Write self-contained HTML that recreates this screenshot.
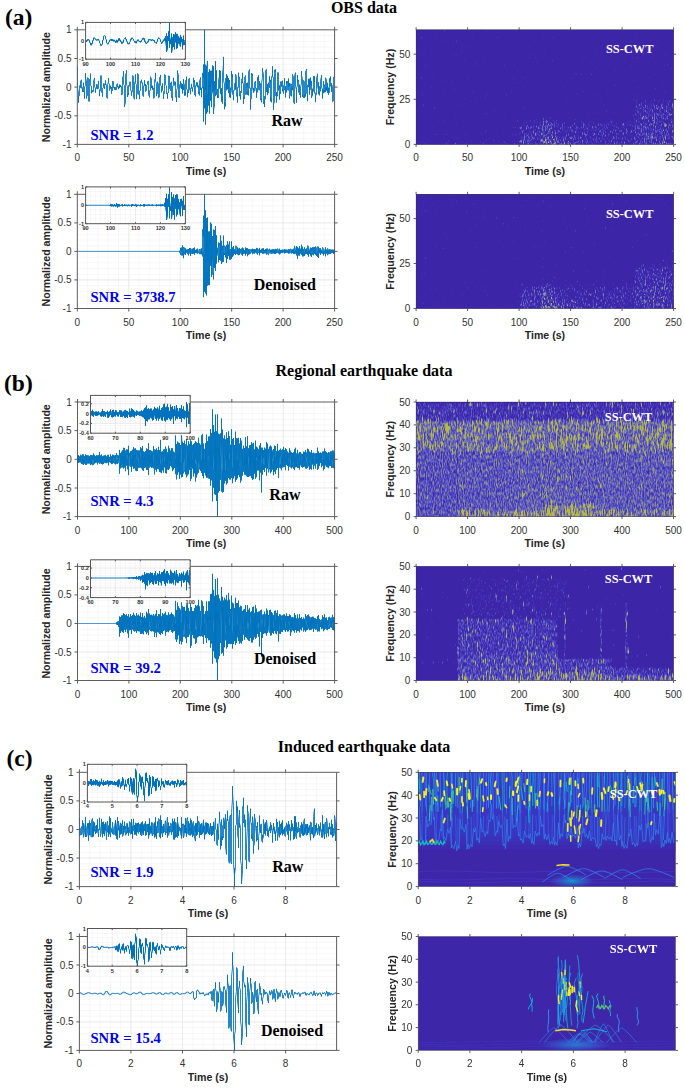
<!DOCTYPE html>
<html><head><meta charset="utf-8"><style>
html,body{margin:0;padding:0;background:#fff;width:685px;height:1088px;overflow:hidden}
svg{display:block}

</style></head><body><svg width="685" height="1088" viewBox="0 0 685 1088" font-family="Liberation Sans, sans-serif"><text x="5" y="25" font-family="Liberation Serif, serif" font-weight="bold" font-size="23.5">(a)</text><text x="364" y="12.5" font-family="Liberation Serif, serif" font-weight="bold" font-size="16" text-anchor="middle">OBS data</text><text x="4" y="391.3" font-family="Liberation Serif, serif" font-weight="bold" font-size="23.5">(b)</text><text x="364" y="376.3" font-family="Liberation Serif, serif" font-weight="bold" font-size="16" text-anchor="middle">Regional earthquake data</text><text x="6.5" y="766" font-family="Liberation Serif, serif" font-weight="bold" font-size="23.5">(c)</text><text x="364" y="752.4" font-family="Liberation Serif, serif" font-weight="bold" font-size="16" text-anchor="middle">Induced earthquake data</text><path d="M87.6 29.8V144.4M97.9 29.8V144.4M108.2 29.8V144.4M118.5 29.8V144.4M128.8 29.8V144.4M139.1 29.8V144.4M149.3 29.8V144.4M159.6 29.8V144.4M169.9 29.8V144.4M180.2 29.8V144.4M190.5 29.8V144.4M200.8 29.8V144.4M211.1 29.8V144.4M221.4 29.8V144.4M231.7 29.8V144.4M242 29.8V144.4M252.3 29.8V144.4M262.6 29.8V144.4M272.8 29.8V144.4M283.1 29.8V144.4M293.4 29.8V144.4M303.7 29.8V144.4M314 29.8V144.4M324.3 29.8V144.4M77.3 138.7H334.6M77.3 132.9H334.6M77.3 127.2H334.6M77.3 121.5H334.6M77.3 115.8H334.6M77.3 110H334.6M77.3 104.3H334.6M77.3 98.6H334.6M77.3 92.8H334.6M77.3 87.1H334.6M77.3 81.4H334.6M77.3 75.6H334.6M77.3 69.9H334.6M77.3 64.2H334.6M77.3 58.5H334.6M77.3 52.7H334.6M77.3 47H334.6M77.3 41.3H334.6M77.3 35.5H334.6" stroke="#f1f1f1" stroke-width="0.6" fill="none"/><path d="M128.8 29.8V144.4M180.2 29.8V144.4M231.7 29.8V144.4M283.1 29.8V144.4M77.3 115.8H334.6M77.3 87.1H334.6M77.3 58.5H334.6" stroke="#e6e6e6" stroke-width="0.7" fill="none"/><clipPath id="c8"><rect x="77.3" y="28.8" width="257.3" height="116.6"/></clipPath><g clip-path="url(#c8)"><path d="M77.5 66.3V89.1L78.5 91.3V102.6V95.9L79.5 95.8V85.6L80.5 85.4V87.7V80.8L81.5 80.2V79.8V88.3L82.5 89V91.9V87.5L83.5 86.3V82.7V91.9V91.1L84.5 92.7V98.7V86.9L85.5 85.5V73.2V78.4L86.5 80.4V98.3V96L87.5 95.7V77.6V78.3L88.5 78.2V101.2V101.2L89.5 101.1V101.3V79.2L90.5 78.4V73.6V85.6L91.5 86.1V86V93.3V90.9L92.5 90.6V92.2V90.3L93.5 91V91.4V80.6L94.5 78.8V77.9V86.9L95.5 88.1V92.7V88.9L96.5 87.3V84.3V88.4V88.1L97.5 87.8V89.1V84.8L98.5 83.7V80.9V88.5L99.5 89.6V96.1V90.8L100.5 90.8V75.6L101.5 75.8V92.4L102.5 93.5V96.7V88.1L103.5 87.6V83.5V85.6L104.5 86.4V88.9V83.8L105.5 84.6V85V80.3V83.5L106.5 84.8V97.2V97.1L107.5 98.4V84.3L108.5 82V78V83L109.5 84.1V90.5V89.2L110.5 88.9V85.7V87.8L111.5 88.4V87.1V93.6V91.6L112.5 89.9V90.4V81.3V82L113.5 81.6V81.5V87.9V87.8L114.5 87.9V89.7V87V88.7L115.5 88.7V87.3V90L116.5 89.7V84.6L117.5 84V83.6V87.2V86.4L118.5 87.7V89.1V86.6V87.8L119.5 87.5V84.6V88.1V85.3L120.5 85.8V86.9V84.9V86.5L121.5 86.4V95.1V94.5L122.5 94.3V77.2V77.5L123.5 75.8V71.3V84.4L124.5 85.6V106.7V105L125.5 103.6V74.2L126.5 72.7V70.1V85.1L127.5 86.1V96.9V94.7L128.5 93.1V95.1V85.4V85.5L129.5 86.3V86.3V82.1L130.5 82.4V81.8V90.4L131.5 90.8V95.7V92.4L132.5 91.9V75.4L133.5 76.1V97.9L134.5 98.9V99.3V82.5L135.5 80.8V74.4V83.4L136.5 84.5V99.1V94.5L137.5 93.9V73.5V73.9L138.5 74.3V94.5V94.1L139.5 95V99.1V90.8L140.5 90.6V81.2V81.4L141.5 81.8V79.7V83L142.5 82.6V82.5V95.4L143.5 96.1V96.5V85.8L144.5 85.8V80.3V84.6L145.5 85.4V84V91.8V91.6L146.5 90.7V85.4V85.7L147.5 84.6V81.6L148.5 81V95.1L149.5 96.6V97.4V90.6L150.5 90.4V76.7V77.6L151.5 78.3V78.3V88V86.5L152.5 88V89.7V85.7V88.6L153.5 88V98.3V98.2L154.5 97.6V79.5L155.5 78.6V72.9V81.7V81.6L156.5 83.5V96.1V93.3L157.5 93.7V81.7V83.1L158.5 83.6V97.9V97.9L159.5 97V77.5L160.5 77.1V74.9V85.4L161.5 86V92.3V89.5L162.5 88.3V83.4V90.5L163.5 91.4V98.8V93.9L164.5 93.7V74.5V75.5L165.5 75.4V75.2V84.9L166.5 85.8V93.7V93.2L167.5 93V98.6V93.3L168.5 92.6V92.9V75.8V76.4L169.5 76.5V76.1V88.8L170.5 89.7V90.9V82.8V84L171.5 83.1V81.8V97.6V97.3L172.5 96.6V100.5V86.1L173.5 85.8V77.8V81.1L174.5 81.6V85.4V83.6L175.5 83.9V81.8V97.2L176.5 96.7V102V90.3L177.5 87.8V70.6V72.7L178.5 74.5V97.2V96.9L179.5 97.4V97.7V85.1L180.5 83.7V81.2V87.4L181.5 87.8V83.4V88.9V87.4L182.5 87.3V93.4V84.1V88.4L183.5 86.4V90.1V79.2V82.7L184.5 84.8V84.7V95.7V92L185.5 92.7V95.4V80.6V80.9L186.5 80.8V76.7V89L187.5 90.2V89.8V97.2V92L188.5 92.3V93V79.2V79.5L189.5 78.2V89.9L190.5 91.1V94.2V88.1L191.5 88.4V83.9V87.9L192.5 88.8V91.5V87.3L193.5 86.8V77.8V81.3L194.5 82.5V80.1V94.7V93.9L195.5 95.4V96.4V85.9V86.9L196.5 83.8V82.4V85.5L197.5 86.3V87.1V82.5V86.8L198.5 87.4V85.6V94.1V92.8L199.5 91.8V95.4V80.3L200.5 79V77.5V90V87.6L201.5 88.9V97.1V87.8V88.7L202.5 88.1V72.9L203.5 77.7V64.5V121.5V87L204.5 85.1V29.8V108.4V87.3L205.5 89.7V64.7V124.6V95.8L206.5 93.2V65.9V113.8V70.3L207.5 61V112.2V93.8L208.5 95.6V72.2V105.6V92.6L209.5 78.2V69.2V113.5V82.2L210.5 87.4V100.7V70.8V87.4L211.5 81.4V70.7V107.1V95.6L212.5 91.6V65.5V91.9L213.5 91.4V66.2V114V110.9L214.5 105.2V106V81.3V90.5L215.5 94.9V96.2V61.2V90L216.5 81.6V70.4V94.8V93.6L217.5 89.8V89V98V95.5L218.5 98V79.9L219.5 76.3V70V88.5V87.5L220.5 78.7V70.8V93.7V88.9L221.5 96V88.2V101.6V95.9L222.5 97V103.6V73.6V74L223.5 64.2V56.9V80.9L224.5 84V109.2V102L225.5 104V106.3V78.4V78.4L226.5 80.7V90.3V74.1V85.5L227.5 82.3V75.8V89.3V86.1L228.5 81.7V78.1V93V86.1L229.5 81.1V80V97.2V91.5L230.5 90V87.6V97.9V93.6L231.5 90.5V71.1V74.6L232.5 77.4V74.4V94.6L233.5 95.1V100.2V90.3V91.3L234.5 90.2V83.5L235.5 82.6V89.6V74.1L236.5 76.4V96.3L237.5 94.4V102.6V87.3L238.5 87.4V72.7V77.1L239.5 76.9V96.1V94.9L240.5 94.8V99.5V91.2V91.9L241.5 92.5V92.7V79.3V79.9L242.5 77.9V72.8V82.8V81.8L243.5 84.1V103.8V96.8L244.5 98.9V77.1L245.5 76.5V75.6V94.6V94.3L246.5 93.6V94.4V83.3V83.3L247.5 87V82.7V94.8V92.4L248.5 90.4V95.4V71.5L249.5 70V69.5V88.2L250.5 88V109.5V99.4L251.5 98.8V73.1V74.4L252.5 75.6V73.8V88.7L253.5 91.2V87.9V92.7V91.8L254.5 91.3V82.4L255.5 82.5V81.1V88.6L256.5 91.5V97.8V88.3L257.5 90V92.3V77.3V80.6L258.5 80V75.2V89.8L259.5 90V90V81.1V85.8L260.5 83.7V83.5V100.2V98.3L261.5 100.1V102.3V82.9L262.5 77.7V68.2V71.1L263.5 73.4V103.8L264.5 100.5V107V96.2V98.2L265.5 99.1V70.5L266.5 69.3V92V89.6L267.5 87.5V95.1V84.2V92.3L268.5 93.1V82.6V84.7L269.5 86.3V87.7V76.4V79L270.5 82V79.9V101.3V97.5L271.5 100.2V102.3V76.5L272.5 75.5V66.2V77.2V76.7L273.5 77.2V109.7V104.1L274.5 102.4V69.8V70.6L275.5 71.8V69.5V95.9L276.5 94.7V92.2V102.7V95.9L277.5 95.1V96.2V72.6L278.5 72.6V90.5V90.4L279.5 87.3V85.4V99.5V91.9L280.5 92.9V93.8V81.7L281.5 82.5V81.5V86.6V84.6L282.5 81.7V80.7V91.1V89.3L283.5 92.9V93.6V85.3L284.5 84.2V78.2V90L285.5 89.1V86.2V97.4V89.3L286.5 91.8V92.4V81V83.6L287.5 81.8V81.2V90.1L288.5 90.4V78.5V86.5L289.5 85.7V83V98.3V96.6L290.5 95.3V83.8L291.5 84.4V83.9V96.3V87.9L292.5 87.3V90.2V74.1V75.2L293.5 76.6V102.6L294.5 103.5V104V75.8L295.5 73.1V72.7V86L296.5 90.2V102.7V87.7L297.5 86.1V75.1V81.5L298.5 80.6V79.9V92.3L299.5 92.2V84.6V94.9V94L300.5 93.1V97.5V86.7L301.5 84.1V71.1V75.4L302.5 78.4V96.8V95.2L303.5 97.4V97.9V80.3L304.5 81.7V97.8V94.6L305.5 94V96.5V71.1L306.5 70.2V69.1V93.3L307.5 94.7V101.2V84.9L308.5 86V87.1V78.8V83.7L309.5 87.8V78.8V94.5V88.2L310.5 89.7V77.6V83.4L311.5 85.9V80.9V97.9V97.4L312.5 94.8V88.7V95.3V90.1L313.5 91.4V76.1V78.2L314.5 81.6V76.5V93.2L315.5 92.8V102.1V95.1L316.5 94.8V77.7L317.5 75.3V73.8V86L318.5 89.6V82.3V94.2V91.3L319.5 91.9V95.4V86.4L320.5 88.7V91.3V80.1L321.5 76.7V75.2V87.8L322.5 89.3V88.8V98.5V90.2L323.5 90.2V93.2V81.3V85.3L324.5 85.8V84.7V92.4V89.9L325.5 88.3V92.1V77.7L326.5 79.9V90.6V87.4L327.5 86.5V92.8V82.8V88L328.5 88.4V94.8V87.7V92.8L329.5 92.3V92.6V78.3V81.4L330.5 79.3V76.5V86.3V84.9L331.5 85.1V91.8V83.1V84.2L332.5 86.5V101.8L333.5 100.9V77L334.5 77.1V64.3V64.6" stroke="#0072bd" stroke-width="0.85" fill="none" stroke-linejoin="round"/></g><path d="M77.3 29.8H334.6V144.4H77.3Z" stroke="#4d4d4d" stroke-width="0.9" fill="none"/><path d="M77.3 144.4v3M77.3 29.8v-3M128.8 144.4v3M128.8 29.8v-3M180.2 144.4v3M180.2 29.8v-3M231.7 144.4v3M231.7 29.8v-3M283.1 144.4v3M283.1 29.8v-3M334.6 144.4v3M334.6 29.8v-3M77.3 144.4h-3M334.6 144.4h3M77.3 115.8h-3M334.6 115.8h3M77.3 87.1h-3M334.6 87.1h3M77.3 58.5h-3M334.6 58.5h3M77.3 29.8h-3M334.6 29.8h3" stroke="#4d4d4d" stroke-width="0.9" fill="none"/><g font-size="10" fill="#333333"><text x="77.3" y="161.4" text-anchor="middle">0</text><text x="128.8" y="161.4" text-anchor="middle">50</text><text x="180.2" y="161.4" text-anchor="middle">100</text><text x="231.7" y="161.4" text-anchor="middle">150</text><text x="283.1" y="161.4" text-anchor="middle">200</text><text x="334.6" y="161.4" text-anchor="middle">250</text><text x="71.5" y="147.9" text-anchor="end">-1</text><text x="71.5" y="119.2" text-anchor="end">-0.5</text><text x="71.5" y="90.6" text-anchor="end">0</text><text x="71.5" y="62" text-anchor="end">0.5</text><text x="71.5" y="33.3" text-anchor="end">1</text></g><text x="206" y="174.6" text-anchor="middle" font-weight="bold" font-size="10.6" fill="#262626">Time (s)</text><text transform="translate(49.8 87.1) rotate(-90)" text-anchor="middle" font-weight="bold" font-size="10.6" fill="#262626">Normalized amplitude</text><rect x="85.6" y="22.4" width="99.8" height="36.8" fill="#fff"/><path d="M90.6 22.4V59.2M95.6 22.4V59.2M100.6 22.4V59.2M105.6 22.4V59.2M110.5 22.4V59.2M115.5 22.4V59.2M120.5 22.4V59.2M125.5 22.4V59.2M130.5 22.4V59.2M135.5 22.4V59.2M140.5 22.4V59.2M145.5 22.4V59.2M150.5 22.4V59.2M155.5 22.4V59.2M160.4 22.4V59.2M165.4 22.4V59.2M170.4 22.4V59.2M175.4 22.4V59.2M180.4 22.4V59.2M85.6 54.6H185.4M85.6 50H185.4M85.6 45.4H185.4M85.6 40.8H185.4M85.6 36.2H185.4M85.6 31.6H185.4M85.6 27H185.4" stroke="#f1f1f1" stroke-width="0.6" fill="none"/><path d="M110.5 22.4V59.2M135.5 22.4V59.2M160.4 22.4V59.2M85.6 40.8H185.4" stroke="#e6e6e6" stroke-width="0.7" fill="none"/><clipPath id="c20"><rect x="85.6" y="22.4" width="99.8" height="36.8"/></clipPath><g clip-path="url(#c20)"><path d="M85.5 41.1V41.6V41.5L86.5 41.4V42V40.7V41.1L87.5 40.8V39.4V39.8L88.5 39.8V39.1V40.1L89.5 40.2V42.7L90.5 42.9V45L91.5 45.1V43.3V43.6L92.5 43.9V40.5L93.5 40.4V37.8L94.5 37.9V37.8V38.5L95.5 38.7V39.6L96.5 39.8V39.6V40.3V40.2L97.5 40.1V39.3V39.8L98.5 39.4V39.1V40.4L99.5 40.9V42.9L100.5 43.7V45.4V45.3L101.5 45.4V45.6V44.6L102.5 44.2V40.3L103.5 39.9V36.2L104.5 35.5V35.5V35.9L105.5 36.2V39L106.5 39.6V42.9L107.5 43.4V44.2V44.1L108.5 43.9V42.3L109.5 41.9V40.2L110.5 39.7V39.3V40.3V40L111.5 40.3V40.6V38.9V40.3L112.5 39.8V41V39.6L113.5 39.8V41.4V41.3L114.5 40.6V39.9V41.2V40.9L115.5 41.2V41.1V42.8V41.9L116.5 40.4V39.8V42.3L117.5 42.5V40.5V41.8L118.5 41.1V38.5V39.7L119.5 40.3V38.3V40.2L120.5 40V41.8L121.5 42.3V41.6V43.6V42.9L122.5 42.4V43.5V42L123.5 42.3V42.4V39.8L124.5 39V38.4L125.5 38.1V37.5V39.2L126.5 39.3V39.2V41.4L127.5 41.8V41.7V43.8V43.8L128.5 43.7V43.1V44L129.5 43.9V42.1L130.5 41.5V39.1L131.5 38.5V39.5V37.9L132.5 38V38.8V38V38.4L133.5 39.1V40.6L134.5 41.2V42.4V42.2L135.5 42.6V42.7V41.3V42.3L136.5 43.1V41.1L137.5 41V39.8L138.5 39.8V41.1L139.5 41.3V41.2V41.9V41.8L140.5 41.8V42.2V41.3V42L141.5 41.6V40L142.5 39.7V39.8V38.3V38.6L143.5 38.8V37.8V39.3L144.5 39.2V38.5V41.5V41.2L145.5 41.1V43.2L146.5 43.2V42.9V43.8V43.1L147.5 42.8V41.6V42L148.5 41.9V39.3L149.5 39.8V40.1V39.3V39.6L150.5 39.8V40.2V39.7L151.5 39.9V40.8V39.9L152.5 39.5V39.3V40.3V40.1L153.5 40V40.9V40.6L154.5 40.3V42.3L155.5 42.8V43V42.6L156.5 42.3V43.5V42L157.5 41.8V39L158.5 38.7V38.7V37.7V38L159.5 38.3V38.3V39L160.5 39.5V41.7V41.4L161.5 42.2V44V43.2L162.5 42.8V43V41.1L163.5 41V41.3V39.7V39.7L164.5 40.2V40.6V38.2L165.5 38.7V36.2V42.4L166.5 46.2V33.5V51.9L167.5 48.9V36.3V38L168.5 40V40.8V31.4L169.5 33.4V22.4V47.7V36.3L170.5 39.9V44L171.5 43.1V33.6V52.9L172.5 48.4V37.4V43.6L173.5 42.8V34V46.9L174.5 42.4V49.4V34.7L175.5 35.3V32.4V42.4L176.5 41V48.8V34L177.5 34.1V48.1V43.5L178.5 43.6V36V38L179.5 37.8V44.5L180.5 46.7V35.1V38.2L181.5 38.7V41.5V36.9V39.9L182.5 45.2V49.3V39.2V43.9L183.5 45.2V35.6V43.8L184.5 43.5V41.7V44.9V43L185.5 42V36.6" stroke="#0072bd" stroke-width="1.0" fill="none" stroke-linejoin="round"/></g><path d="M85.6 22.4H185.4V59.2H85.6Z" stroke="#555555" stroke-width="1.0" fill="none"/><path d="M85.6 59.2v-1.5M85.6 22.4v1.5M110.5 59.2v-1.5M110.5 22.4v1.5M135.5 59.2v-1.5M135.5 22.4v1.5M160.4 59.2v-1.5M160.4 22.4v1.5M185.4 59.2v-1.5M185.4 22.4v1.5M85.6 59.2h1.5M185.4 59.2h-1.5M85.6 40.8h1.5M185.4 40.8h-1.5M85.6 22.4h1.5M185.4 22.4h-1.5" stroke="#555555" stroke-width="1.0" fill="none"/><g font-size="5.6" fill="#333333" font-weight="bold"><text x="85.6" y="65.5" text-anchor="middle">90</text><text x="110.5" y="65.5" text-anchor="middle">100</text><text x="135.5" y="65.5" text-anchor="middle">110</text><text x="160.4" y="65.5" text-anchor="middle">120</text><text x="185.4" y="65.5" text-anchor="middle">130</text><text x="84" y="61.2" text-anchor="end">-1</text><text x="84" y="42.8" text-anchor="end">0</text><text x="84" y="24.4" text-anchor="end">1</text></g><text x="90.5" y="140" font-family="Liberation Serif, serif" font-weight="bold" font-size="14.6" fill="#0000f0">SNR = 1.2</text><text x="287" y="125.5" font-family="Liberation Serif, serif" font-weight="bold" font-size="16" fill="#000" text-anchor="middle">Raw</text><rect x="416.1" y="29.8" width="257.5" height="114.6" fill="#3e26a8"/><clipPath id="sc30"><rect x="416.1" y="29.8" width="257.5" height="114.6"/></clipPath><g clip-path="url(#sc30)"><defs><filter id="sf32" filterUnits="userSpaceOnUse" x="416.1" y="29.8" width="257.5" height="114.6" color-interpolation-filters="sRGB"><feGaussianBlur in="SourceGraphic" stdDeviation="1.5 3" result="I"/><feColorMatrix in="I" type="matrix" values="1 0 0 0 0 1 0 0 0 0 1 0 0 0 0 0 0 0 0 1" result="IM"/><feColorMatrix in="I" type="matrix" values="0 1 0 0 0 0 1 0 0 0 0 1 0 0 0 0 0 0 0 1" result="IS"/><feTurbulence type="fractalNoise" baseFrequency="0.9 0.3" numOctaves="2" seed="3" result="n1"/><feColorMatrix in="n1" type="matrix" values="1 0 0 0 0 1 0 0 0 0 1 0 0 0 0 0 0 0 0 1" result="g1"/><feTurbulence type="fractalNoise" baseFrequency="1.1 0.25" numOctaves="2" seed="4" result="n2"/><feColorMatrix in="n2" type="matrix" values="1 0 0 0 0 1 0 0 0 0 1 0 0 0 0 0 0 0 0 1" result="g2"/><feComposite in="IM" in2="g1" operator="arithmetic" k1="0" k2="1.0" k3="2.0" k4="-1.5" result="m1"/><feComposite in="IS" in2="g2" operator="arithmetic" k1="0" k2="3.2" k3="8" k4="-7.2" result="m2"/><feBlend in="m1" in2="m2" mode="lighten" result="m"/><feComponentTransfer in="m"><feFuncR type="table" tableValues="0.243 0.275 0.337 0.455 0.557 0.643 0.729"/><feFuncG type="table" tableValues="0.149 0.220 0.314 0.463 0.580 0.659 0.729"/><feFuncB type="table" tableValues="0.659 0.729 0.769 0.698 0.486 0.345 0.251"/><feFuncA type="linear" slope="0" intercept="1"/></feComponentTransfer><feGaussianBlur stdDeviation="0.4"/></filter></defs><g filter="url(#sf32)"><rect x="412.1" y="25.8" width="265.5" height="122.6" fill="#000"/><rect x="416.1" y="142.6" width="103" height="8.7" fill="#739900"/><rect x="519.1" y="120.9" width="164.8" height="30.3" fill="#733300"/><rect x="519.1" y="120.9" width="20.6" height="30.3" fill="#804c00"/><rect x="519.1" y="137.9" width="12.4" height="2.2" fill="#f24c00"/><rect x="539.7" y="119.1" width="13.4" height="32.1" fill="#a6ad00"/><rect x="541.8" y="137.2" width="18.5" height="14.1" fill="#b2e600"/><rect x="560.3" y="139" width="20.6" height="12.3" fill="#99b800"/><rect x="580.9" y="140.8" width="53.6" height="10.5" fill="#808000"/><rect x="634.5" y="101.1" width="49.4" height="50.2" fill="#8c6b00"/><rect x="639.6" y="122.7" width="28.8" height="28.5" fill="#998c00"/></g></g><path d="M416.1 144.4v2.5M416.1 29.8v-2.5M467.6 144.4v2.5M467.6 29.8v-2.5M519.1 144.4v2.5M519.1 29.8v-2.5M570.6 144.4v2.5M570.6 29.8v-2.5M622.1 144.4v2.5M622.1 29.8v-2.5M673.6 144.4v2.5M673.6 29.8v-2.5M416.1 144.4h-2.5M673.6 144.4h2.5M416.1 99.3h-2.5M673.6 99.3h2.5M416.1 54.2h-2.5M673.6 54.2h2.5" stroke="#4d4d4d" stroke-width="0.9" fill="none"/><rect x="416.1" y="29.8" width="257.5" height="114.6" fill="none" stroke="#262626" stroke-opacity="0.55" stroke-width="0.6"/><g font-size="10" fill="#333333"><text x="416.1" y="161.4" text-anchor="middle">0</text><text x="467.6" y="161.4" text-anchor="middle">50</text><text x="519.1" y="161.4" text-anchor="middle">100</text><text x="570.6" y="161.4" text-anchor="middle">150</text><text x="622.1" y="161.4" text-anchor="middle">200</text><text x="673.6" y="161.4" text-anchor="middle">250</text><text x="410.3" y="147.9" text-anchor="end">0</text><text x="410.3" y="102.8" text-anchor="end">25</text><text x="410.3" y="57.7" text-anchor="end">50</text></g><text x="544.9" y="174.6" text-anchor="middle" font-weight="bold" font-size="10.6" fill="#262626">Time (s)</text><text transform="translate(394.1 87.1) rotate(-90)" text-anchor="middle" font-weight="bold" font-size="10.6" fill="#262626">Frequency (Hz)</text><text x="629.7" y="52.5" font-family="Liberation Serif, serif" font-weight="bold" font-size="12.4" fill="#fff" text-anchor="middle">SS-CWT</text><path d="M87.6 194.3V308.5M97.9 194.3V308.5M108.2 194.3V308.5M118.5 194.3V308.5M128.8 194.3V308.5M139.1 194.3V308.5M149.3 194.3V308.5M159.6 194.3V308.5M169.9 194.3V308.5M180.2 194.3V308.5M190.5 194.3V308.5M200.8 194.3V308.5M211.1 194.3V308.5M221.4 194.3V308.5M231.7 194.3V308.5M242 194.3V308.5M252.3 194.3V308.5M262.6 194.3V308.5M272.8 194.3V308.5M283.1 194.3V308.5M293.4 194.3V308.5M303.7 194.3V308.5M314 194.3V308.5M324.3 194.3V308.5M77.3 302.8H334.6M77.3 297.1H334.6M77.3 291.4H334.6M77.3 285.7H334.6M77.3 279.9H334.6M77.3 274.2H334.6M77.3 268.5H334.6M77.3 262.8H334.6M77.3 257.1H334.6M77.3 251.4H334.6M77.3 245.7H334.6M77.3 240H334.6M77.3 234.3H334.6M77.3 228.6H334.6M77.3 222.9H334.6M77.3 217.1H334.6M77.3 211.4H334.6M77.3 205.7H334.6M77.3 200H334.6" stroke="#f1f1f1" stroke-width="0.6" fill="none"/><path d="M128.8 194.3V308.5M180.2 194.3V308.5M231.7 194.3V308.5M283.1 194.3V308.5M77.3 279.9H334.6M77.3 251.4H334.6M77.3 222.9H334.6" stroke="#e6e6e6" stroke-width="0.7" fill="none"/><clipPath id="c43"><rect x="77.3" y="193.3" width="257.3" height="116.2"/></clipPath><g clip-path="url(#c43)"><path d="M77.5 251.4V251.4L78.5 251.4V251.4L79.5 251.4V251.4L80.5 251.4V251.4L81.5 251.4V251.4L82.5 251.4V251.4L83.5 251.4V251.4L84.5 251.4V251.4L85.5 251.4V251.4L86.5 251.4V251.4L87.5 251.4V251.4L88.5 251.4V251.4L89.5 251.4V251.4L90.5 251.4V251.4L91.5 251.4V251.4L92.5 251.4V251.4L93.5 251.4V251.4L94.5 251.4V251.4L95.5 251.4V251.4L96.5 251.4V251.4L97.5 251.4V251.4L98.5 251.4V251.4L99.5 251.4V251.4L100.5 251.4V251.4L101.5 251.4V251.4L102.5 251.4V251.4L103.5 251.4V251.4L104.5 251.4V251.4L105.5 251.4V251.4L106.5 251.4V251.4L107.5 251.4V251.4L108.5 251.4V251.4L109.5 251.4V251.4L110.5 251.4V251.4L111.5 251.4V251.4L112.5 251.4V251.4L113.5 251.4V251.4L114.5 251.4V251.4L115.5 251.4V251.4L116.5 251.4V251.4L117.5 251.4V251.4L118.5 251.4V251.4L119.5 251.4V251.4L120.5 251.4V251.4L121.5 251.4V251.4L122.5 251.4V251.4L123.5 251.4V251.4L124.5 251.4V251.4L125.5 251.4V251.4L126.5 251.4V251.4L127.5 251.4V251.4L128.5 251.4V251.4L129.5 251.4V251.4L130.5 251.4V251.4L131.5 251.4V251.4L132.5 251.4V251.4L133.5 251.4V251.4L134.5 251.4V251.4L135.5 251.4V251.4L136.5 251.4V251.4L137.5 251.4V251.4L138.5 251.4V251.4L139.5 251.4V251.4L140.5 251.4V251.4L141.5 251.4V251.4L142.5 251.4V251.4L143.5 251.4V251.4L144.5 251.4V251.4L145.5 251.4V251.4L146.5 251.4V251.4L147.5 251.4V251.4L148.5 251.4V251.4L149.5 251.4V251.4L150.5 251.4V251.4L151.5 251.4V251.4L152.5 251.4V251.4L153.5 251.4V251.4L154.5 251.4V251.4L155.5 251.4V251.4L156.5 251.4V251.4L157.5 251.4V251.4L158.5 251.4V251.4L159.5 251.4V251.4L160.5 251.4V251.4L161.5 251.4V251.4L162.5 251.4V251.4L163.5 251.4V251.4L164.5 251.4V251.4L165.5 251.4V251.4L166.5 251.4V251.4L167.5 251.4V251.4L168.5 251.4V251.4L169.5 251.4V251.4L170.5 251.4V251.4L171.5 251.4V251.4L172.5 251.4V251.4L173.5 251.4V251.4L174.5 251.4V251.4L175.5 251.4V251.4L176.5 251.4V251.4L177.5 251.4V251.4L178.5 251.4V251.4L179.5 251.4V251.3V252.7V251.9L180.5 249.7V247.9V254.8V253.1L181.5 254.1V255.4V247.6V251.6L182.5 250.8V255.5V245.3V250.1L183.5 247V258.2V250.9L184.5 253.8V254.3V247.6L185.5 248.7V254.9V248.4V253.5L186.5 252.8V249.6V251.8L187.5 251.9V254.1V249.3V249.8L188.5 251.3V249.1V255.4V253.2L189.5 250.7V248.1V253.4L190.5 253.6V248.2V255.9V249L191.5 249.1V253.6V252L192.5 251.9V253.8V248.7V251.3L193.5 252.3V253.6V248V252.3L194.5 254.3V247.5V254.5V251.6L195.5 252.3V252.9V249.9V251.9L196.5 250.2V253.2V249.4V251L197.5 252.5V253.5V248.6V253.2L198.5 252.9V250.5L199.5 249V254.1V252.5L200.5 252.5V254.1V249.2L201.5 248.8V254.3V248.5V253L202.5 252.7V256.4V229.5L203.5 237V215.7V297.1V253.6L204.5 251.8V194.3V291.7V254L205.5 256.1V210.3V293.5V255L206.5 251.5V218V295.4V234L207.5 219.4V285.7V217.5V257L208.5 261.7V231.6V285.2V266.1L209.5 245.5V231.3V284.8V237.4L210.5 245.1V222.4V265.7V250.3L211.5 240.6V276.8V223.8V263.8L212.5 258.8V236.1V274.5L213.5 272.7V279.3V229.6V266.8L214.5 259.5V229.9V268.1V257.8L215.5 265.9V270.9V226.2V265.2L216.5 252.3V235.3V263.5V249.9L217.5 252.7V247.7V255.1L218.5 256.6V262.3V242.5V246.8L219.5 243V260V254.3L220.5 244.4V235.4V260.5V244.6L221.5 252.6V264V240.8V250.3L222.5 250.7V245.8V262.2V257.1L223.5 244.8V235.6V261.8V252L224.5 253.4V255V245.7V246L225.5 247.5V257.4V246.7V249.4L226.5 247.7V244.9V262.9V254.4L227.5 249V241.4V259V252L228.5 246.9V244.6V256.1V247.9L229.5 242.3V241.5V259.6V250.3L230.5 250V249V259.7V251.7L231.5 252.3V241.3V258.8V250.5L232.5 252.9V256.9V247.4V253.1L233.5 253.5V246V255.5V254.5L234.5 252.4V249.3V253.9V252.6L235.5 250.7V255V245.8L236.5 246.2V253.7V251L237.5 252V254.4V247.3V251.4L238.5 253.2V248.6V255.2V253.5L239.5 251.7V247.9V254.9V251.8L240.5 253.1V253.3V249.1V251L241.5 253.8V254.7V248.6V248.9L242.5 248.2V255.8V247.6L243.5 249.6V253.9V248.7V251.3L244.5 252V250.4V253.6V251.5L245.5 250.3V247.4V255.5V251L246.5 250.1V248.2V253.6V250.7L247.5 254.1V256.2V248.2V250.4L248.5 250.1V254.7V249V249.4L249.5 250.2V254.2V249.4V249.9L250.5 249.5V253.6V252.8L251.5 252.3V249.2V251.7L252.5 251.9V254.2V248.7V251.3L253.5 252.7V253.3V249.1V252.6L254.5 252.1V249.1V253.6V250.3L255.5 250.6V252.6V249.3V251.4L256.5 252.7V253.4V247.9V250.7L257.5 252.6V254.6V248.3V250.2L258.5 249.7V249.4V252.9V252L259.5 251.9V247.9V255.3V250.2L260.5 250.6V250.1V252.7V250.4L261.5 250.9V252.9V248.8V252.2L262.5 252.4V253.8V248.5V250.5L263.5 250.2V253.6V248.2V252.7L264.5 251.2V249.9V253.3V250.1L265.5 251.1V249V253.3V252.4L266.5 252.7V248.7V254.5V250.4L267.5 248.8V248.5V254.1L268.5 254.9V249.7V251.3L269.5 250V248.8V253.2L270.5 253.5V249.8V252L271.5 251.4V249.7V253.7V250.1L272.5 250.6V249.2V253.5V251.4L273.5 250.3V253.4V249.3V251.8L274.5 253.4V253.9V249.5V253.6L275.5 253.6V248.9V253.6V252.1L276.5 250.2V249.2V253.2V250.7L277.5 251.7V252.8V248.6L278.5 249.5V253.4V252.2L279.5 250.1V248.7V254.4V251.5L280.5 252.1V250V253.6V250.7L281.5 251.2V249.9V252.8V251.2L282.5 249.8V253.1V249.7V250.7L283.5 251.7V249.8V252.4L284.5 252.2V253.4V249.3V252.8L285.5 252.4V249.7V252.9V250.1L286.5 250.1V252.5V249.6L287.5 249.9V252.9V251.2L288.5 251.8V249V253.5V251.9L289.5 252.9V253.3V249.4V252.7L290.5 252.9V248.8V249.5L291.5 250.5V249.5V253.5V250.6L292.5 249.9V253.1V249.6V251.2L293.5 251.9V254V248.7V252.8L294.5 251.7V254.1V245.9V246.4L295.5 248.7V253.5V250.6L296.5 252.7V246V255.4V249.1L297.5 250.4V258.6V246.9V252.9L298.5 252.3V255.5V248.3V253.8L299.5 254V246.2V255.7V251.1L300.5 250.6V248.7V253.7V250.4L301.5 248.3V254.9V244.7V247.3L302.5 252.5V256.4V246.7V250.3L303.5 249.1V256.3V251.2L304.5 248V247.3V256V252.2L305.5 253.3V249V254.2V252.8L306.5 252.1V248.4V253.9V253L307.5 251.2V254.6V245.7L308.5 246.1V256.7V248.2L309.5 249.4V254V250.9L310.5 250.5V255.6V247.6V250.1L311.5 251V247.9V257V254.9L312.5 250.2V247.2V254.5V253.2L313.5 252.5V255.3V247.3V250.7L314.5 253.2V247.1V253.7V251.4L315.5 251V254.7V246.5V253.2L316.5 252.8V255.9V248L317.5 246.6V256.9V251.7L318.5 251.8V246.7V258V249.9L319.5 249.9V253.3V248.2V248.3L320.5 249.9V255V248.1V251.6L321.5 250.9V253.3V249.8V252.3L322.5 252.2V253.7V247.2L323.5 248.5V255.4V251.4L324.5 252.7V253.7V249.7L325.5 249.1V256.3V247.3V248.3L326.5 250.8V253.6V249.8V250.6L327.5 250.5V255.2V248.3L328.5 249.3V254.3V250.8L329.5 252.8V253.9V249.3V251.8L330.5 251.9V253.8V249.5V252.8L331.5 252.1V249.7V252.9L332.5 252.5V249.6V252.7L333.5 252.5V249.7V253.9V250.7L334.5 252.4V253.2V250.7V251.4" stroke="#0072bd" stroke-width="0.85" fill="none" stroke-linejoin="round"/></g><path d="M77.3 194.3H334.6V308.5H77.3Z" stroke="#4d4d4d" stroke-width="0.9" fill="none"/><path d="M77.3 308.5v3M77.3 194.3v-3M128.8 308.5v3M128.8 194.3v-3M180.2 308.5v3M180.2 194.3v-3M231.7 308.5v3M231.7 194.3v-3M283.1 308.5v3M283.1 194.3v-3M334.6 308.5v3M334.6 194.3v-3M77.3 308.5h-3M334.6 308.5h3M77.3 279.9h-3M334.6 279.9h3M77.3 251.4h-3M334.6 251.4h3M77.3 222.9h-3M334.6 222.9h3M77.3 194.3h-3M334.6 194.3h3" stroke="#4d4d4d" stroke-width="0.9" fill="none"/><g font-size="10" fill="#333333"><text x="77.3" y="325.5" text-anchor="middle">0</text><text x="128.8" y="325.5" text-anchor="middle">50</text><text x="180.2" y="325.5" text-anchor="middle">100</text><text x="231.7" y="325.5" text-anchor="middle">150</text><text x="283.1" y="325.5" text-anchor="middle">200</text><text x="334.6" y="325.5" text-anchor="middle">250</text><text x="71.5" y="312" text-anchor="end">-1</text><text x="71.5" y="283.4" text-anchor="end">-0.5</text><text x="71.5" y="254.9" text-anchor="end">0</text><text x="71.5" y="226.4" text-anchor="end">0.5</text><text x="71.5" y="197.8" text-anchor="end">1</text></g><text x="206" y="338.7" text-anchor="middle" font-weight="bold" font-size="10.6" fill="#262626">Time (s)</text><text transform="translate(49.8 251.4) rotate(-90)" text-anchor="middle" font-weight="bold" font-size="10.6" fill="#262626">Normalized amplitude</text><rect x="85.6" y="186.9" width="99.8" height="36.8" fill="#fff"/><path d="M90.6 186.9V223.7M95.6 186.9V223.7M100.6 186.9V223.7M105.6 186.9V223.7M110.5 186.9V223.7M115.5 186.9V223.7M120.5 186.9V223.7M125.5 186.9V223.7M130.5 186.9V223.7M135.5 186.9V223.7M140.5 186.9V223.7M145.5 186.9V223.7M150.5 186.9V223.7M155.5 186.9V223.7M160.4 186.9V223.7M165.4 186.9V223.7M170.4 186.9V223.7M175.4 186.9V223.7M180.4 186.9V223.7M85.6 219.1H185.4M85.6 214.5H185.4M85.6 209.9H185.4M85.6 205.3H185.4M85.6 200.7H185.4M85.6 196.1H185.4M85.6 191.5H185.4" stroke="#f1f1f1" stroke-width="0.6" fill="none"/><path d="M110.5 186.9V223.7M135.5 186.9V223.7M160.4 186.9V223.7M85.6 205.3H185.4" stroke="#e6e6e6" stroke-width="0.7" fill="none"/><clipPath id="c55"><rect x="85.6" y="186.9" width="99.8" height="36.8"/></clipPath><g clip-path="url(#c55)"><path d="M85.5 205.3V205.3L86.5 205.3V205.3L87.5 205.3V205.3L88.5 205.3V205.3L89.5 205.3V205.3L90.5 205.3V205.3L91.5 205.3V205.3L92.5 205.3V205.3L93.5 205.3V205.3L94.5 205.3V205.3L95.5 205.3V205.3L96.5 205.3V205.3L97.5 205.3V205.3L98.5 205.3V205.3L99.5 205.3V205.3L100.5 205.3V205.3L101.5 205.3V205.3L102.5 205.3V205.3L103.5 205.3V205.3L104.5 205.3V205.3L105.5 205.3V205.3L106.5 205.3V205.3L107.5 205.3V205.3L108.5 205.3V205.3L109.5 205.3V205.3V205.7V205.5L110.5 204.8V204.2V206V205.7L111.5 206.2V206.4V204.2V205.7L112.5 205V206.2V204.4L113.5 204.9V206.6V206.1L114.5 204.9V204.1V206.1V205.1L115.5 205.2V205V206.6V205.7L116.5 204.2V203.3V206.2L117.5 206.5V203.9V207.5L118.5 206.6V204.2V205.7L119.5 206.2V204V206.2L120.5 205.7V205.1V205.6L121.5 205.7V205.7V204.7L122.5 204.1V206.4V204.8L123.5 205.5V205.9V205V205.5L124.5 204.7V204.3V206V205.2L125.5 205.5V205.7V204.8V205.6L126.5 205.7V204.7V205.4L127.5 205.5V204.9V206.2V205.7L128.5 205.3V204.6V205.6L129.5 205.8V204.8V206V205.7L130.5 205.4V205.1V205.1L131.5 204.8V204.6V206.6V205.1L132.5 204.9V205.8V204.2V204.7L133.5 205.3V205.6V204.7L134.5 204.9V206V205.8L135.5 205.8V204.3V205.4L136.5 206.3V206.7V204.5V206L137.5 206V204.9V205L138.5 204.8V205.5L139.5 205.5V205.2V205.9L140.5 206.1V204.4V205.4L141.5 205.3V205V205.7V205.3L142.5 205.3V205.5V205V205.4L143.5 205.8V204.2V206.2L144.5 205.9V204V206.3V205.7L145.5 205.2V205.4V204.8V205.3L146.5 205.4V205.8V204.8L147.5 204.8V205.8L148.5 205.5V205.7V204.7L149.5 205V205.9V204.6V205.4L150.5 205.6V205.6V205L151.5 204.9V206V205.1L152.5 204.8V204.4V205.8V205.5L153.5 205.2V205.1V205.9V205.3L154.5 205.2V205.1V205.3L155.5 205.3V205.6V205L156.5 204.5V206.2V205.2L157.5 205.3V205.6V204.9L158.5 204.9V205.7V204.9L159.5 205.1V205.7V204.8L160.5 205.1V206.2V204.4L161.5 204.6V206.2V205.4L162.5 204.8V205.9V204.4L163.5 204.7V205.8V205.6L164.5 206.3V206.6V202.9L165.5 203.6V198.2V207.6L166.5 212.7V193.8V220L167.5 216.1V198.8V201.5L168.5 204.8V206.7V194.4L169.5 197.9V186.9V218.3V200.9L170.5 206.7V210.6V206.1V208.7L171.5 207V192.1V218.9L172.5 212.5V197V206.5L173.5 205.3V194.5V214.9L174.5 208.8V219.5V198.5L175.5 199.4V195V208.7L176.5 206.6V216.4V194.4L177.5 194.4V214.5V208.6L178.5 209.1V198.9V202.3L179.5 202.4V212.7L180.5 216.2V199.2V202.6L181.5 203.4V205.7V198.8V203.1L182.5 210.6V216.1V200.8V207.7L183.5 209.8V196V208.7L184.5 208.4V205.8V209.9V208.2L185.5 206.9V198.6" stroke="#0072bd" stroke-width="1.0" fill="none" stroke-linejoin="round"/></g><path d="M85.6 186.9H185.4V223.7H85.6Z" stroke="#555555" stroke-width="1.0" fill="none"/><path d="M85.6 223.7v-1.5M85.6 186.9v1.5M110.5 223.7v-1.5M110.5 186.9v1.5M135.5 223.7v-1.5M135.5 186.9v1.5M160.4 223.7v-1.5M160.4 186.9v1.5M185.4 223.7v-1.5M185.4 186.9v1.5M85.6 223.7h1.5M185.4 223.7h-1.5M85.6 205.3h1.5M185.4 205.3h-1.5M85.6 186.9h1.5M185.4 186.9h-1.5" stroke="#555555" stroke-width="1.0" fill="none"/><g font-size="5.6" fill="#333333" font-weight="bold"><text x="85.6" y="230" text-anchor="middle">90</text><text x="110.5" y="230" text-anchor="middle">100</text><text x="135.5" y="230" text-anchor="middle">110</text><text x="160.4" y="230" text-anchor="middle">120</text><text x="185.4" y="230" text-anchor="middle">130</text><text x="84" y="225.7" text-anchor="end">-1</text><text x="84" y="207.3" text-anchor="end">0</text><text x="84" y="188.9" text-anchor="end">1</text></g><text x="90.5" y="302" font-family="Liberation Serif, serif" font-weight="bold" font-size="14.6" fill="#0000f0">SNR = 3738.7</text><text x="284.9" y="290.4" font-family="Liberation Serif, serif" font-weight="bold" font-size="16" fill="#000" text-anchor="middle">Denoised</text><rect x="416.1" y="194.3" width="257.5" height="114.2" fill="#3e26a8"/><clipPath id="sc65"><rect x="416.1" y="194.3" width="257.5" height="114.2"/></clipPath><g clip-path="url(#sc65)"><defs><filter id="sf67" filterUnits="userSpaceOnUse" x="416.1" y="194.3" width="257.5" height="114.2" color-interpolation-filters="sRGB"><feGaussianBlur in="SourceGraphic" stdDeviation="1.5 3" result="I"/><feColorMatrix in="I" type="matrix" values="1 0 0 0 0 1 0 0 0 0 1 0 0 0 0 0 0 0 0 1" result="IM"/><feColorMatrix in="I" type="matrix" values="0 1 0 0 0 0 1 0 0 0 0 1 0 0 0 0 0 0 0 1" result="IS"/><feTurbulence type="fractalNoise" baseFrequency="0.9 0.3" numOctaves="2" seed="3" result="n1"/><feColorMatrix in="n1" type="matrix" values="1 0 0 0 0 1 0 0 0 0 1 0 0 0 0 0 0 0 0 1" result="g1"/><feTurbulence type="fractalNoise" baseFrequency="1.1 0.25" numOctaves="2" seed="4" result="n2"/><feColorMatrix in="n2" type="matrix" values="1 0 0 0 0 1 0 0 0 0 1 0 0 0 0 0 0 0 0 1" result="g2"/><feComposite in="IM" in2="g1" operator="arithmetic" k1="0" k2="1.0" k3="2.0" k4="-1.5" result="m1"/><feComposite in="IS" in2="g2" operator="arithmetic" k1="0" k2="3.2" k3="8" k4="-7.2" result="m2"/><feBlend in="m1" in2="m2" mode="lighten" result="m"/><feComponentTransfer in="m"><feFuncR type="table" tableValues="0.243 0.275 0.337 0.455 0.557 0.643 0.729"/><feFuncG type="table" tableValues="0.149 0.220 0.314 0.463 0.580 0.659 0.729"/><feFuncB type="table" tableValues="0.659 0.729 0.769 0.698 0.486 0.345 0.251"/><feFuncA type="linear" slope="0" intercept="1"/></feComponentTransfer><feGaussianBlur stdDeviation="0.4"/></filter></defs><g filter="url(#sf67)"><rect x="412.1" y="190.3" width="265.5" height="122.2" fill="#000"/><rect x="519.1" y="285.1" width="164.8" height="30.2" fill="#733300"/><rect x="519.1" y="285.1" width="20.6" height="30.2" fill="#804c00"/><rect x="519.1" y="302" width="12.4" height="2.2" fill="#f24c00"/><rect x="539.7" y="283.3" width="13.4" height="32" fill="#a6ad00"/><rect x="541.8" y="301.3" width="18.5" height="14" fill="#b2e600"/><rect x="560.3" y="303.1" width="20.6" height="12.2" fill="#99b800"/><rect x="580.9" y="304.9" width="53.6" height="10.4" fill="#808000"/><rect x="634.5" y="265.3" width="49.4" height="50" fill="#8c6b00"/><rect x="639.6" y="286.9" width="28.8" height="28.4" fill="#998c00"/></g></g><path d="M416.1 308.5v2.5M416.1 194.3v-2.5M467.6 308.5v2.5M467.6 194.3v-2.5M519.1 308.5v2.5M519.1 194.3v-2.5M570.6 308.5v2.5M570.6 194.3v-2.5M622.1 308.5v2.5M622.1 194.3v-2.5M673.6 308.5v2.5M673.6 194.3v-2.5M416.1 308.5h-2.5M673.6 308.5h2.5M416.1 263.5h-2.5M673.6 263.5h2.5M416.1 218.6h-2.5M673.6 218.6h2.5" stroke="#4d4d4d" stroke-width="0.9" fill="none"/><rect x="416.1" y="194.3" width="257.5" height="114.2" fill="none" stroke="#262626" stroke-opacity="0.55" stroke-width="0.6"/><g font-size="10" fill="#333333"><text x="416.1" y="325.5" text-anchor="middle">0</text><text x="467.6" y="325.5" text-anchor="middle">50</text><text x="519.1" y="325.5" text-anchor="middle">100</text><text x="570.6" y="325.5" text-anchor="middle">150</text><text x="622.1" y="325.5" text-anchor="middle">200</text><text x="673.6" y="325.5" text-anchor="middle">250</text><text x="410.3" y="312" text-anchor="end">0</text><text x="410.3" y="267" text-anchor="end">25</text><text x="410.3" y="222.1" text-anchor="end">50</text></g><text x="544.9" y="338.7" text-anchor="middle" font-weight="bold" font-size="10.6" fill="#262626">Time (s)</text><text transform="translate(394.1 251.4) rotate(-90)" text-anchor="middle" font-weight="bold" font-size="10.6" fill="#262626">Frequency (Hz)</text><text x="629.7" y="217.7" font-family="Liberation Serif, serif" font-weight="bold" font-size="12.4" fill="#fff" text-anchor="middle">SS-CWT</text><path d="M87.8 402V516.6M98.1 402V516.6M108.4 402V516.6M118.6 402V516.6M128.9 402V516.6M139.2 402V516.6M149.5 402V516.6M159.8 402V516.6M170.1 402V516.6M180.3 402V516.6M190.6 402V516.6M200.9 402V516.6M211.2 402V516.6M221.5 402V516.6M231.8 402V516.6M242 402V516.6M252.3 402V516.6M262.6 402V516.6M272.9 402V516.6M283.2 402V516.6M293.5 402V516.6M303.7 402V516.6M314 402V516.6M324.3 402V516.6M77.5 510.9H334.6M77.5 505.1H334.6M77.5 499.4H334.6M77.5 493.7H334.6M77.5 488H334.6M77.5 482.2H334.6M77.5 476.5H334.6M77.5 470.8H334.6M77.5 465H334.6M77.5 459.3H334.6M77.5 453.6H334.6M77.5 447.8H334.6M77.5 442.1H334.6M77.5 436.4H334.6M77.5 430.7H334.6M77.5 424.9H334.6M77.5 419.2H334.6M77.5 413.5H334.6M77.5 407.7H334.6" stroke="#f1f1f1" stroke-width="0.6" fill="none"/><path d="M128.9 402V516.6M180.3 402V516.6M231.8 402V516.6M283.2 402V516.6M77.5 488H334.6M77.5 459.3H334.6M77.5 430.6H334.6" stroke="#e6e6e6" stroke-width="0.7" fill="none"/><clipPath id="c78"><rect x="77.5" y="401" width="257.1" height="116.6"/></clipPath><g clip-path="url(#c78)"><path d="M77.5 460.5V455.4V462.9V460.3L78.5 460V455.3V462.8V455.8L79.5 457.6V462.3V456.4V458.5L80.5 459.7V454.7V462.5V458.6L81.5 459.9V455.5V463.9V461.5L82.5 459.7V454.3V464.2V458.4L83.5 458.2V454.3V465V459.4L84.5 460.7V456.1V463.6V457.2L85.5 459.7V454.5V464.7V461.7L86.5 460.1V455.2V464.9V457.7L87.5 458.4V455.3V463.5V460.3L88.5 458.1V463.5V455.5V457L89.5 458.7V456.1V463.5V458.5L90.5 459.1V465.1V454.9V457.7L91.5 463.1V455V464.2V460.6L92.5 465.2V455.4V459.7L93.5 459.7V453.5V464.8L94.5 461.2V463.7V454.9V461.7L95.5 459.9V463V456.1V458.4L96.5 459.1V455.3V462.5V457.9L97.5 460.2V464.3V455.4V460.9L98.5 461.5V455.2V462.6L99.5 459.6V463.7V451.9V459.6L100.5 460.6V455.4V463.4L101.5 456.6V454.5V464V457.4L102.5 458V464.5V456.3V458.9L103.5 460.5V455.7V464V462.2L104.5 460.5V455.4V462.7V459.6L105.5 460.2V454.9V463.1V459.4L106.5 459V463.2V456.3V460.6L107.5 462.3V454.9V462.4V457.6L108.5 461.7V465.3V454.9V462L109.5 460.2V456.9V462.1V460.7L110.5 461.1V462.9V454.3V456.7L111.5 463.1V456.2V464.1L112.5 459.2V454.7V463.7V457L113.5 458.2V454.9V463V460.1L114.5 459.2V455.5V463.5V462.8L115.5 460.5V455V464.4V460.8L116.5 460.3V463.6V453.2V454L117.5 457.7V455V463.9V459.9L118.5 461V455.5V462.7L119.5 463.2V473.6V449.9V456.3L120.5 458.6V468.4V453V455.8L121.5 465V451.6V467.5L122.5 465.4V467.4V450.3V464.1L123.5 457.2V447.8V468.5V456.1L124.5 463.6V448V467.6V465.8L125.5 451.9V450.6V471.2V457.7L126.5 449.4V465.6V453.4L127.5 454.9V449.6V469.3V459.5L128.5 456.7V445.8V475.1V450.3L129.5 456.4V453.1V465.9L130.5 465V466.7V451.3V464.6L131.5 458.4V471.7V450.8V452.1L132.5 459V466.4V449.7V465.8L133.5 464V447.2V468.6V455.4L134.5 456.3V468.3V448.7V456.2L135.5 458.2V470.5V448.3V457.7L136.5 451.6V449.9V471.1V461L137.5 454.2V450.4V471V459.7L138.5 465.4V467.7V450.5V458L139.5 457.8V450.5V467.7V454.6L140.5 459.4V467.5V447V452.6L141.5 452.3V468.4V448.4L142.5 458.9V470.2V446.1V458.3L143.5 460.8V470.9V451.2V464.1L144.5 457.2V468V452.1V461.4L145.5 458.4V451V467.4V457.4L146.5 456.1V448.4V469.9V457.2L147.5 461.3V449.2V469.9V462.5L148.5 453.8V475.1V443.2V458.6L149.5 457V467.5V450V459.9L150.5 463V466.7V450.2V462.8L151.5 460.3V450.9V467.8V455.6L152.5 463.5V451.5V467.5V459.7L153.5 451.6V446.1V468.3V463.1L154.5 460.1V449.4V474.4V458.9L155.5 463.5V469.6V449.7V458.4L156.5 463.5V448.4V471.6V455.7L157.5 460.7V450.3V468.9V463.3L158.5 457.5V469.3V446.8V465.4L159.5 457.9V472V450V462.7L160.5 464.8V472.3V439.9V454L161.5 460.7V451.7V473.2V459.5L162.5 463.3V470.3V451.3V456.6L163.5 459.8V472.5V449.6V462.7L164.5 461.3V467.4V449.3V455.4L165.5 458V473.1V446.6V458.1L166.5 462.3V473.4V448.8V463.8L167.5 458.4V469.5V452.2V465.3L168.5 457.3V445.8V470V465L169.5 454.4V468.5V448.4V460.5L170.5 461.6V450.7V466V465.3L171.5 458.9V467.3V448.1V462.2L172.5 458V448.3V471.1V464.7L173.5 455.5V451.5V469.6V459.8L174.5 459.8V452.6V468V464.9L175.5 449.6V435.4V474.2V459.1L176.5 467.1V444V479.4L177.5 445.6V441.6V474.7V454.5L178.5 458.7V472.3V442.6V470.3L179.5 449.6V478.9V443.2V469.3L180.5 459.6V445V474.5V462.6L181.5 462V477.3V435.2L182.5 450.2V476.8V441.8V451.4L183.5 462.5V443V473.4V471.7L184.5 470.7V471.5V440.7V457.8L185.5 460.8V474.3V444.2V455.9L186.5 467.6V477.3V438.9V442.9L187.5 460.2V475.4V445.7V462.8L188.5 455V474.2V441.3V461.7L189.5 453.7V469.9V443.9V469L190.5 469.4V440.3V480.8V474.9L191.5 468.6V478.5V441.4V467L192.5 450.1V445.2V468.4V459.3L193.5 473.6V443.9V476.4V463.8L194.5 455.3V473.4V443V458.8L195.5 458.5V441.2V481.4V463.4L196.5 469.1V477.5V442.4V461.4L197.5 460.6V474.4V443V463.9L198.5 462.5V437.8V472.7V470.5L199.5 467.9V469.1V443.4V462.3L200.5 469.2V444.7V470.8V462.1L201.5 460.5V472.9V435.4L202.5 453.6V475.9V433.9V468.1L203.5 452.2V478.3V443.5V459.8L204.5 449V448.8V472.8V458.9L205.5 461.6V443V475.4V450.6L206.5 477V434.6V477.6V456.8L207.5 460.6V477.7V441.1V456.5L208.5 460.6V478.4V436.6V455.7L209.5 457.4V479V436.4V457.2L210.5 445.8V429V485.6V448.5L211.5 466.5V433.1V480.3V466.3L212.5 465.1V409.4V501.3V463.7L213.5 451.7V425.1V487.6V470.3L214.5 468.1V431.9V494.1V483.4L215.5 416.8V494.8V414.6V487L216.5 447.6V501V431.2V454.7L217.5 453.8V414.4V516.6V457.6L218.5 448.8V492.4V433.7V454.6L219.5 461V434.4V490.9V451.7L220.5 441.3V433.4V479.8V458.3L221.5 447.4V418.5V491.4L222.5 470.3V492.5V429.7V441.6L223.5 466.2V491.8V438.5V470.9L224.5 450.2V435.5V483.4V458.5L225.5 459.7V439.4V480.7V470.7L226.5 473.2V432.4V484.5V453.2L227.5 452.7V483.1V438.1V458.2L228.5 458.4V477.9V431.3V462.5L229.5 459.9V479.4V436.1V452.8L230.5 454.3V444.7V479.5V451.7L231.5 462.5V429.2V477.9V455.5L232.5 439.1V483.2V467.9L233.5 468.3V438V478.4V469.5L234.5 460.3V476.2V445V461.4L235.5 470.5V481.8V431.7V476.3L236.5 471.4V479.9V438.1V478.9L237.5 460.5V478.2V438.5V449.7L238.5 463.1V475.1V437.9V467L239.5 466.8V477.1V443.6V457.3L240.5 474V482.5V438.1V454.4L241.5 470.2V480.3V440.7V457.4L242.5 465.3V448.8V475.6V453.8L243.5 464.6V471.7V445.7V448.5L244.5 465.7V448V474.5L245.5 450.2V437.2V475.1V458.7L246.5 453.3V476.2V446.3V464.7L247.5 463.8V436.2V476.9V457.3L248.5 456.7V448.2V477V469.7L249.5 462V445.3V476.2V454.6L250.5 447V475.9V445.1V466.1L251.5 456.9V442V478.1V454.1L252.5 451.4V480V443.7V448.3L253.5 458.1V479.1V442.9V463.2L254.5 460.1V473.7V449.5V463L255.5 472.2V440.7V478.7V447.6L256.5 457.4V446.7V477.2V460.7L257.5 459.4V447.7V470.5V460.8L258.5 467.8V449.4V470.4V457.3L259.5 453.9V480.3V445.6V460.1L260.5 447.2V472.5V443V461L261.5 452V447.7V492.5V464.6L262.5 460.3V447.8V474.6V450.2L263.5 457.6V450.1V470V464.7L264.5 465.3V472V447.6V456L265.5 466.9V448.7V467.8V451L266.5 456.6V475.6V441.9V464.4L267.5 453.6V443.6V468.6V463.9L268.5 459.4V448.9V472.3L269.5 467.9V468.6V446.7L270.5 459.5V473.2V445.6V463.7L271.5 466.4V446.7V471.7V448.3L272.5 458.4V450.6V469.6V466.1L273.5 460.5V475.2V449.1V453.1L274.5 459.2V471.7V445.6V459L275.5 446.1V474.1V457.3L276.5 462.9V451.1V469.7V457.8L277.5 449.4V467.9V443.9V449.8L278.5 453.4V478.1V450.9V465.7L279.5 457.2V449.9V467.7L280.5 464V468.4V448.7V457L281.5 450.3V470.3V457.6L282.5 462.7V449.3V467.5V455L283.5 457.3V467.2V446.9V457.7L284.5 456.9V466.8V450.2V460.9L285.5 459.6V470.2V448V459.5L286.5 457.2V464.8V449.2V455.3L287.5 463.1V451.5V465.9V453.8L288.5 458.2V452.8V470.5V463.9L289.5 456.5V448.3V466.6V461.2L290.5 456.2V450.6V467.3V466.8L291.5 464.9V452.3V468.3V459.7L292.5 453.1V467.3V453V460.3L293.5 462.1V452.2V468.7V466.9L294.5 461.3V470.1V449.3V462.6L295.5 466.8V467.3V447.8V465.5L296.5 466.7V467V453.4V466.4L297.5 460V449.9V467.8V464.5L298.5 464V453.6V467.9V461.8L299.5 456.2V451.9V469.6V460.9L300.5 460.9V452V465.4V461.7L301.5 455V453.7V466.9V460L302.5 460.5V467.9V453.9V458.8L303.5 462V451.7V467V455.2L304.5 460.6V451.9V466.6V458L305.5 455.6V450.2V468.4V458L306.5 457.1V452.5V468.7V462.9L307.5 460.1V448.7V467.9L308.5 461.6V466.3V449.3V463.4L309.5 462.7V469.7V451.6V457.5L310.5 468.9V452.4V460L311.5 460.4V469.6V450.2V456.7L312.5 462.2V453.3V464.5V457.1L313.5 458.9V469.2V452.7V457.5L314.5 453.4V465.5L315.5 453.5V453.3V468.5V459.3L316.5 458V453V463.7V458.7L317.5 462.8V447.7V470L318.5 458.4V451.5V468.6V457.7L319.5 457.2V453.1V465.9V455.7L320.5 456.2V463.1V452.5V459.1L321.5 455.7V467.2V453.2V457.7L322.5 452.4V451.6V465.6V463.9L323.5 457V470.3V451.5V460L324.5 459.5V468.8V448.6V452.5L325.5 462V465.4V451.2V458.7L326.5 457.4V466.9V452V459.9L327.5 461.2V467.3V453.3V463.1L328.5 465.1V452V468.2V461.7L329.5 452.6V466.2V461.7L330.5 459.9V465.9V451.3V462.9L331.5 454.9V467.7V451.4L332.5 460.3V450.6V467.6L333.5 463.5V467.9V450.7V462.6L334.5 469.5V453V458.1" stroke="#0072bd" stroke-width="0.85" fill="none" stroke-linejoin="round"/></g><path d="M77.5 402H334.6V516.6H77.5Z" stroke="#4d4d4d" stroke-width="0.9" fill="none"/><path d="M77.5 516.6v3M77.5 402v-3M128.9 516.6v3M128.9 402v-3M180.3 516.6v3M180.3 402v-3M231.8 516.6v3M231.8 402v-3M283.2 516.6v3M283.2 402v-3M334.6 516.6v3M334.6 402v-3M77.5 516.6h-3M334.6 516.6h3M77.5 488h-3M334.6 488h3M77.5 459.3h-3M334.6 459.3h3M77.5 430.6h-3M334.6 430.6h3M77.5 402h-3M334.6 402h3" stroke="#4d4d4d" stroke-width="0.9" fill="none"/><g font-size="10" fill="#333333"><text x="77.5" y="533.6" text-anchor="middle">0</text><text x="128.9" y="533.6" text-anchor="middle">100</text><text x="180.3" y="533.6" text-anchor="middle">200</text><text x="231.8" y="533.6" text-anchor="middle">300</text><text x="283.2" y="533.6" text-anchor="middle">400</text><text x="334.6" y="533.6" text-anchor="middle">500</text><text x="71.7" y="520.1" text-anchor="end">-1</text><text x="71.7" y="491.5" text-anchor="end">-0.5</text><text x="71.7" y="462.8" text-anchor="end">0</text><text x="71.7" y="434.1" text-anchor="end">0.5</text><text x="71.7" y="405.5" text-anchor="end">1</text></g><text x="206.1" y="546.8" text-anchor="middle" font-weight="bold" font-size="10.6" fill="#262626">Time (s)</text><text transform="translate(50 459.3) rotate(-90)" text-anchor="middle" font-weight="bold" font-size="10.6" fill="#262626">Normalized amplitude</text><rect x="90.5" y="395.4" width="99.7" height="37.8" fill="#fff"/><path d="M95.5 395.4V433.2M100.5 395.4V433.2M105.5 395.4V433.2M110.4 395.4V433.2M115.4 395.4V433.2M120.4 395.4V433.2M125.4 395.4V433.2M130.4 395.4V433.2M135.4 395.4V433.2M140.3 395.4V433.2M145.3 395.4V433.2M150.3 395.4V433.2M155.3 395.4V433.2M160.3 395.4V433.2M165.3 395.4V433.2M170.3 395.4V433.2M175.2 395.4V433.2M180.2 395.4V433.2M185.2 395.4V433.2M90.5 430.7H190.2M90.5 428.3H190.2M90.5 425.8H190.2M90.5 423.4H190.2M90.5 420.9H190.2M90.5 418.5H190.2M90.5 416H190.2M90.5 413.6H190.2M90.5 411.1H190.2M90.5 408.7H190.2M90.5 406.2H190.2M90.5 403.7H190.2M90.5 401.3H190.2M90.5 398.8H190.2" stroke="#f1f1f1" stroke-width="0.6" fill="none"/><path d="M115.4 395.4V433.2M140.3 395.4V433.2M165.3 395.4V433.2M90.5 423.4H190.2M90.5 413.6H190.2M90.5 403.7H190.2" stroke="#e6e6e6" stroke-width="0.7" fill="none"/><clipPath id="c90"><rect x="90.5" y="395.4" width="99.7" height="37.8"/></clipPath><g clip-path="url(#c90)"><path d="M90.5 413.3V418.7V411V412.6L91.5 414.1V411.2V415.2L92.5 415.9V416V409.8V413.6L93.5 411.4V416.7V413.6L94.5 414.5V414.6V412.1L95.5 413.4V415.8V411.6L96.5 413.5V411.5V415.9L97.5 413.7V415.5V411.9L98.5 413.2V415.1V411.3V412.1L99.5 413.5V414.5V412.8L100.5 413.9V412.6V416.2L101.5 412.5V416.6V411.7L102.5 410.4V409.3V416.1V413.4L103.5 411.1V416.8V412.9L104.5 411.4V415.5V415.3L105.5 416.9V412.2V414.6L106.5 413.3V414.2V412.2V413.4L107.5 410.9V417.5V410.9L108.5 417.7V412.1L109.5 413.4V411.5V416.3V413.9L110.5 414.7V414.9V409.6V410.5L111.5 412.2V417.1V413L112.5 416.3V417.4V410.3V411.6L113.5 412.6V409.8V416.8V414.3L114.5 414V411.9V416.1L115.5 416.4V410V412.1L116.5 414.9V410.6V413L117.5 412.3V416.3V413.5L118.5 412.1V416.4V412V415.4L119.5 411.5V410.3V414.3V412.3L120.5 414.9V417V410.5V412.3L121.5 413.9V416.7V410.6L122.5 417.1V412.1L123.5 412V415.8V411.6L124.5 412V410.4V417.5V410.7L125.5 414.2V409.9V417.7V413.4L126.5 414.7V410.8V416.9V414.8L127.5 414.5V417.9V411V413.3L128.5 412.7V412.3V414.6V413.8L129.5 412.6V416.9V408.7L130.5 415.4V417.3V411.5V413.7L131.5 414.2V408.4V416.7L132.5 412.5V409V416.3V412.3L133.5 415V409.9V416.6V411L134.5 412.5V417.5V411.6L135.5 412V415.3V414.1L136.5 414.5V410.5V415.9V413.7L137.5 413.6V415V411.3V415L138.5 412.7V411.8V415.1V413.2L139.5 414V415.7V411.6L140.5 413.8V411.4V415.7V413.9L141.5 413.2V416.2V410.3V411.4L142.5 416.5V417.1V411.4V412.6L143.5 412V409.8V417.4V414L144.5 412.5V408.3V419.1V416.4L145.5 411V425.8V407.5L146.5 407.1V420.8V405.5V411L147.5 413V409.1V421.4V414.3L148.5 419.3V408.2V417.8L149.5 412.8V409.6V419.3V410.2L150.5 408.6V417.5V416.3L151.5 408.7V418.4V412.7L152.5 412.1V420.4V410.6V420.2L153.5 412.1V409.4V419.9V412.9L154.5 414.8V406.9V415.1L155.5 418.9V408.3V412.4L156.5 408.8V420.6V413.1L157.5 418.1V418.3V407.5L158.5 410V420.5V413.7L159.5 410V405.8V418.6L160.5 416.3V416.6V410.3V413L161.5 420.2V408.3V414.4L162.5 414.2V407.4V420.8V414.8L163.5 414.5V416.9V404.5V411.9L164.5 419.3V403.7V420.5V409.5L165.5 418V421.5V407.5L166.5 413.5V406.7V419.9L167.5 419.1V419.6V403.9V418.8L168.5 409V407.4V417.8L169.5 414.6V419.2V410.9L170.5 413.3V420.7V404.7V412L171.5 415.8V419.1V407.2V418.4L172.5 417.3V406.1V412.8L173.5 420.6V423.8V409.5V415.3L174.5 409.3V416.1V406.2V408.5L175.5 412.3V420.3V412.2L176.5 405.1V418.3L177.5 419V408V411.6L178.5 412.1V416.6V411.7V415.5L179.5 408.1V418.9V411.7L180.5 418.3V418.8V408.5V409.8L181.5 414.6V405.2V422.1V418.2L182.5 412.8V418V409L183.5 412.7V418.4V406.5V415.2L184.5 412.9V419.2V410.5L185.5 414.3V417.3V411.3L186.5 414.9V402V427.1V415.5L187.5 409.2V404.4V417.6V407.5L188.5 414.8V423.7V411.7V417.1L189.5 423V403.3L190.5 409.8V406.9" stroke="#0072bd" stroke-width="1.0" fill="none" stroke-linejoin="round"/></g><path d="M90.5 395.4H190.2V433.2H90.5Z" stroke="#555555" stroke-width="1.0" fill="none"/><path d="M90.5 433.2v-1.5M90.5 395.4v1.5M115.4 433.2v-1.5M115.4 395.4v1.5M140.3 433.2v-1.5M140.3 395.4v1.5M165.3 433.2v-1.5M165.3 395.4v1.5M190.2 433.2v-1.5M190.2 395.4v1.5M90.5 433.2h1.5M190.2 433.2h-1.5M90.5 423.4h1.5M190.2 423.4h-1.5M90.5 413.6h1.5M190.2 413.6h-1.5M90.5 403.7h1.5M190.2 403.7h-1.5" stroke="#555555" stroke-width="1.0" fill="none"/><g font-size="5.6" fill="#333333" font-weight="bold"><text x="90.5" y="439.5" text-anchor="middle">60</text><text x="115.4" y="439.5" text-anchor="middle">70</text><text x="140.3" y="439.5" text-anchor="middle">80</text><text x="165.3" y="439.5" text-anchor="middle">90</text><text x="190.2" y="439.5" text-anchor="middle">100</text><text x="88.9" y="435.2" text-anchor="end">-0.4</text><text x="88.9" y="425.3" text-anchor="end">-0.2</text><text x="88.9" y="415.5" text-anchor="end">0</text><text x="88.9" y="405.7" text-anchor="end">0.2</text></g><text x="90.5" y="506.2" font-family="Liberation Serif, serif" font-weight="bold" font-size="14.6" fill="#0000f0">SNR = 4.3</text><text x="284.9" y="500" font-family="Liberation Serif, serif" font-weight="bold" font-size="16" fill="#000" text-anchor="middle">Raw</text><rect x="416.1" y="402" width="257.4" height="114.6" fill="#3e26a8"/><clipPath id="sc100"><rect x="416.1" y="402" width="257.4" height="114.6"/></clipPath><g clip-path="url(#sc100)"><defs><filter id="sf102" filterUnits="userSpaceOnUse" x="416.1" y="402.0" width="257.4" height="114.6" color-interpolation-filters="sRGB"><feGaussianBlur in="SourceGraphic" stdDeviation="0.6 1.2" result="I"/><feColorMatrix in="I" type="matrix" values="1 0 0 0 0 1 0 0 0 0 1 0 0 0 0 0 0 0 0 1" result="IM"/><feColorMatrix in="I" type="matrix" values="0 1 0 0 0 0 1 0 0 0 0 1 0 0 0 0 0 0 0 1" result="IS"/><feTurbulence type="fractalNoise" baseFrequency="0.87 0.27" numOctaves="2" seed="3" result="n1"/><feColorMatrix in="n1" type="matrix" values="1 0 0 0 0 1 0 0 0 0 1 0 0 0 0 0 0 0 0 1" result="g1"/><feTurbulence type="fractalNoise" baseFrequency="2.2 0.12" numOctaves="2" seed="2" result="n2"/><feColorMatrix in="n2" type="matrix" values="1 0 0 0 0 1 0 0 0 0 1 0 0 0 0 0 0 0 0 1" result="g2"/><feComposite in="IM" in2="g1" operator="arithmetic" k1="0" k2="1.0" k3="1.2" k4="-1.0" result="m1"/><feComposite in="IS" in2="g2" operator="arithmetic" k1="0" k2="2.0" k3="5" k4="-3.3" result="m2"/><feBlend in="m1" in2="m2" mode="lighten" result="m"/><feComponentTransfer in="m"><feFuncR type="table" tableValues="0.243 0.275 0.337 0.455 0.557 0.643 0.729"/><feFuncG type="table" tableValues="0.149 0.220 0.314 0.463 0.580 0.659 0.729"/><feFuncB type="table" tableValues="0.659 0.729 0.769 0.698 0.486 0.345 0.251"/><feFuncA type="linear" slope="0" intercept="1"/></feComponentTransfer><feGaussianBlur stdDeviation="0.55"/></filter></defs><g filter="url(#sf102)"><rect x="412.1" y="398" width="265.4" height="122.6" fill="#000"/><rect x="416.1" y="402" width="267.7" height="18.3" fill="#802400"/><rect x="416.1" y="420.3" width="267.7" height="32.1" fill="#cc8000"/><rect x="416.1" y="452.4" width="41.2" height="71.1" fill="#b80800"/><rect x="457.3" y="452.4" width="226.5" height="71.1" fill="#bd1a00"/><rect x="513.9" y="452.4" width="169.9" height="57.3" fill="#c22100"/><rect x="513.9" y="493.7" width="56.6" height="29.8" fill="#c73800"/><rect x="457.3" y="509.7" width="226.5" height="13.8" fill="#cc9900"/><rect x="544.8" y="505.1" width="51.5" height="18.3" fill="#ccb200"/></g></g><path d="M416.1 516.6v2.5M416.1 402v-2.5M467.6 516.6v2.5M467.6 402v-2.5M519.1 516.6v2.5M519.1 402v-2.5M570.5 516.6v2.5M570.5 402v-2.5M622 516.6v2.5M622 402v-2.5M673.5 516.6v2.5M673.5 402v-2.5M416.1 516.6h-2.5M673.5 516.6h2.5M416.1 493.7h-2.5M673.5 493.7h2.5M416.1 470.8h-2.5M673.5 470.8h2.5M416.1 447.8h-2.5M673.5 447.8h2.5M416.1 424.9h-2.5M673.5 424.9h2.5M416.1 402h-2.5M673.5 402h2.5" stroke="#4d4d4d" stroke-width="0.9" fill="none"/><rect x="416.1" y="402" width="257.4" height="114.6" fill="none" stroke="#262626" stroke-opacity="0.55" stroke-width="0.6"/><g font-size="10" fill="#333333"><text x="416.1" y="533.6" text-anchor="middle">0</text><text x="467.6" y="533.6" text-anchor="middle">100</text><text x="519.1" y="533.6" text-anchor="middle">200</text><text x="570.5" y="533.6" text-anchor="middle">300</text><text x="622" y="533.6" text-anchor="middle">400</text><text x="673.5" y="533.6" text-anchor="middle">500</text><text x="410.3" y="520.1" text-anchor="end">0</text><text x="410.3" y="497.2" text-anchor="end">10</text><text x="410.3" y="474.3" text-anchor="end">20</text><text x="410.3" y="451.3" text-anchor="end">30</text><text x="410.3" y="428.4" text-anchor="end">40</text><text x="410.3" y="405.5" text-anchor="end">50</text></g><text x="544.8" y="546.8" text-anchor="middle" font-weight="bold" font-size="10.6" fill="#262626">Time (s)</text><text transform="translate(394.1 459.3) rotate(-90)" text-anchor="middle" font-weight="bold" font-size="10.6" fill="#262626">Frequency (Hz)</text><text x="628.5" y="420.9" font-family="Liberation Serif, serif" font-weight="bold" font-size="12.4" fill="#fff" text-anchor="middle">SS-CWT</text><path d="M87.8 566.4V680.5M98.1 566.4V680.5M108.4 566.4V680.5M118.6 566.4V680.5M128.9 566.4V680.5M139.2 566.4V680.5M149.5 566.4V680.5M159.8 566.4V680.5M170.1 566.4V680.5M180.3 566.4V680.5M190.6 566.4V680.5M200.9 566.4V680.5M211.2 566.4V680.5M221.5 566.4V680.5M231.8 566.4V680.5M242 566.4V680.5M252.3 566.4V680.5M262.6 566.4V680.5M272.9 566.4V680.5M283.2 566.4V680.5M293.5 566.4V680.5M303.7 566.4V680.5M314 566.4V680.5M324.3 566.4V680.5M77.5 674.8H334.6M77.5 669.1H334.6M77.5 663.4H334.6M77.5 657.7H334.6M77.5 652H334.6M77.5 646.3H334.6M77.5 640.6H334.6M77.5 634.9H334.6M77.5 629.2H334.6M77.5 623.5H334.6M77.5 617.7H334.6M77.5 612H334.6M77.5 606.3H334.6M77.5 600.6H334.6M77.5 594.9H334.6M77.5 589.2H334.6M77.5 583.5H334.6M77.5 577.8H334.6M77.5 572.1H334.6" stroke="#f1f1f1" stroke-width="0.6" fill="none"/><path d="M128.9 566.4V680.5M180.3 566.4V680.5M231.8 566.4V680.5M283.2 566.4V680.5M77.5 652H334.6M77.5 623.5H334.6M77.5 594.9H334.6" stroke="#e6e6e6" stroke-width="0.7" fill="none"/><clipPath id="c113"><rect x="77.5" y="565.4" width="257.1" height="116.1"/></clipPath><g clip-path="url(#c113)"><path d="M77.5 623.5V623.5L78.5 623.5V623.5L79.5 623.5V623.5L80.5 623.5V623.5L81.5 623.5V623.5L82.5 623.5V623.5L83.5 623.5V623.5L84.5 623.5V623.5L85.5 623.5V623.5L86.5 623.5V623.5L87.5 623.5V623.5L88.5 623.5V623.5L89.5 623.5V623.5L90.5 623.5V623.5L91.5 623.5V623.5L92.5 623.5V623.5L93.5 623.5V623.5L94.5 623.5V623.5L95.5 623.5V623.5L96.5 623.5V623.5L97.5 623.5V623.5L98.5 623.5V623.5L99.5 623.5V623.5L100.5 623.5V623.5L101.5 623.5V623.5L102.5 623.5V623.5L103.5 623.5V623.5L104.5 623.5V623.5L105.5 623.5V623.5L106.5 623.5V623.5L107.5 623.5V623.5L108.5 623.5V623.5L109.5 623.5V623.5L110.5 623.5V623.5L111.5 623.5V623.5L112.5 623.5V623.5L113.5 623.5V623.5L114.5 623.5V623.5L115.5 623.5V623.4V623.6V623.5L116.5 623.5V624.3V622.4V624.2L117.5 624.2V621.6V625V623.3L118.5 623.4V626.8V621V622.8L119.5 624.1V616.5V636.6V620.8L120.5 622.8V632.9V617V620.5L121.5 628V631.2V615.5V629.4L122.5 630.1V615.4V632.1V626L123.5 617V613.2V632.9V619.7L124.5 627.5V629.7V614V626.1L125.5 619.9V615.2V631.9V624.9L126.5 614.3V629.4V619.4L127.5 621.4V633.3V616.1V624.1L128.5 618.3V637.7V614.1V614.7L129.5 623V630.2V617.3V628.1L130.5 627V630V614.1V629.3L131.5 623.7V633.8V616V618.4L132.5 625V615V629.4V627.9L133.5 626.1V612.8V630.6V622.1L134.5 623V631.5V614.8V623.5L135.5 620.6V631.1V616.1V624.5L136.5 614.9V613V632.8V628.1L137.5 618.9V615.5V631V619.2L138.5 627V614.7V631.2V623.8L139.5 622.7V615.9V631.4V621.1L140.5 625.5V633.9V612.6V619.5L141.5 617.3V634V617.2V617.6L142.5 619.4V633.4V613.2V620.9L143.5 627.4V634.3V617.5V627.4L144.5 621V630.8V615.9V623.4L145.5 622.7V617.9V632.1V622.3L146.5 623.6V611.8V634.1V622.3L147.5 625.2V632.5V613.5V627.6L148.5 619.1V635.1V609.1V622.6L149.5 620.4V613.5V629.6V626.9L150.5 629.4V631V615.1V625.9L151.5 623.4V631.4V614.7V616.2L152.5 628V631.1V615.6V622.6L153.5 618.1V631.6V614V625.5L154.5 623.5V615.6V636.9V623.4L155.5 625.8V613.9V632.6V626.1L156.5 628.6V637.2V610.2V622.5L157.5 626.8V616.3V632.2V625.8L158.5 622.7V614.1V632.5V630.1L159.5 624.3V634V614.3V626.4L160.5 627.5V609V635.1V615.6L161.5 623.2V633V616.4V624L162.5 625.6V634V613V619.7L163.5 625.9V614.5V630.9V627.5L164.5 624.8V613.6V630.3V618.5L165.5 622.3V635.6V611.8V622.6L166.5 624.9V632V614.9V623.6L167.5 624.3V631.5V615.3V626.1L168.5 621.5V632.2V612.3V629.1L169.5 618.6V630.4V614.7V622.6L170.5 627.4V614V630V629.8L171.5 622.2V631.7V612.6V624L172.5 621.8V614V632.9V629.9L173.5 620.7V614.8V631.4V623.4L174.5 625V631V616.7V630.3L175.5 611.9V600.9V639.3V624L176.5 634.6V609.9V642L177.5 611.5V602.6V639.3V618.5L178.5 624.6V635.3V606.2V632L179.5 612.8V644V608.2V634.8L180.5 621.8V609.7V641.1V625.3L181.5 622.4V644.4V602.5L182.5 615.4V641.7V606.5V616.9L183.5 629.7V607.2V636.7L184.5 634.5V636.7V606.9V621.2L185.5 625.8V638.3V610.8V619.8L186.5 630.5V604.5V643.1V610.6L187.5 624.2V604.3V637.1V629.7L188.5 620.2V636.9V607.9V626.3L189.5 616.2V611.2V634.5V629.7L190.5 631V603.9V647.9V640L191.5 631.2V645.5V607.1V632.1L192.5 613V635V611.1V618.4L193.5 633.3V611.2V638.1V627L194.5 620.2V638.5V608.2V622.9L195.5 619.6V605V644V629.3L196.5 631V642.6V605.9V624.8L197.5 627.5V605.2V637.3V626.8L198.5 629V636.6V599.9V632.2L199.5 631V606.3V636V625.8L200.5 636.3V610.9V625.3L201.5 626.1V635.9V600.3L202.5 615.9V636.8V601.6V631.5L203.5 618.4V644V606V624.2L204.5 614.6V613.9V635.2V622.9L205.5 627.3V638V611.2V616.6L206.5 642.8V601.5V621.6L207.5 624.8V610.9V638.2V617.7L208.5 622V640.3V601.5V621.4L209.5 622.2V640.1V601.2V620.6L210.5 614V594.2V647.8V612.7L211.5 632.1V643.5V593.8V629.5L212.5 629.5V573.8V663.8V626.8L213.5 615.9V589.9V651.2V632.9L214.5 630.1V657.5V596.2V645.8L215.5 580.6V658.8V579V651.5L216.5 610.5V662.4V595.2V618L217.5 618.8V578.3V680.5V619.3L218.5 612.7V659.1V594.7V617.4L219.5 624V598.6V656.1V619.7L220.5 607.6V600.8V642.9V622.3L221.5 614.4V587V653.6L222.5 634V596.8V652.6V607L223.5 629.7V655.7V600.5V638.9L224.5 616.5V597.7V647.3V626.5L225.5 623.5V599.5V640.3V634.6L226.5 632.3V595.1V648.6V618.5L227.5 615.1V647.1V600.6V619.2L228.5 621.7V644V592.9V628.1L229.5 625.3V643.7V599.7V616.1L230.5 618.9V609V644.1V617.7L231.5 624.6V595.7V643.9V620.2L232.5 602.7V648.5V633.8L233.5 630.7V603.6V644V632.9L234.5 625.5V641.2V607.9V621.7L235.5 633.7V644.9V597.8V640L236.5 634.1V603V642.9L237.5 624.9V637.3V603V611L238.5 626.5V640.8V600.6V629.3L239.5 630.8V643.7V607.4V623.8L240.5 636.3V642.5V605.8V620.1L241.5 634V643.6V606.4V621.3L242.5 631.2V611V640.9V620.5L243.5 627.7V634.6V609.7V614.2L244.5 626.5V609V639.9L245.5 616.5V605.1V636.9V619.1L246.5 618.1V637.8V612V628L247.5 628.7V639.4V605.2V620.6L248.5 622.9V609.7V640.5V632.3L249.5 624.9V607.9V640.9V618.5L250.5 612.4V637.9V627.6L251.5 621.5V611.3V642.4V616.3L252.5 616.2V642.4V607.1V612.3L253.5 625V639.7V606.7V629.5L254.5 625.3V637.2V612.8V628.1L255.5 634.6V605.2V638.8V615.9L256.5 623.5V637.6V608.6V625.5L257.5 625.1V612.2V633.9V626.6L258.5 631.5V636.7V611.6V622.4L259.5 618V646.5V611.4V621.9L260.5 613.2V610.4V631.8V627.3L261.5 616.9V609.7V656.5V626.1L262.5 623.7V637.9V614.6V615.7L263.5 622.9V634V614.3V628.1L264.5 626.8V633.2V611.7V617.2L265.5 628V633.3V614.2V614.8L266.5 623.1V635.6V608.6V627.6L267.5 619V632.9V610.5V627.5L268.5 624V615V630.5L269.5 632.6V610.2V612.5L270.5 621.8V635.6V609.8V629.4L271.5 630.1V612V635.2V612.1L272.5 621.9V632.6V613.4V632.5L273.5 627V633.9V615.2V617.2L274.5 626.4V610.9V631V623.9L275.5 610.6V633.3V620.3L276.5 624V613.1V634.2V621.3L277.5 615.8V631.2V610.4V616.6L278.5 620.5V641.5V616.2V629.5L279.5 622.5V614.2V633.6L280.5 627.2V614.7V634V620.1L281.5 616.8V615.7V631.7V620.3L282.5 624V632V615.4V622.2L283.5 623.7V614.6V629.8V620.3L284.5 623.9V630.3V614.5V629.4L285.5 628.2V631.9V615.9V621.8L286.5 621.5V630.1V613.5V620.7L287.5 623.8V616.1V631.5V620.3L288.5 621.5V616V631.3V625.7L289.5 621.8V614.4V629.6V626.4L290.5 623.9V636V615.3V627L291.5 622.9V617.3V632.2V624.1L292.5 617.8V630.2V617.1V624.5L293.5 626.4V631.1V617.5V630.5L294.5 624.7V632.6V613.1V623.7L295.5 628.6V630V615.1V627.8L296.5 629.8V632.6V618.5V631.4L297.5 622V614.5V630.9V625.9L298.5 627.9V631.1V618.4V626.6L299.5 620V614.2V632.3V624.6L300.5 623.5V618.1V629.4V623.6L301.5 620V630.5V617.1V625.6L302.5 625.5V619.2V627.5V624.4L303.5 622.2V617.6V631.5V619.1L304.5 625.4V618.8V630.2V623.8L305.5 618.1V614V631.7V623.7L306.5 620.3V616.3V630.3V625.4L307.5 624.4V615.1V629.9L308.5 623.3V628.5V614.5V624.6L309.5 627.9V630.1V616.5V625L310.5 628.8V617.6V629.8V622.3L311.5 626V617.1V629.6V620.7L312.5 623.6V616.7V628.6V619.5L313.5 621V631.9V616.8V623.3L314.5 620.4V628.6V618.1V627.2L315.5 620V618.4V629.8V622.3L316.5 621V629.4V619.2V621L317.5 624.1V616.2V631.5L318.5 623.3V615.1V631.2V624.4L319.5 622.5V618.9V631.4V621.4L320.5 623.5V627V620.1V620.6L321.5 621.8V629.2V619.5V622.8L322.5 624.7V628.5V615.3V627.8L323.5 620.9V631.2V617.1V622.5L324.5 620.5V630.1V614.4V618.6L325.5 624.4V617.8V628.7V624.9L326.5 621.2V617.5V629.6V621.9L327.5 625.8V630.1V620.3V625.9L328.5 628.8V629V617.4V625L329.5 616.8V628.7V625.5L330.5 624.6V627.3V617.9V623.9L331.5 620.9V627.7V617.6L332.5 622.7V614.8V629.9V629.8L333.5 624.9V630.1V617.2V625.3L334.5 631V617.4V623.6" stroke="#0072bd" stroke-width="0.85" fill="none" stroke-linejoin="round"/></g><path d="M77.5 566.4H334.6V680.5H77.5Z" stroke="#4d4d4d" stroke-width="0.9" fill="none"/><path d="M77.5 680.5v3M77.5 566.4v-3M128.9 680.5v3M128.9 566.4v-3M180.3 680.5v3M180.3 566.4v-3M231.8 680.5v3M231.8 566.4v-3M283.2 680.5v3M283.2 566.4v-3M334.6 680.5v3M334.6 566.4v-3M77.5 680.5h-3M334.6 680.5h3M77.5 652h-3M334.6 652h3M77.5 623.5h-3M334.6 623.5h3M77.5 594.9h-3M334.6 594.9h3M77.5 566.4h-3M334.6 566.4h3" stroke="#4d4d4d" stroke-width="0.9" fill="none"/><g font-size="10" fill="#333333"><text x="77.5" y="697.5" text-anchor="middle">0</text><text x="128.9" y="697.5" text-anchor="middle">100</text><text x="180.3" y="697.5" text-anchor="middle">200</text><text x="231.8" y="697.5" text-anchor="middle">300</text><text x="283.2" y="697.5" text-anchor="middle">400</text><text x="334.6" y="697.5" text-anchor="middle">500</text><text x="71.7" y="684" text-anchor="end">-1</text><text x="71.7" y="655.5" text-anchor="end">-0.5</text><text x="71.7" y="627" text-anchor="end">0</text><text x="71.7" y="598.4" text-anchor="end">0.5</text><text x="71.7" y="569.9" text-anchor="end">1</text></g><text x="206.1" y="710.7" text-anchor="middle" font-weight="bold" font-size="10.6" fill="#262626">Time (s)</text><text transform="translate(50 623.5) rotate(-90)" text-anchor="middle" font-weight="bold" font-size="10.6" fill="#262626">Normalized amplitude</text><rect x="90.5" y="559.8" width="99.7" height="37.8" fill="#fff"/><path d="M95.5 559.8V597.6M100.5 559.8V597.6M105.5 559.8V597.6M110.4 559.8V597.6M115.4 559.8V597.6M120.4 559.8V597.6M125.4 559.8V597.6M130.4 559.8V597.6M135.4 559.8V597.6M140.3 559.8V597.6M145.3 559.8V597.6M150.3 559.8V597.6M155.3 559.8V597.6M160.3 559.8V597.6M165.3 559.8V597.6M170.3 559.8V597.6M175.2 559.8V597.6M180.2 559.8V597.6M185.2 559.8V597.6M90.5 595.1H190.2M90.5 592.7H190.2M90.5 590.2H190.2M90.5 587.8H190.2M90.5 585.3H190.2M90.5 582.9H190.2M90.5 580.4H190.2M90.5 578H190.2M90.5 575.5H190.2M90.5 573.1H190.2M90.5 570.6H190.2M90.5 568.1H190.2M90.5 565.7H190.2M90.5 563.2H190.2" stroke="#f1f1f1" stroke-width="0.6" fill="none"/><path d="M115.4 559.8V597.6M140.3 559.8V597.6M165.3 559.8V597.6M90.5 587.8H190.2M90.5 578H190.2M90.5 568.1H190.2" stroke="#e6e6e6" stroke-width="0.7" fill="none"/><clipPath id="c125"><rect x="90.5" y="559.8" width="99.7" height="37.8"/></clipPath><g clip-path="url(#c125)"><path d="M90.5 578V578L91.5 578V578L92.5 578V578L93.5 578V578L94.5 578V578L95.5 578V578L96.5 578V578L97.5 578V578L98.5 578V578L99.5 578V578L100.5 578V578L101.5 578V578L102.5 578V578L103.5 578V578L104.5 578V578L105.5 578V578L106.5 578V578L107.5 578V578L108.5 578V578L109.5 578V578L110.5 578V578L111.5 578V578L112.5 578V578L113.5 578V578L114.5 578V578L115.5 578V578L116.5 578V578L117.5 578V578L118.5 578V578L119.5 578V578L120.5 578V578L121.5 578V578L122.5 578V578L123.5 578V578L124.5 578V578L125.5 578V578V577.9L126.5 578V578.1V577.9V578L127.5 578.1V577.8L128.5 578.2V577.5V578.5V578L129.5 577.9V578.7V577.5L130.5 578.5V577.6L131.5 578V578.3V577.1V577.7L132.5 577.8V577.3V578.6V578.1L133.5 577.1V579.1V577.6L134.5 577.3V577.1V578.5V578L135.5 577.9V578.9V577.2V577.7L136.5 578.2V576.3V579.3V577.7L137.5 579V577.8V578.1L138.5 576.4V579.7V579.7L139.5 578V576V577.3L140.5 580.8V576.9V577.1L141.5 575.8V579.5V579L142.5 577.4V582.6V574.8V578L143.5 579.8V582V575.5V576.2L144.5 576.9V572V583.6V579.8L145.5 574.7V574.4V589.3V575.2L146.5 574.2V585.2V573.2V575.7L147.5 577.4V573.3V586.1V576.3L148.5 579.5V580.3V573.3V579.7L149.5 576.3V573.9V584.4V575.7L150.5 572.4V582.9V581L151.5 574.1V573.1V581.9V577.6L152.5 577V583.8V572.9V582.2L153.5 576.8V575.3V584.7V579.4L154.5 580V573.2V580.2V579.4L155.5 583.8V571.2V578.1L156.5 575.3V583.7V576.2L157.5 580.9V573.4V574.9L158.5 574.2V585.3V574.1V580.9L159.5 574.7V571V581.6L160.5 579.9V574.4V582.6V576.4L161.5 585.4V572.3V578.2L162.5 578.9V572.2V581V578.5L163.5 581.2V570.8V577.2L164.5 579.8V569.2V583.8V574.7L165.5 581.3V586.1V573.5L166.5 577.6V571.2V582.5L167.5 581V571.2V583.4V583.2L168.5 573.4V579.7V578.5L169.5 577.5V583.3V575.4L170.5 580.9V583.2V569.8V576L171.5 577.2V571.5V583.6L172.5 582.2V572.8V577.4L173.5 580.6V573.3V584.4V579.4L174.5 574.2V580V570.9L175.5 575.9V585.3V579.2L176.5 570.1V581.7L177.5 583.1V574.1V577L178.5 577.1V582.5V577.7L179.5 574.5V573.2V581V579.1L180.5 579.6V580.7V574.5V576.2L181.5 577.1V572.7V586.5V582.5L182.5 577.4V580V573.8V576.1L183.5 575.5V571.6V582.7L184.5 577.8V575.5V582.1V577.1L185.5 579.6V580.2V573.6V575.1L186.5 578.3V571.7V590.2V578.6L187.5 574V570.4V582.1V570.5L188.5 579.5V582.9V575.7V581.2L189.5 585.2V569.9L190.5 574.7V572.3" stroke="#0072bd" stroke-width="1.0" fill="none" stroke-linejoin="round"/></g><path d="M90.5 559.8H190.2V597.6H90.5Z" stroke="#555555" stroke-width="1.0" fill="none"/><path d="M90.5 597.6v-1.5M90.5 559.8v1.5M115.4 597.6v-1.5M115.4 559.8v1.5M140.3 597.6v-1.5M140.3 559.8v1.5M165.3 597.6v-1.5M165.3 559.8v1.5M190.2 597.6v-1.5M190.2 559.8v1.5M90.5 597.6h1.5M190.2 597.6h-1.5M90.5 587.8h1.5M190.2 587.8h-1.5M90.5 578h1.5M190.2 578h-1.5M90.5 568.1h1.5M190.2 568.1h-1.5" stroke="#555555" stroke-width="1.0" fill="none"/><g font-size="5.6" fill="#333333" font-weight="bold"><text x="90.5" y="603.9" text-anchor="middle">60</text><text x="115.4" y="603.9" text-anchor="middle">70</text><text x="140.3" y="603.9" text-anchor="middle">80</text><text x="165.3" y="603.9" text-anchor="middle">90</text><text x="190.2" y="603.9" text-anchor="middle">100</text><text x="88.9" y="599.6" text-anchor="end">-0.4</text><text x="88.9" y="589.7" text-anchor="end">-0.2</text><text x="88.9" y="579.9" text-anchor="end">0</text><text x="88.9" y="570.1" text-anchor="end">0.2</text></g><text x="90.5" y="672.9" font-family="Liberation Serif, serif" font-weight="bold" font-size="14.6" fill="#0000f0">SNR = 39.2</text><text x="285" y="663.7" font-family="Liberation Serif, serif" font-weight="bold" font-size="16" fill="#000" text-anchor="middle">Denoised</text><rect x="416.1" y="566.4" width="257.4" height="114.1" fill="#3e26a8"/><clipPath id="sc135"><rect x="416.1" y="566.4" width="257.4" height="114.1"/></clipPath><g clip-path="url(#sc135)"><defs><filter id="sf137" filterUnits="userSpaceOnUse" x="416.1" y="566.4" width="257.4" height="114.1" color-interpolation-filters="sRGB"><feGaussianBlur in="SourceGraphic" stdDeviation="0.6 1.2" result="I"/><feColorMatrix in="I" type="matrix" values="1 0 0 0 0 1 0 0 0 0 1 0 0 0 0 0 0 0 0 1" result="IM"/><feColorMatrix in="I" type="matrix" values="0 1 0 0 0 0 1 0 0 0 0 1 0 0 0 0 0 0 0 1" result="IS"/><feTurbulence type="fractalNoise" baseFrequency="0.87 0.27" numOctaves="2" seed="5" result="n1"/><feColorMatrix in="n1" type="matrix" values="1 0 0 0 0 1 0 0 0 0 1 0 0 0 0 0 0 0 0 1" result="g1"/><feTurbulence type="fractalNoise" baseFrequency="2.2 0.12" numOctaves="2" seed="6" result="n2"/><feColorMatrix in="n2" type="matrix" values="1 0 0 0 0 1 0 0 0 0 1 0 0 0 0 0 0 0 0 1" result="g2"/><feComposite in="IM" in2="g1" operator="arithmetic" k1="0" k2="1.0" k3="1.2" k4="-1.05" result="m1"/><feComposite in="IS" in2="g2" operator="arithmetic" k1="0" k2="2.0" k3="5" k4="-3.8" result="m2"/><feBlend in="m1" in2="m2" mode="lighten" result="m"/><feComponentTransfer in="m"><feFuncR type="table" tableValues="0.243 0.275 0.337 0.455 0.557 0.643 0.729"/><feFuncG type="table" tableValues="0.149 0.220 0.314 0.463 0.580 0.659 0.729"/><feFuncB type="table" tableValues="0.659 0.729 0.769 0.698 0.486 0.345 0.251"/><feFuncA type="linear" slope="0" intercept="1"/></feComponentTransfer><feGaussianBlur stdDeviation="0.55"/></filter></defs><g filter="url(#sf137)"><rect x="412.1" y="562.4" width="265.4" height="122.1" fill="#000"/><rect x="462.4" y="577.8" width="108.1" height="41.1" fill="#593300"/><rect x="457.3" y="618.9" width="100.4" height="57.1" fill="#996600"/><rect x="457.3" y="653.1" width="100.4" height="22.8" fill="#a88000"/><rect x="513.9" y="657.7" width="43.8" height="29.7" fill="#b29900"/><rect x="557.7" y="657.7" width="54.1" height="29.7" fill="#9e7a00"/><rect x="611.7" y="666.8" width="72.1" height="20.5" fill="#8c6100"/><rect x="457.3" y="674.8" width="226.5" height="12.6" fill="#b8ad00"/><rect x="534.5" y="671.4" width="66.9" height="16" fill="#bfcc00"/><rect x="563.8" y="612" width="2.1" height="57.1" fill="#997300"/><rect x="599.9" y="607.5" width="2.1" height="54.8" fill="#997300"/><rect x="625.1" y="600.6" width="2.6" height="68.5" fill="#997300"/><rect x="624.6" y="644" width="5.1" height="9.1" fill="#b2a600"/></g></g><path d="M416.1 680.5v2.5M416.1 566.4v-2.5M467.6 680.5v2.5M467.6 566.4v-2.5M519.1 680.5v2.5M519.1 566.4v-2.5M570.5 680.5v2.5M570.5 566.4v-2.5M622 680.5v2.5M622 566.4v-2.5M673.5 680.5v2.5M673.5 566.4v-2.5M416.1 680.5h-2.5M673.5 680.5h2.5M416.1 657.7h-2.5M673.5 657.7h2.5M416.1 634.9h-2.5M673.5 634.9h2.5M416.1 612h-2.5M673.5 612h2.5M416.1 589.2h-2.5M673.5 589.2h2.5M416.1 566.4h-2.5M673.5 566.4h2.5" stroke="#4d4d4d" stroke-width="0.9" fill="none"/><rect x="416.1" y="566.4" width="257.4" height="114.1" fill="none" stroke="#262626" stroke-opacity="0.55" stroke-width="0.6"/><g font-size="10" fill="#333333"><text x="416.1" y="697.5" text-anchor="middle">0</text><text x="467.6" y="697.5" text-anchor="middle">100</text><text x="519.1" y="697.5" text-anchor="middle">200</text><text x="570.5" y="697.5" text-anchor="middle">300</text><text x="622" y="697.5" text-anchor="middle">400</text><text x="673.5" y="697.5" text-anchor="middle">500</text><text x="410.3" y="684" text-anchor="end">0</text><text x="410.3" y="661.2" text-anchor="end">10</text><text x="410.3" y="638.4" text-anchor="end">20</text><text x="410.3" y="615.5" text-anchor="end">30</text><text x="410.3" y="592.7" text-anchor="end">40</text><text x="410.3" y="569.9" text-anchor="end">50</text></g><text x="544.8" y="710.7" text-anchor="middle" font-weight="bold" font-size="10.6" fill="#262626">Time (s)</text><text transform="translate(394.1 623.5) rotate(-90)" text-anchor="middle" font-weight="bold" font-size="10.6" fill="#262626">Frequency (Hz)</text><text x="628.5" y="582.9" font-family="Liberation Serif, serif" font-weight="bold" font-size="12.4" fill="#fff" text-anchor="middle">SS-CWT</text><path d="M89.7 772.3V886.6M100 772.3V886.6M110.3 772.3V886.6M120.6 772.3V886.6M130.9 772.3V886.6M141.3 772.3V886.6M151.6 772.3V886.6M161.9 772.3V886.6M172.2 772.3V886.6M182.5 772.3V886.6M192.8 772.3V886.6M203.1 772.3V886.6M213.4 772.3V886.6M223.7 772.3V886.6M234 772.3V886.6M244.3 772.3V886.6M254.6 772.3V886.6M265 772.3V886.6M275.3 772.3V886.6M285.6 772.3V886.6M295.9 772.3V886.6M306.2 772.3V886.6M316.5 772.3V886.6M79.4 880.9H336.6M79.4 875.2H336.6M79.4 869.5H336.6M79.4 863.7H336.6M79.4 858H336.6M79.4 852.3H336.6M79.4 846.6H336.6M79.4 840.9H336.6M79.4 835.2H336.6M79.4 829.5H336.6M79.4 823.7H336.6M79.4 818H336.6M79.4 812.3H336.6M79.4 806.6H336.6M79.4 800.9H336.6M79.4 795.2H336.6M79.4 789.4H336.6M79.4 783.7H336.6M79.4 778H336.6" stroke="#f1f1f1" stroke-width="0.6" fill="none"/><path d="M130.9 772.3V886.6M182.5 772.3V886.6M234 772.3V886.6M285.6 772.3V886.6M79.4 858H336.6M79.4 829.5H336.6M79.4 800.9H336.6" stroke="#e6e6e6" stroke-width="0.7" fill="none"/><clipPath id="c148"><rect x="79.4" y="771.3" width="257.2" height="116.3"/></clipPath><g clip-path="url(#c148)"><path d="M79.5 820.1V818.2V835.9L80.5 835V828.3L81.5 828.2V826.6V835L82.5 833V820.4V821L83.5 829.1V823.4V837.3L84.5 832.8V827.2L85.5 822.1V816.9V837V825.3L86.5 827.3V836.9L87.5 833.7V823.3V827.9L88.5 828.3V823V840.7V836.7L89.5 827.6V820.5V835.1V827.2L90.5 824.2V823.1V835.6L91.5 837.2V820.4L92.5 818.4V837.1V827.9L93.5 825.6V836.4V821.5V825.7L94.5 831.4V822.5V827.5L95.5 825.9V834.1V830L96.5 832V832.7V825.1V832.3L97.5 828.6V819.3V831.1L98.5 834.7V836.9V829L99.5 829V830.2V817.8V823.1L100.5 829.6V836.5V835.7L101.5 831.8V818.9V827L102.5 827.4V837.3V822.2V831.2L103.5 832.8V821.7V833.8V831.7L104.5 828.7V836V824.2V830.4L105.5 830.6V822.2V828L106.5 835.7V839.6V825L107.5 821.1V832.4V829.1L108.5 827.2V836.8V825.5V826.5L109.5 832.8V816.6V834.3L110.5 834V837.1V818.1V826.2L111.5 830.5V832.4V828.6V829.2L112.5 831.9V834.1V822.2V825.1L113.5 828.4V834.7L114.5 834.3V825.6L115.5 821.7V835.6V820.1V822.8L116.5 830.9V838.7V826.2L117.5 821.5V817.3V839.6V833L118.5 827.6V830.2V821.1V822.4L119.5 828.5V837.8V827.5L120.5 824.2V822.8V834.5V826L121.5 825.6V833.7V823.9L122.5 824V820.4V836.6L123.5 834.3V825.8V834.3V831.6L124.5 832.3V821.7V828.7L125.5 829V826.2V835.3L126.5 831.8V834.2V823.4L127.5 823.3V832.8V824.4L128.5 829.9V835.7V827.6V830.8L129.5 830.5V832.6V821.5L130.5 822.6V834.3V834L131.5 831.2V819.1V833.8V830.5L132.5 826.6V826.1V838.6V828L133.5 820.4V818.8V830.4V830L134.5 832.1V834.6V825.2V832.1L135.5 828.3V822.8V834.5V826.6L136.5 832.8V835.6V823.4V832.2L137.5 832V823.2V831.7L138.5 832.3V833.5V822.7V824.9L139.5 830.2V831.9V824.3L140.5 826.5V834.8V823.7V833.1L141.5 831.7V822.5V836L142.5 833.9V821.5V831.8L143.5 833.5V824.5V834.9V830.7L144.5 828V830.9V823.5V823.7L145.5 829.8V835.7V821.4V830.8L146.5 833.5V835V824.4L147.5 826.8V832.2V824L148.5 827.1V838.5V823.8V835.7L149.5 835.1V818.4V834.5L150.5 832.9V825.8V832.5L151.5 833.2V822.4V832.2L152.5 836V822.7L153.5 824.9V834.3L154.5 832.5V822.4V837.5V824.2L155.5 830.9V836.5V817.4V826.5L156.5 826.3V839V829.1L157.5 825.6V821.5V833.1V832.8L158.5 832.7V818.5L159.5 819.5V837.1V836.6L160.5 833.2V815.5V838.3V828.6L161.5 823.3V833.3V820V828.4L162.5 835.4V836.8V826.3V827.5L163.5 830.1V833.2V824.1V829.5L164.5 831.6V831.8V825.9L165.5 820.8V820.7V834.9V831.5L166.5 832.9V824.9L167.5 817.1V837.6V827.8L168.5 831.3V822.5V835.4L169.5 832.2V826.1V832.1L170.5 832V822.9L171.5 824V834.8V830.4L172.5 830.4V831.8V818.8V825.4L173.5 835.3V839.4V821.6V829.6L174.5 820.6V818.7V839.6V822.7L175.5 824.8V837.5V821.9L176.5 824.2V836.7L177.5 830.7V817.1V837.7V822L178.5 824.6V836V827.3L179.5 828.4V826.8V831.1L180.5 830.7V828V833.8L181.5 836.3V817.3V838.4L182.5 831.5V831.6V823.9L183.5 825.1V823.8V837.9L184.5 833.8V824.9V832.5L185.5 831.4V818V833.2V828.8L186.5 828.6V836.8V820.8L187.5 817.6V833.3L188.5 834.5V821.3V833.6L189.5 835.3V823.6V830.9L190.5 827.9V835.5V818.5V820.3L191.5 828.2V834.4V820.3V823L192.5 826V837.1V823.5L193.5 821.5V835.5V832.6L194.5 827V825.7V838.2V837.3L195.5 841.1V823.2V832L196.5 828.8V835.8V823.2V828.5L197.5 831.1V816.4V834.6V832.4L198.5 831.1V831.9V820.9L199.5 822.9V837.7V828.3L200.5 826.9V834.9V824.3V827.7L201.5 833.2V834.7V823.3V826.2L202.5 828.5V833.7V825.4L203.5 821.7V832.3V819.8V826.5L204.5 836.6V839.3V826.3V828.8L205.5 822.6V834.5V832.6L206.5 827.1V822.6V833.7V824.7L207.5 829.7V832.4V823V829.9L208.5 831.8V833.9V823.8L209.5 828V835V828.5L210.5 827.4V823.2V834.2L211.5 835V826.3V836V833.6L212.5 831.7V835V826V829L213.5 831.1V821.8V833L214.5 835.8V841.1V825.8L215.5 819.7V818.3V829L216.5 830.1V844.2L217.5 845.6V823.8V833.7L218.5 834V839.6V829.4L219.5 819.1V811.8V820.6L220.5 823.9V849.3V838.9L221.5 836.1V845.7V819.5V825.2L222.5 825.5V840.1V836.8L223.5 838V817.8L224.5 822V828.9V824.5L225.5 816V814.4V846.9L226.5 854.4V820.4L227.5 817.6V820.8V810.7V818.7L228.5 821.4V861.1L229.5 863.3V817.3L230.5 814.9V861.7L231.5 863.7V864V812.4L232.5 799.3V786V794.1L233.5 805.6V864.5L234.5 875V886.6V868.3V874.5L235.5 867.9V825.9L236.5 824.4V800.9V810.4L237.5 812.4V806.5V835.2L238.5 839.1V848V819.8L239.5 812V810.2V827.6V823L240.5 826.5V860.6L241.5 865.4V883.9V882.9L242.5 872V806.6L243.5 807.3V797.8V823L244.5 819.4V814.6V826.9L245.5 827.3V819.8V859.8L246.5 860.6V869V843.1L247.5 825.8V805.4V810.4L248.5 813.4V860.3L249.5 862.1V822.8L250.5 811.4V808.7V821.2L251.5 825.1V823.7V838.7V834.9L252.5 838V840.6V816.7V816.8L253.5 825V853.5V846.5L254.5 843.7V814.1V816.5L255.5 820V827.2L256.5 835.1V841.4V826.2V827L257.5 826.8V822.2V840.1V839L258.5 840V849.6V836.7L259.5 831V815.6V823.5L260.5 830.7V832.9V824.6L261.5 824V840.6L262.5 842.4V834.8V839.3L263.5 837V819.5V821.7L264.5 825V833.6V825L265.5 823.4V835.4V822.5V830.5L266.5 830.6V831V820.1L267.5 827.4V835.8V830.3L268.5 830.9V837.2V830.9L269.5 827.5V830.8V826.8V828.2L270.5 827.3V822.4V833.1V831.9L271.5 828.8V829.5V824.9V827.2L272.5 831.9V831.1V842.5V835.6L273.5 826.1V823V830.2V826.3L274.5 827.3V826.9V833.8V829L275.5 831.7V840.7V831.6V833.8L276.5 831.5V818.9V827.4L277.5 824.5V822.1V840.5V838.2L278.5 834V827.2V829L279.5 834.4V837.3V820.8V832.2L280.5 832.9V834.8V824V826.1L281.5 828.6V833.3V822.7V831.2L282.5 832.4V820.3V835.3V832.1L283.5 831.6V829.4V833.9L284.5 831.3V827.5V835.3L285.5 836.5V826.5V826.9L286.5 824.9V822.9V831.3L287.5 831.9V834.6V824.6V827.8L288.5 834.3V839.7V821.2V825.7L289.5 830.2V830.6V824.5V826.2L290.5 828.7V840.4V831.4L291.5 826V820V831.2V830.8L292.5 830.3V823.7V828.5L293.5 831.3V839.5V827.1L294.5 829.2V839V816.2V827.8L295.5 830.9V816.3V836.1L296.5 837.8V838.7V822.6V831.7L297.5 831.9V833.2V827.3L298.5 826.4V822.1V832V830.9L299.5 830.8V828V836.9L300.5 837.6V825.7V826.3L301.5 825.3V833.5V822.5L302.5 828.5V835.4V824.4V834.8L303.5 832.4V835.7V822L304.5 818.7V834.9V828.5L305.5 826.7V833.3V824.3V832L306.5 835.4V824.3V828.3L307.5 824.1V835V824.2L308.5 829.3V832.9V827.7V831.6L309.5 829.3V825.4V830.8L310.5 837.8V840.3V821.9V823.1L311.5 822.8V833.7V828.7L312.5 828.5V834.4V827V830.6L313.5 834.6V838.1V816.4L314.5 808.7V836.3L315.5 833.3V825V833L316.5 831.3V823.4V830.1L317.5 828.3V834.7L318.5 831.5V824.3V824.6L319.5 830.5V835.3V826.4V830.7L320.5 828.5V822.6V830.9L321.5 833.1V837.3V829.5V829.6L322.5 831.3V815.3V837.6L323.5 832.4V824.1V829.9L324.5 836.7V838.9V824.8L325.5 822V833.9L326.5 834.8V837.3V818.3L327.5 823.5V833.1L328.5 832.5V827.3V836.3V830.3L329.5 826.1V829V822.9V825.6L330.5 828.4V827.4V834.5V831.8L331.5 833V834.7V819.8V829.1L332.5 829.1V824.2V837.4V829.4L333.5 829.6V828.4V836.1L334.5 833.5V815.4L335.5 821.5V841V834L336.5 825.5V822.8V828.6V828.3" stroke="#0072bd" stroke-width="0.85" fill="none" stroke-linejoin="round"/></g><path d="M79.4 772.3H336.6V886.6H79.4Z" stroke="#4d4d4d" stroke-width="0.9" fill="none"/><path d="M79.4 886.6v3M79.4 772.3v-3M130.9 886.6v3M130.9 772.3v-3M182.5 886.6v3M182.5 772.3v-3M234 886.6v3M234 772.3v-3M285.6 886.6v3M285.6 772.3v-3M79.4 886.6h-3M336.6 886.6h3M79.4 858h-3M336.6 858h3M79.4 829.5h-3M336.6 829.5h3M79.4 800.9h-3M336.6 800.9h3M79.4 772.3h-3M336.6 772.3h3" stroke="#4d4d4d" stroke-width="0.9" fill="none"/><g font-size="10" fill="#333333"><text x="79.4" y="903.6" text-anchor="middle">0</text><text x="130.9" y="903.6" text-anchor="middle">2</text><text x="182.5" y="903.6" text-anchor="middle">4</text><text x="234" y="903.6" text-anchor="middle">6</text><text x="285.6" y="903.6" text-anchor="middle">8</text><text x="73.6" y="890.1" text-anchor="end">-1</text><text x="73.6" y="861.5" text-anchor="end">-0.5</text><text x="73.6" y="833" text-anchor="end">0</text><text x="73.6" y="804.4" text-anchor="end">0.5</text><text x="73.6" y="775.8" text-anchor="end">1</text></g><text x="208" y="916.8" text-anchor="middle" font-weight="bold" font-size="10.6" fill="#262626">Time (s)</text><text transform="translate(51.9 829.5) rotate(-90)" text-anchor="middle" font-weight="bold" font-size="10.6" fill="#262626">Normalized amplitude</text><rect x="87.4" y="764.3" width="99.3" height="37.7" fill="#fff"/><path d="M92.4 764.3V802M97.3 764.3V802M102.3 764.3V802M107.3 764.3V802M112.2 764.3V802M117.2 764.3V802M122.2 764.3V802M127.1 764.3V802M132.1 764.3V802M137.1 764.3V802M142 764.3V802M147 764.3V802M151.9 764.3V802M156.9 764.3V802M161.9 764.3V802M166.8 764.3V802M171.8 764.3V802M176.8 764.3V802M181.7 764.3V802M87.4 797.3H186.7M87.4 792.6H186.7M87.4 787.9H186.7M87.4 783.1H186.7M87.4 778.4H186.7M87.4 773.7H186.7M87.4 769H186.7" stroke="#f1f1f1" stroke-width="0.6" fill="none"/><path d="M112.2 764.3V802M137.1 764.3V802M161.9 764.3V802M87.4 783.1H186.7" stroke="#e6e6e6" stroke-width="0.7" fill="none"/><clipPath id="c160"><rect x="87.4" y="764.3" width="99.3" height="37.7"/></clipPath><g clip-path="url(#c160)"><path d="M87.5 783.5V783.8V781.3V781.7L88.5 782.7V781.3V785.9V784.6L89.5 783.6V781.6V784.2V783.8L90.5 781.2V779.4V784.4V783.3L91.5 783.8V785.6V779.2V781.2L92.5 783.5V784.8V781.6L93.5 780.4V785.1V782.5L94.5 781.2V784.5L95.5 785.2V779.5V784.8L96.5 783V780.1V784.6L97.5 785.7V780.5V781.7L98.5 782.7V781.9V785.8L99.5 786V787V781.1L100.5 782V785.3V784.1L101.5 781.7V783.7V778.8V781.6L102.5 784.3V784.9V782.4L103.5 781.6V780.3V785.9V785.2L104.5 783.9V782.3V784.9V782.6L105.5 781.5V784.9V781.1V781.4L106.5 781.7V784.5L107.5 783.8V784.1V780L108.5 782.2V786.4V782.1V783L109.5 780.9V784.8V784.2L110.5 782.4V780.9V784.6V781.6L111.5 783.2V784.1V781V783.9L112.5 784.2V784.6V781.3V782.7L113.5 784.2V785V782.5L114.5 781.7V781.1V785L115.5 784.2V782.1V785.3V783.9L116.5 784.3V785V782V782.9L117.5 781.1V780.6V786.5L118.5 787V779.5L119.5 779.9V779.7V784.4L120.5 786V788.5V784.2L121.5 781.3V781.3V786.5L122.5 785.6V777.3V778L123.5 779.8V778.9V783.6L124.5 787.1V789.7V785.4V786.4L125.5 782.4V779.9V786.2L126.5 786.7V784.2V784.7L127.5 783.4V779.3V782.3L128.5 783V778.2V784.5V783.7L129.5 785.1V791.4V788.1L130.5 784.6V777V777.7L131.5 779V790.9L132.5 793.6V794.3V783.2L133.5 779.1V778.3V792.1L134.5 793.8V794.6V779.6L135.5 777.5V768.8V769.4L136.5 771.5V794.7L137.5 798.2V802V796V798L138.5 795.8V782L139.5 781.5V773.7V776.9L140.5 777.5V775.6V786.3L141.5 787.7V789.3V777.4L142.5 776.8V782.5V782.2L143.5 782.2V795L144.5 795.5V801.1V788.4L145.5 785.1V773.2L146.5 772.7V781V778.9L147.5 778.7V778.3V782.4V780L148.5 782.9V796.2L149.5 795.1V775.2V776.9L150.5 779V776.9V786.3L151.5 788.7V793.9V788.6L152.5 787.3V776.3V778.1L153.5 776.9V785.8L154.5 786.2V786.8V782L155.5 780.3V779V791.1V791L156.5 789.9V779L157.5 778.1V781.1V780.8L158.5 780.7V787.1V782.3L159.5 782.1V780.8V785.9L160.5 786.6V786.3V789.8V786.9L161.5 785.5V778.6V781.2L162.5 783.6V784.3V781.6L163.5 781.4V786.8L164.5 787.4V784.9V785.6L165.5 782.7V779.9V781.7L166.5 783.2V784.5V781.1L167.5 783.3V785.1V780.9V783.5L168.5 783.2V780.1V784.7L169.5 785.2V783.4V784.8L170.5 785.7V782.3L171.5 783.1V783.6V781.3L172.5 780.8V784.4V782.6L173.5 783.2V781.6V784.6V784.1L174.5 783.7V787.5V781V782.4L175.5 783.4V781.3V783L176.5 784.2V783V786.9V785.9L177.5 784.4V784.6V779.7L178.5 780.3V782.7L179.5 784.6V786.8V783.4L180.5 782.4V785.7V780.3V781.4L181.5 783.3V784.9V781.4L182.5 781.4V784.4V780.9L183.5 781.7V780.1V785.1L184.5 784.9V783.1V784.4L185.5 784.6V782.5V783.5L186.5 785.1V785.5V782.2V783.7" stroke="#0072bd" stroke-width="1.0" fill="none" stroke-linejoin="round"/></g><path d="M87.4 764.3H186.7V802H87.4Z" stroke="#555555" stroke-width="1.0" fill="none"/><path d="M87.4 802v-1.5M87.4 764.3v1.5M112.2 802v-1.5M112.2 764.3v1.5M137.1 802v-1.5M137.1 764.3v1.5M161.9 802v-1.5M161.9 764.3v1.5M186.7 802v-1.5M186.7 764.3v1.5M87.4 802h1.5M186.7 802h-1.5M87.4 783.1h1.5M186.7 783.1h-1.5M87.4 764.3h1.5M186.7 764.3h-1.5" stroke="#555555" stroke-width="1.0" fill="none"/><g font-size="5.6" fill="#333333" font-weight="bold"><text x="87.4" y="808.3" text-anchor="middle">4</text><text x="112.2" y="808.3" text-anchor="middle">5</text><text x="137.1" y="808.3" text-anchor="middle">6</text><text x="161.9" y="808.3" text-anchor="middle">7</text><text x="186.7" y="808.3" text-anchor="middle">8</text><text x="85.8" y="804" text-anchor="end">-1</text><text x="85.8" y="785.1" text-anchor="end">0</text><text x="85.8" y="766.3" text-anchor="end">1</text></g><text x="90.5" y="877.4" font-family="Liberation Serif, serif" font-weight="bold" font-size="14.6" fill="#0000f0">SNR = 1.9</text><text x="287.7" y="871.9" font-family="Liberation Serif, serif" font-weight="bold" font-size="16" fill="#000" text-anchor="middle">Raw</text><rect x="418.2" y="772.3" width="257.3" height="114.3" fill="#3e26a8"/><clipPath id="sc170"><rect x="418.2" y="772.3" width="257.3" height="114.3"/></clipPath><g clip-path="url(#sc170)"><defs><filter id="bl172" x="-5%" y="-5%" width="110%" height="110%"><feGaussianBlur stdDeviation="0.35"/></filter></defs><defs><linearGradient id="lg173" x1="0" y1="0" x2="0" y2="1"><stop offset="0" stop-color="#3a3ac6"/><stop offset="0.8" stop-color="#3834be"/><stop offset="1" stop-color="#3e26a8"/></linearGradient></defs><defs><radialGradient id="rg174"><stop offset="0" stop-color="#05b6ce" stop-opacity="0.75"/><stop offset="1" stop-color="#2d8cf3" stop-opacity="0"/></radialGradient></defs><g filter="url(#bl172)"><rect x="418.2" y="770" width="257.3" height="82.3" fill="url(#lg173)"/><path d="M418.2 881.2 441.7 882.1 465.2 882.9 488.7 882.6 512.2 881.6 535.7 881.1 559.3 881.7 582.8 882.7 606.3 882.8 629.8 882 653.3 881.2 676.8 881.4" stroke="#4851f4" stroke-width="0.8" fill="none" opacity="0.35"/><path d="M418.2 879.3 441.7 880.1 465.2 879.9 488.7 878.9 512.2 878.4 535.7 879 559.3 880 582.8 880.1 606.3 879.2 629.8 878.4 653.3 878.7 676.8 879.7" stroke="#4851f4" stroke-width="0.8" fill="none" opacity="0.35"/><path d="M418.2 871.5 441.7 870.8 465.2 871.3 488.7 872.3 512.2 872.6 535.7 871.9 559.3 871 582.8 871 606.3 872 629.8 872.6 653.3 872.2 676.8 871.2" stroke="#4851f4" stroke-width="0.8" fill="none" opacity="0.35"/><path d="M547.5 875.2 551.8 872.6 556.1 870.3 560.4 868.2 564.7 866.6 569 866.6 573.4 868.2 577.7 870.3 582 872.6 586.3 875.2" stroke="#2e85f8" stroke-width="0.9" fill="none" opacity="0.8"/><path d="M563 877.5 567.6 874.9 572.2 872.6 576.8 870.5 581.4 868.8 586 868.8 590.6 870.5 595.2 872.6 599.8 874.9 604.4 877.5" stroke="#2e85f8" stroke-width="0.9" fill="none" opacity="0.8"/><path d="M581.1 879.7 585.7 877.2 590.3 874.9 594.9 872.8 599.5 871.1 604.1 871.1 608.7 872.8 613.3 874.9 617.9 877.2 622.5 879.7" stroke="#2e85f8" stroke-width="0.9" fill="none" opacity="0.8"/><path d="M542.3 882 545.8 879.5 549.2 877.1 552.7 875.1 556.1 873.4 559.6 873.4 563 875.1 566.5 877.1 569.9 879.5 573.4 882" stroke="#2e85f8" stroke-width="0.9" fill="none" opacity="0.8"/><path d="M604.4 878.6 608.4 876.1 612.4 873.7 616.5 871.6 620.5 870 624.5 870 628.5 871.6 632.5 873.7 636.6 876.1 640.6 878.6" stroke="#2e85f8" stroke-width="0.9" fill="none" opacity="0.8"/><path d="M622.5 877.5 628.2 874.9 634 872.6 639.7 870.5 645.5 868.8 651.2 868.8 657 870.5 662.7 872.6 668.5 874.9 674.2 877.5" stroke="#2e85f8" stroke-width="0.9" fill="none" opacity="0.8"/><path d="M556.5 865.6 563 864.7 569.5 865.1" stroke="#f6e028" stroke-width="1.5" fill="none"/><ellipse cx="572.1" cy="880.9" rx="22" ry="7" fill="url(#rg174)"/><path d="M419.3 806.5 420.5 839.9 421.7 837.5 423.1 844.8 424.4 842.6 425.3 844.6 426.2 816.3 427.8 827 429.5 823.2 431 824.7 432.5 799.7 433.5 819.7 434.4 817 435.5 844.2 436.6 840 438.4 842.5 440.3 828.8 441.4 831.1 442.5 809.8 443.5 839.4 444.4 837.2 446 840.5 447.6 828.9 449.1 833.5 450.6 827.3 451.4 847.6 452.2 845.2 453.9 848.8 455.6 841.3 456.8 850.8 458 845.1 459 848.5 460 819.2 461.3 829.3 462.5 826.9 464.3 831.9 466.1 824.4 467 849.4 467.9 844.1 469.3 848.6 470.6 844.1 472.1 846.7 473.5 828.7 474.6 832.1 475.8 827.4 476.8 840.3 477.8 837.7 479.3 843 480.7 817.9 482.2 832 483.6 830.8 485.1 836.5 486.5 831.4 487.7 833.7 488.9 819.8 490.1 821.6 491.3 804.5 492.4 819.4 493.6 814.4 495.2 835.7 496.9 830.9 497.8 832.3 498.7 820.9 500.4 827.6 502 825.1 503.2 845.6 504.3 844 505.6 848.6 507 819 508.1 841.6 509.3 836.3 510.5 838.8 511.7 803.4 513 828.2 514.2 825.4 515.8 826.7 517.4 817.8 518.5 835.9 519.5 834.3 520.7 840.2 521.8 838.8 523.2 843.2 524.6 830.9 526.4 837.4 528.1 835.4 529.3 838.6 530.4 833.5 531.7 843.4 532.9 841 534 844.6 535.2 831.1 536.8 836.1 538.3 832.4 539.3 835.1 540.2 815.8 541.7 826.8 543.3 824.4 544.2 839.3 545.1 834 546.8 839.8 548.5 834.4 550 844.5 551.5 841.2 552.6 844.2 553.7 837.2 554.6 845.3 555.5 841.8 557.1 845.4 558.7 822.8 559.8 839.1 561 833.6 562.6 836.7 564.3 814.4 565 822.9 565.8 820.2 567 838.8 568.3 833.3 569.7 837.4 571 827.9 572.5 836.6 573.9 834.8 575.6 838.4 577.2 827.9 578.3 848.1 579.4 843.2 580.7 846.9 582.1 830.9 583 833.2 583.9 827.9 585.3 837.1 586.6 834.3 588.1 838.8 589.5 830.8 590.9 841 592.4 837.3 593.8 839.1 595.1 837.9 596.3 846.6 597.5 844 598.6 848.7 599.7 844.1 600.9 845.5 602.2 833.8 603.6 839.7 605.1 836.7 606.2 840.4 607.4 836 609.1 839.2 610.7 836.7 612 841 613.4 822.7 614.7 841.3 615.9 839.9 616.8 845.3 617.6 814.9 619.3 840 621 835.4 621.8 846.5 622.6 841.3 624 848.5 625.4 845 627 848.3 628.7 833.5 629.7 836.1 630.8 828.9 632.4 844.6 634 843 635.2 846.7 636.4 843.2 637.7 845.7 639 825.1 640.2 830.2 641.5 824.2 643 841.9 644.5 840 645.7 841.4 647 823.2 647.7 827.9 648.5 822.5 650.4 842.5 652.3 836.9 653.3 840 654.2 813.5 655.4 834.7 656.6 829.6 658.3 834 659.9 810.6 661.3 847.6 662.6 842.9 663.8 846.7 665 840 666.3 843.5 667.5 832.6 668.3 842.4 669.2 838.4 670.6 843.2 672.1 832.3 673.7 842.5" stroke="#2d8cf3" stroke-width="0.9" fill="none" opacity="0.75"/><path d="M419.3 771.2 419.7 775.6 419.9 780 420 784.4 420.1 788.8 420 793.2 420 797.6 420.2 802 420.4 806.5" stroke="#01b8c9" stroke-width="0.74" fill="none" opacity="0.93"/><path d="M421.8 771.2 422.1 779.5 421.8 787.7 421.7 796 422.2 804.3 421.9 812.6" stroke="#2c90f0" stroke-width="0.89" fill="none" opacity="0.78"/><path d="M421.9 812.6 422.3 820.9 421.9 829.2 422 837.5" stroke="#3f6efe" stroke-width="0.76" fill="none" opacity="0.78"/><path d="M424.7 771.2 425 780.1 425.3 789 425.3 798 425.8 806.9" stroke="#3479fd" stroke-width="1.05" fill="none" opacity="0.72"/><path d="M426.1 815.8 426.2 824.7 425.9 833.7 426.1 842.6" stroke="#465dfa" stroke-width="0.90" fill="none" opacity="0.56"/><path d="M426.1 771.2 426.3 776.8 426.4 782.4 426.5 788.1 426.4 793.7 426.2 799.3 426.3 805 426.7 810.6" stroke="#1da9e0" stroke-width="0.79" fill="none" opacity="0.83"/><path d="M426.7 810.6 427.4 816.3" stroke="#2e84f9" stroke-width="0.67" fill="none" opacity="0.74"/><path d="M429.4 771.2 429.5 777.7 429.2 784.2 429.4 790.7 429.6 797.2 430.1 803.7 430.7 810.2" stroke="#1babde" stroke-width="0.74" fill="none" opacity="0.78"/><path d="M430.7 810.2 431 816.7 431.7 823.2" stroke="#2e85f8" stroke-width="0.63" fill="none" opacity="0.78"/><path d="M432.8 771.2 432.7 774.7 433.3 778.3 433.7 781.9 433.8 785.4 433.9 789 433.6 792.6 432.9 796.2 432.8 799.7" stroke="#01bac5" stroke-width="0.81" fill="none" opacity="0.87"/><path d="M434.3 771.2 434.8 776.9 435 782.6 435.2 788.3 435.1 794.1 435.4 799.8 435.8 805.5 436 811.2" stroke="#249ee6" stroke-width="0.83" fill="none" opacity="0.99"/><path d="M436 811.2 435.9 817" stroke="#337bfd" stroke-width="0.70" fill="none" opacity="0.70"/><path d="M436.4 771.2 436.3 779.8 436.8 788.4 436.7 797 437 805.6" stroke="#2f81fa" stroke-width="0.93" fill="none" opacity="0.89"/><path d="M436.9 814.2 436.6 822.8 436.6 831.4 436.5 840" stroke="#4562fc" stroke-width="0.79" fill="none" opacity="0.79"/><path d="M440.1 771.2 440.1 778.4 440.3 785.6 440.4 792.8 440.3 800 440.8 807.2" stroke="#2995ec" stroke-width="1.08" fill="none" opacity="0.78"/><path d="M441.2 814.4 440.5 821.6 440.8 828.8" stroke="#3c72ff" stroke-width="0.92" fill="none" opacity="0.53"/><path d="M443.1 771.2 443.6 776 444.2 780.8 444.5 785.6 444.8 790.5 445.1 795.3 444.7 800.1 445.4 805 445.5 809.8" stroke="#1ca9e0" stroke-width="1.00" fill="none" opacity="0.72"/><path d="M443.8 771.2 443.9 779.4 443.5 787.7 443.2 795.9 442.6 804.2 442.1 812.4" stroke="#259de7" stroke-width="0.75" fill="none" opacity="0.71"/><path d="M442.1 812.4 442.3 820.7 442.1 828.9 442.1 837.2" stroke="#3479fd" stroke-width="0.64" fill="none" opacity="0.71"/><path d="M447.6 771.2 446.9 778.4 446.8 785.6 447 792.8 447.4 800.1 447.8 807.3" stroke="#08bcbf" stroke-width="0.76" fill="none" opacity="0.95"/><path d="M447.9 814.5 447.6 821.7 447.9 828.9" stroke="#2699e9" stroke-width="0.65" fill="none" opacity="0.73"/><path d="M451.1 771.2 451.3 778.2 451.2 785.2 451.4 792.2 451.4 799.2 451.5 806.2 451.7 813.2" stroke="#0abdbd" stroke-width="1.08" fill="none" opacity="0.83"/><path d="M451.7 813.2 451.8 820.2 451.9 827.3" stroke="#269ae9" stroke-width="0.92" fill="none" opacity="0.71"/><path d="M452 771.2 452.2 780.4 451.6 789.7 452 798.9 452 808.2" stroke="#259ce7" stroke-width="0.99" fill="none" opacity="0.89"/><path d="M452.5 817.4 451.7 826.7 451.2 836 451.6 845.2" stroke="#3579fd" stroke-width="0.84" fill="none" opacity="0.54"/><path d="M455.8 771.2 455.5 779.9 455.4 788.7 455.8 797.5 455.9 806.2" stroke="#249ee6" stroke-width="0.82" fill="none" opacity="0.98"/><path d="M455.7 815 455.7 823.8 456.1 832.5 456 841.3" stroke="#337bfd" stroke-width="0.70" fill="none" opacity="0.67"/><path d="M458 771.2 458.1 780.4 458.4 789.6 457.8 798.9 457.9 808.1" stroke="#1aacdd" stroke-width="0.85" fill="none" opacity="0.79"/><path d="M458 817.4 458 826.6 457.7 835.8 457.9 845.1" stroke="#2e87f7" stroke-width="0.73" fill="none" opacity="0.54"/><path d="M460.5 771.2 460.9 777.2 460.9 783.2 460.6 789.2 460.2 795.2 460.1 801.2 460 807.2 460.1 813.2" stroke="#2e84f8" stroke-width="0.97" fill="none" opacity="0.85"/><path d="M460.1 813.2 459.7 819.2" stroke="#4465fd" stroke-width="0.82" fill="none" opacity="0.61"/><path d="M462.7 771.2 462.9 778.1 462.5 785.1 462.2 792.1 462.5 799 462.8 806 462 813" stroke="#04bbc1" stroke-width="0.84" fill="none" opacity="0.89"/><path d="M462 813 462.4 819.9 462.6 826.9" stroke="#2797ea" stroke-width="0.71" fill="none" opacity="0.66"/><path d="M466.3 771.2 466.9 777.8 467.1 784.5 467.4 791.1 467.3 797.8 467 804.4 467 811.1" stroke="#2e83f9" stroke-width="0.77" fill="none" opacity="0.86"/><path d="M467 811.1 467.4 817.7 467.8 824.4" stroke="#4464fd" stroke-width="0.65" fill="none" opacity="0.80"/><path d="M467.9 771.2 468.1 780.3 467.9 789.4 467.9 798.5 467.4 807.6" stroke="#14b0d8" stroke-width="0.82" fill="none" opacity="0.72"/><path d="M467.4 816.7 467.8 825.9 467.8 835 468 844.1" stroke="#2d8bf4" stroke-width="0.70" fill="none" opacity="0.58"/><path d="M470.4 771.2 471.3 780.3 471.4 789.4 471.1 798.5 470.6 807.6" stroke="#10b2d5" stroke-width="0.83" fill="none" opacity="0.87"/><path d="M471.1 816.7 471.3 825.9 471.4 835 471 844.1" stroke="#2d8cf3" stroke-width="0.70" fill="none" opacity="0.70"/><path d="M474.1 771.2 474.3 778.3 474.2 785.5 474.6 792.7 474 799.9 473.7 807.1" stroke="#416bfe" stroke-width="1.05" fill="none" opacity="0.96"/><path d="M473.6 814.3 474 821.5 474.3 828.7" stroke="#4854f5" stroke-width="0.89" fill="none" opacity="0.60"/><path d="M476.2 771.2 476.1 778.2 476.3 785.2 476.9 792.2 476.8 799.3 477.1 806.3 477 813.3" stroke="#02bac5" stroke-width="0.83" fill="none" opacity="0.78"/><path d="M477 813.3 477 820.3 477 827.4" stroke="#2896ec" stroke-width="0.71" fill="none" opacity="0.66"/><path d="M478.4 771.2 478.2 779.5 478.3 787.8 478.2 796.1 477.5 804.4 477.9 812.7" stroke="#3b73fe" stroke-width="0.81" fill="none" opacity="0.77"/><path d="M477.9 812.7 477.9 821.1 477.5 829.4 477.3 837.7" stroke="#4759f8" stroke-width="0.69" fill="none" opacity="0.74"/><path d="M480.3 771.2 479.8 777 480 782.8 480.5 788.7 480.5 794.5 480.9 800.4 480.5 806.2 480.4 812.1" stroke="#17aeda" stroke-width="0.90" fill="none" opacity="0.90"/><path d="M480.4 812.1 480.6 817.9" stroke="#2d89f5" stroke-width="0.77" fill="none" opacity="0.53"/><path d="M483.3 771.2 483.5 778.6 483.6 786.1 483.3 793.5 483.5 801 483.3 808.4" stroke="#2d8bf3" stroke-width="0.91" fill="none" opacity="0.93"/><path d="M483.5 815.9 483.5 823.3 483.4 830.8" stroke="#426afe" stroke-width="0.77" fill="none" opacity="0.76"/><path d="M486.5 771.2 486.1 778.7 486.8 786.2 486.2 793.7 486.7 801.3 486.4 808.8" stroke="#3876fe" stroke-width="0.86" fill="none" opacity="0.94"/><path d="M486.8 816.3 486.8 823.8 487 831.4" stroke="#475bf9" stroke-width="0.73" fill="none" opacity="0.55"/><path d="M489.1 771.2 488.8 777.2 488.5 783.3 488.4 789.4 488.4 795.5 488.7 801.6 488.5 807.7" stroke="#22a1e4" stroke-width="1.01" fill="none" opacity="0.79"/><path d="M488.2 813.7 487.9 819.8" stroke="#317dfc" stroke-width="0.86" fill="none" opacity="0.51"/><path d="M491.1 771.2 491.1 775.3 490.5 779.5 490.7 783.7 491 787.8 490.7 792 490.7 796.2 490.4 800.3 490.7 804.5" stroke="#2895ec" stroke-width="1.10" fill="none" opacity="0.97"/><path d="M493.3 771.2 493.2 776.6 492.8 782 492.8 787.4 492.9 792.8 493.2 798.2 493.4 803.6 493.2 809" stroke="#3a73fe" stroke-width="1.02" fill="none" opacity="0.84"/><path d="M493.2 809 493.6 814.4" stroke="#4759f9" stroke-width="0.87" fill="none" opacity="0.72"/><path d="M496.7 771.2 496.6 778.6 495.9 786.1 496.3 793.6 496.3 801 496.5 808.5" stroke="#249fe5" stroke-width="0.88" fill="none" opacity="0.89"/><path d="M496.8 816 497.3 823.5 497.4 830.9" stroke="#327bfc" stroke-width="0.74" fill="none" opacity="0.80"/><path d="M498.2 771.2 498 777.4 498.1 783.6 498.6 789.8 498.3 796 498.2 802.2 498.2 808.4" stroke="#2e85f8" stroke-width="0.98" fill="none" opacity="0.94"/><path d="M499.2 814.7 499 820.9" stroke="#4465fd" stroke-width="0.83" fill="none" opacity="0.59"/><path d="M502.2 771.2 502.1 777.9 502.2 784.6 502.8 791.4 502.8 798.1 502.7 804.9 502.5 811.6" stroke="#06bbc1" stroke-width="0.84" fill="none" opacity="0.88"/><path d="M502.5 811.6 502.6 818.4 503 825.1" stroke="#2798ea" stroke-width="0.71" fill="none" opacity="0.59"/><path d="M504 771.2 504.1 780.3 504.1 789.4 504.3 798.5 504.7 807.6" stroke="#13b0d7" stroke-width="0.82" fill="none" opacity="0.98"/><path d="M504.8 816.7 504.8 825.8 505 834.9 505.2 844" stroke="#2d8bf4" stroke-width="0.70" fill="none" opacity="0.73"/><path d="M506.6 771.2 506.9 777.1 506.7 783.1 506.6 789.1 506.8 795.1 506.6 801.1 506.6 807.1 506.3 813" stroke="#406dfe" stroke-width="0.79" fill="none" opacity="0.91"/><path d="M506.3 813 505.9 819" stroke="#4755f6" stroke-width="0.67" fill="none" opacity="0.64"/><path d="M509.7 771.2 510.2 779.3 509.9 787.4 509.7 795.6 510.2 803.7 510.2 811.9" stroke="#2c8ef1" stroke-width="0.70" fill="none" opacity="0.72"/><path d="M510.2 811.9 510.3 820 510.5 828.2 510.7 836.3" stroke="#406dfe" stroke-width="0.60" fill="none" opacity="0.73"/><path d="M511.5 771.2 511.9 775.2 512.2 779.2 512.1 783.3 512 787.3 512.3 791.3 511.6 795.4 511.7 799.4 511.5 803.4" stroke="#0cb3d3" stroke-width="1.03" fill="none" opacity="0.76"/><path d="M515.2 771.2 515.2 777.9 515.3 784.7 514.9 791.5 515.3 798.3 515.1 805.1 515.2 811.8" stroke="#337afd" stroke-width="0.98" fill="none" opacity="0.84"/><path d="M515.2 811.8 515.7 818.6 516.1 825.4" stroke="#465efb" stroke-width="0.83" fill="none" opacity="0.68"/><path d="M517 771.2 517.2 777 517.8 782.8 517.8 788.6 517.8 794.5 517.8 800.3 518 806.1 517.4 811.9" stroke="#2699e9" stroke-width="1.08" fill="none" opacity="0.76"/><path d="M517.4 811.9 517.7 817.8" stroke="#3876fe" stroke-width="0.92" fill="none" opacity="0.64"/><path d="M519.7 771.2 520.2 779 520 786.9 519.5 794.8 519.6 802.7 519.7 810.6" stroke="#2d8af5" stroke-width="1.04" fill="none" opacity="0.85"/><path d="M519.7 810.6 520 818.5 519.8 826.4 520 834.3" stroke="#4269fe" stroke-width="0.88" fill="none" opacity="0.78"/><path d="M522.1 771.2 521.9 779.6 521.3 788.1 521.1 796.5 520.7 805 520.6 813.4" stroke="#3f6efe" stroke-width="1.00" fill="none" opacity="0.83"/><path d="M520.6 813.4 520.9 821.9 520.8 830.3 520.8 838.8" stroke="#4756f6" stroke-width="0.85" fill="none" opacity="0.78"/><path d="M525.2 771.2 525.3 778.6 525.6 786.1 525 793.6 525.4 801 526 808.5" stroke="#1fa6e2" stroke-width="0.78" fill="none" opacity="0.82"/><path d="M526 816 525.9 823.4 525.7 830.9" stroke="#2f82fa" stroke-width="0.67" fill="none" opacity="0.68"/><path d="M528.2 771.2 528.8 779.2 528.9 787.2 528.8 795.2 529.1 803.3 529.1 811.3" stroke="#01b9c6" stroke-width="1.02" fill="none" opacity="0.92"/><path d="M529.1 811.3 529.1 819.3 529 827.3 528.7 835.4" stroke="#2995ec" stroke-width="0.87" fill="none" opacity="0.50"/><path d="M530.6 771.2 530.3 779 530.3 786.8 530.2 794.5 530.2 802.3 530.3 810.1" stroke="#2d8bf4" stroke-width="0.95" fill="none" opacity="0.92"/><path d="M530.3 810.1 530.4 817.9 530.8 825.7 531 833.5" stroke="#426afe" stroke-width="0.80" fill="none" opacity="0.58"/><path d="M532.9 771.2 533.2 779.9 532.6 788.6 532.7 797.4 532.8 806.1" stroke="#07b5d0" stroke-width="1.04" fill="none" opacity="0.94"/><path d="M532.7 814.8 532.5 823.6 532.6 832.3 532.5 841" stroke="#2c8ff0" stroke-width="0.88" fill="none" opacity="0.68"/><path d="M535.3 771.2 535.1 778.7 535 786.1 534.6 793.6 535.1 801.1 535.6 808.6" stroke="#20a5e3" stroke-width="0.93" fill="none" opacity="0.85"/><path d="M535.9 816.1 536.3 823.6 536.4 831.1" stroke="#2f80fa" stroke-width="0.79" fill="none" opacity="0.50"/><path d="M538.3 771.2 538.2 778.8 538.1 786.5 537.6 794.1 538.1 801.8 538.5 809.4" stroke="#3678fd" stroke-width="1.04" fill="none" opacity="0.96"/><path d="M538.5 809.4 538.8 817.1 539.1 824.7 539.2 832.4" stroke="#475cfa" stroke-width="0.88" fill="none" opacity="0.59"/><path d="M540 771.2 540 776.7 539.9 782.3 539.6 787.9 540 793.5 540.4 799.1 540.2 804.7 539.9 810.2" stroke="#06bcc0" stroke-width="0.88" fill="none" opacity="0.84"/><path d="M539.9 810.2 539.8 815.8" stroke="#2798ea" stroke-width="0.75" fill="none" opacity="0.73"/><path d="M543.2 771.2 543.5 777.8 543.6 784.5 543.5 791.1 543.9 797.8 543.4 804.4 544 811.1" stroke="#3c71ff" stroke-width="0.90" fill="none" opacity="0.81"/><path d="M544 811.1 543.7 817.8 543.5 824.4" stroke="#4758f8" stroke-width="0.76" fill="none" opacity="0.52"/><path d="M544.8 771.2 544.2 779 544.3 786.9 544.3 794.7 544.2 802.6 544.2 810.5" stroke="#2e84f8" stroke-width="1.08" fill="none" opacity="0.98"/><path d="M544.2 810.5 544 818.3 544.3 826.2 544.3 834" stroke="#4465fd" stroke-width="0.92" fill="none" opacity="0.72"/><path d="M548.7 771.2 548.7 779.1 548.1 787 548.1 794.9 547.7 802.8 547.9 810.7" stroke="#2797eb" stroke-width="0.99" fill="none" opacity="0.94"/><path d="M547.9 810.7 548.1 818.6 548.4 826.5 548.2 834.4" stroke="#3a74fe" stroke-width="0.84" fill="none" opacity="0.51"/><path d="M551.6 771.2 551.6 779.9 551.9 788.7 551.8 797.4 551.8 806.2" stroke="#259de7" stroke-width="0.75" fill="none" opacity="0.72"/><path d="M552.3 815 552.3 823.7 552.1 832.5 551.9 841.2" stroke="#3579fd" stroke-width="0.64" fill="none" opacity="0.70"/><path d="M553.9 771.2 553.9 779.4 554.4 787.7 554.4 795.9 554.6 804.2 554.8 812.5" stroke="#09bcbe" stroke-width="0.93" fill="none" opacity="0.81"/><path d="M554.8 812.5 554.4 820.7 554.7 829 554.6 837.2" stroke="#2699e9" stroke-width="0.79" fill="none" opacity="0.76"/><path d="M555 771.2 554.9 780 554.9 788.8 554.6 797.6 554.5 806.5" stroke="#2d89f5" stroke-width="0.98" fill="none" opacity="0.76"/><path d="M554.3 815.3 554.5 824.1 554.8 832.9 554.9 841.8" stroke="#4368fe" stroke-width="0.83" fill="none" opacity="0.60"/><path d="M558.7 771.2 558.6 777.6 558.9 784.1 559 790.5 559.3 797 558.9 803.4 559.3 809.9" stroke="#337afd" stroke-width="0.72" fill="none" opacity="0.95"/><path d="M559.3 809.9 559.3 816.4 559.6 822.8" stroke="#465efb" stroke-width="0.61" fill="none" opacity="0.60"/><path d="M561.3 771.2 561.1 779 560.7 786.8 560.1 794.6 559.8 802.4 559.6 810.2" stroke="#0abdbe" stroke-width="0.71" fill="none" opacity="0.81"/><path d="M559.6 810.2 559.5 818 559.7 825.8 559.6 833.6" stroke="#2699e9" stroke-width="0.61" fill="none" opacity="0.62"/><path d="M564.4 771.2 564.3 776.6 564.5 782 564.4 787.4 564.1 792.8 564 798.2 564.6 803.6 564.3 809" stroke="#1aacdd" stroke-width="1.08" fill="none" opacity="0.92"/><path d="M564.3 809 565.1 814.4" stroke="#2e87f7" stroke-width="0.92" fill="none" opacity="0.51"/><path d="M566.2 771.2 565.8 777.3 565.6 783.4 565.7 789.5 565.8 795.7 565.4 801.8 565 807.9" stroke="#3f6eff" stroke-width="0.86" fill="none" opacity="0.98"/><path d="M565.1 814.1 565.2 820.2" stroke="#4756f7" stroke-width="0.73" fill="none" opacity="0.57"/><path d="M568 771.2 568.3 778.9 568.5 786.7 568.9 794.4 568.8 802.2 568.8 810" stroke="#259de7" stroke-width="0.83" fill="none" opacity="0.71"/><path d="M568.8 810 568.8 817.7 568.6 825.5 569 833.3" stroke="#3479fd" stroke-width="0.70" fill="none" opacity="0.67"/><path d="M570.5 771.2 570.2 778.2 570.2 785.3 570.3 792.4 570.2 799.5 570.4 806.6" stroke="#2e85f8" stroke-width="1.03" fill="none" opacity="0.80"/><path d="M571 813.7 570.7 820.8 570.8 827.9" stroke="#4466fd" stroke-width="0.88" fill="none" opacity="0.58"/><path d="M573.9 771.2 573.7 779.1 573.9 787.1 574 795 574.2 803 574.7 810.9" stroke="#2d8bf4" stroke-width="0.91" fill="none" opacity="0.82"/><path d="M574.7 810.9 574.3 818.9 574.6 826.8 574.7 834.8" stroke="#426afe" stroke-width="0.77" fill="none" opacity="0.76"/><path d="M577.5 771.2 577.2 778.2 576.6 785.3 576.9 792.4 576.7 799.5 576.8 806.6" stroke="#3a74fe" stroke-width="1.06" fill="none" opacity="0.84"/><path d="M576.9 813.7 576.8 820.8 576.7 827.9" stroke="#475af9" stroke-width="0.90" fill="none" opacity="0.75"/><path d="M579.2 771.2 579 780.2 579 789.2 578.6 798.2 578.4 807.2" stroke="#4368fe" stroke-width="0.97" fill="none" opacity="0.94"/><path d="M578.3 816.2 578.4 825.2 578 834.2 578.2 843.2" stroke="#4852f4" stroke-width="0.82" fill="none" opacity="0.65"/><path d="M582.4 771.2 582.1 778.6 582.5 786.1 582.5 793.5 582.9 801 582.6 808.5" stroke="#03bbc2" stroke-width="0.90" fill="none" opacity="0.77"/><path d="M582.6 815.9 582.5 823.4 582.1 830.9" stroke="#2797eb" stroke-width="0.76" fill="none" opacity="0.74"/><path d="M584 771.2 583.8 778.3 584.5 785.4 584 792.5 583.7 799.6 583.4 806.6" stroke="#3d71ff" stroke-width="0.78" fill="none" opacity="1.00"/><path d="M583.5 813.7 583.4 820.8 583.6 827.9" stroke="#4758f8" stroke-width="0.66" fill="none" opacity="0.55"/><path d="M586.5 771.2 586.4 779.1 586.7 787 586.2 794.9 585.9 802.8 585.4 810.7" stroke="#3c72ff" stroke-width="0.98" fill="none" opacity="0.79"/><path d="M585.4 810.7 585.4 818.5 585.9 826.4 585.8 834.3" stroke="#4758f8" stroke-width="0.84" fill="none" opacity="0.66"/><path d="M589.8 771.2 589.5 778.6 589.3 786.1 589.3 793.5 589.8 801 589.8 808.4" stroke="#15afd9" stroke-width="0.84" fill="none" opacity="0.75"/><path d="M590.3 815.9 590.4 823.3 590.4 830.8" stroke="#2d8af5" stroke-width="0.71" fill="none" opacity="0.54"/><path d="M591.9 771.2 591.6 779.4 591.3 787.7 591.3 796 591.6 804.2 592 812.5" stroke="#20a4e3" stroke-width="0.87" fill="none" opacity="0.84"/><path d="M592 812.5 591.9 820.7 592 829 591.9 837.3" stroke="#307ffb" stroke-width="0.74" fill="none" opacity="0.71"/><path d="M595 771.2 594.7 779.5 594.8 787.8 594.6 796.2 594.2 804.5 594.5 812.9" stroke="#249fe5" stroke-width="0.89" fill="none" opacity="0.72"/><path d="M594.5 812.9 594.6 821.2 594.7 829.6 594.7 837.9" stroke="#327bfc" stroke-width="0.75" fill="none" opacity="0.79"/><path d="M597.6 771.2 597.2 780.3 597.4 789.4 597.4 798.5 597.8 807.6" stroke="#17aeda" stroke-width="1.07" fill="none" opacity="0.96"/><path d="M597.6 816.7 597.6 825.8 597.6 834.9 597.8 844" stroke="#2d89f5" stroke-width="0.91" fill="none" opacity="0.72"/><path d="M599.1 771.2 599.3 780.3 599.7 789.4 599.5 798.5 599.5 807.6" stroke="#06b5ce" stroke-width="0.86" fill="none" opacity="0.94"/><path d="M599.4 816.8 599.1 825.9 599.2 835 598.9 844.1" stroke="#2b90ef" stroke-width="0.73" fill="none" opacity="0.63"/><path d="M602.3 771.2 602.4 779 602.4 786.8 602.4 794.7 602.6 802.5 602.9 810.3" stroke="#406dfe" stroke-width="0.77" fill="none" opacity="0.82"/><path d="M602.9 810.3 603 818.2 603 826 603.3 833.8" stroke="#4755f6" stroke-width="0.65" fill="none" opacity="0.75"/><path d="M604.7 771.2 604.4 779.4 604 787.5 604.2 795.7 604.5 803.9 604.9 812.1" stroke="#21a4e3" stroke-width="0.89" fill="none" opacity="0.96"/><path d="M604.9 812.1 605.6 820.3 605.3 828.5 605.2 836.7" stroke="#307ffb" stroke-width="0.75" fill="none" opacity="0.62"/><path d="M607.5 771.2 607.4 779.3 606.9 787.4 607.1 795.5 607.3 803.6 607.2 811.7" stroke="#0bb3d2" stroke-width="0.73" fill="none" opacity="0.82"/><path d="M607.2 811.7 606.5 819.8 605.8 827.9 605.4 836" stroke="#2c8ef1" stroke-width="0.62" fill="none" opacity="0.61"/><path d="M609.9 771.2 610 779.3 609.8 787.5 609.7 795.7 609.4 803.9 608.8 812.1" stroke="#2896ec" stroke-width="0.73" fill="none" opacity="0.99"/><path d="M608.8 812.1 609 820.3 609.2 828.5 608.8 836.7" stroke="#3b73fe" stroke-width="0.62" fill="none" opacity="0.63"/><path d="M613.4 771.2 613.7 777.6 613.8 784 613.5 790.5 613.7 796.9 613.7 803.4 613.4 809.8" stroke="#20a4e3" stroke-width="1.04" fill="none" opacity="0.81"/><path d="M613.4 809.8 613.8 816.3 613.9 822.7" stroke="#3080fa" stroke-width="0.88" fill="none" opacity="0.66"/><path d="M616 771.2 615.8 779.7 615.7 788.3 615.4 796.9 614.9 805.5" stroke="#2d88f6" stroke-width="0.96" fill="none" opacity="0.79"/><path d="M615 814.1 615.1 822.7 615 831.3 615.1 839.9" stroke="#4368fe" stroke-width="0.82" fill="none" opacity="0.55"/><path d="M618 771.2 617.9 776.6 618 782.1 617.9 787.6 618 793.1 618.4 798.5 618.5 804 618.2 809.5" stroke="#0db3d3" stroke-width="1.01" fill="none" opacity="0.95"/><path d="M618.2 809.5 618.1 814.9" stroke="#2d8df2" stroke-width="0.86" fill="none" opacity="0.70"/><path d="M621 771.2 621.1 779.2 620.8 787.2 620.8 795.2 620.8 803.3 621.1 811.3" stroke="#20a5e2" stroke-width="0.86" fill="none" opacity="1.00"/><path d="M621.1 811.3 621.2 819.3 621.3 827.4 621.4 835.4" stroke="#2f80fa" stroke-width="0.73" fill="none" opacity="0.62"/><path d="M622.3 771.2 621.7 779.9 621.8 788.7 621.8 797.5 621.8 806.2" stroke="#0eb2d4" stroke-width="0.85" fill="none" opacity="0.92"/><path d="M622 815 621.9 823.8 622.2 832.6 622.2 841.3" stroke="#2d8df2" stroke-width="0.72" fill="none" opacity="0.65"/><path d="M624.9 771.2 625 780.4 625 789.6 625 798.8 624.7 808.1" stroke="#04b6cd" stroke-width="0.84" fill="none" opacity="0.70"/><path d="M625.2 817.3 624.6 826.5 624.5 835.8 624.3 845" stroke="#2b91ef" stroke-width="0.72" fill="none" opacity="0.65"/><path d="M628.9 771.2 629 779 629.2 786.8 628.8 794.6 628.4 802.4 628.8 810.2" stroke="#11b1d6" stroke-width="0.88" fill="none" opacity="0.89"/><path d="M628.8 810.2 629 817.9 628.8 825.7 628.8 833.5" stroke="#2d8cf3" stroke-width="0.75" fill="none" opacity="0.75"/><path d="M631 771.2 630.9 778.4 631 785.6 630.8 792.8 629.9 800 630.4 807.2" stroke="#2a93ee" stroke-width="0.97" fill="none" opacity="0.81"/><path d="M630.1 814.4 630.4 821.6 630.6 828.9" stroke="#3d70ff" stroke-width="0.82" fill="none" opacity="0.58"/><path d="M634.4 771.2 634.5 780.1 634.8 789.1 634.9 798.1 634.5 807.1" stroke="#259ce7" stroke-width="0.78" fill="none" opacity="0.81"/><path d="M634.3 816.1 634.4 825.1 634 834 633.9 843" stroke="#3579fd" stroke-width="0.66" fill="none" opacity="0.70"/><path d="M635.8 771.2 636 780.2 636.5 789.2 636.1 798.2 635.8 807.2" stroke="#1babde" stroke-width="1.06" fill="none" opacity="0.82"/><path d="M636.1 816.2 636.2 825.2 636 834.2 636.1 843.2" stroke="#2e85f8" stroke-width="0.90" fill="none" opacity="0.59"/><path d="M639.1 771.2 639.2 777.9 639.3 784.7 639.3 791.4 639.6 798.1 639.6 804.9 639.4 811.6" stroke="#01b9c6" stroke-width="0.70" fill="none" opacity="0.83"/><path d="M639.4 811.6 639 818.4 638.8 825.1" stroke="#2895ec" stroke-width="0.60" fill="none" opacity="0.66"/><path d="M641.3 771.2 640.8 777.8 640.7 784.4 641 791 641.2 797.7 641.1 804.3 641.3 810.9" stroke="#0db3d3" stroke-width="0.92" fill="none" opacity="0.86"/><path d="M641.3 810.9 641.4 817.6 641.1 824.2" stroke="#2d8df2" stroke-width="0.78" fill="none" opacity="0.70"/><path d="M644.6 771.2 644.6 779.8 645.1 788.4 645.1 797 645.3 805.6" stroke="#01b9c8" stroke-width="0.75" fill="none" opacity="0.73"/><path d="M645.3 814.2 645.7 822.8 645.2 831.4 645.3 840" stroke="#2994ed" stroke-width="0.64" fill="none" opacity="0.66"/><path d="M647.3 771.2 647.6 777.7 647.2 784.2 647.3 790.7 647.2 797.2 647.5 803.7 647.7 810.2" stroke="#12b1d7" stroke-width="1.06" fill="none" opacity="0.98"/><path d="M647.7 810.2 647.9 816.7 647.9 823.2" stroke="#2d8bf4" stroke-width="0.90" fill="none" opacity="0.73"/><path d="M648.9 771.2 649.3 777.6 649.1 784 648.8 790.4 648.6 796.8 648.4 803.3 648.1 809.7" stroke="#259be8" stroke-width="0.99" fill="none" opacity="0.71"/><path d="M648.1 809.7 647.9 816.1 648.1 822.5" stroke="#3677fe" stroke-width="0.84" fill="none" opacity="0.76"/><path d="M652.2 771.2 652.1 779.4 651.8 787.6 651.7 795.8 651.4 804 651.7 812.3" stroke="#1ea7e1" stroke-width="0.80" fill="none" opacity="0.87"/><path d="M651.7 812.3 651.5 820.5 651.5 828.7 652 836.9" stroke="#2f82fa" stroke-width="0.68" fill="none" opacity="0.75"/><path d="M654.4 771.2 654.6 776.4 654.3 781.7 654 787 654 792.3 653.5 797.6 653.3 802.9 653.6 808.2" stroke="#1ca9df" stroke-width="1.08" fill="none" opacity="0.81"/><path d="M656.5 771.2 656.9 778.5 656.5 785.8 656.9 793.1 656.7 800.4 656.7 807.7" stroke="#4367fd" stroke-width="0.71" fill="none" opacity="0.72"/><path d="M656.4 815 656 822.3 656.3 829.6" stroke="#4852f4" stroke-width="0.60" fill="none" opacity="0.60"/><path d="M659.6 771.2 659.6 776.1 659.7 781 659.8 785.9 660 790.9 659.8 795.8 660 800.7 659.8 805.7 660.2 810.6" stroke="#01b9c7" stroke-width="0.98" fill="none" opacity="0.71"/><path d="M662.8 771.2 662.9 780.1 662.4 789.1 662.6 798.1 662.3 807" stroke="#01b8c9" stroke-width="0.80" fill="none" opacity="0.80"/><path d="M661.8 816 661.9 825 662.2 833.9 662.4 842.9" stroke="#2a93ed" stroke-width="0.68" fill="none" opacity="0.69"/><path d="M664.5 771.2 664.3 779.8 664.1 788.4 664.1 797 664.4 805.6" stroke="#1baade" stroke-width="1.06" fill="none" opacity="0.75"/><path d="M664.4 814.2 664.1 822.8 663.7 831.4 663.4 840" stroke="#2e85f8" stroke-width="0.90" fill="none" opacity="0.77"/><path d="M667.5 771.2 667.6 778.8 667.8 786.5 668.1 794.2 667.8 801.9 667.7 809.5" stroke="#3e70ff" stroke-width="1.02" fill="none" opacity="0.92"/><path d="M667.7 809.5 667.7 817.2 667.7 824.9 667.9 832.6" stroke="#4757f7" stroke-width="0.87" fill="none" opacity="0.79"/><path d="M669.4 771.2 669.2 779.6 669.4 788 669.3 796.4 669.1 804.8 669.1 813.2" stroke="#3b73fe" stroke-width="0.71" fill="none" opacity="0.99"/><path d="M669.1 813.2 668.8 821.6 668.5 830 668.6 838.4" stroke="#4759f8" stroke-width="0.61" fill="none" opacity="0.68"/><path d="M672.4 771.2 672.5 778.8 672.5 786.4 672.9 794.1 672.8 801.7 673 809.4" stroke="#1aacdd" stroke-width="0.85" fill="none" opacity="0.86"/><path d="M673 809.4 673.3 817 673.8 824.6 673.9 832.3" stroke="#2e86f7" stroke-width="0.72" fill="none" opacity="0.70"/><path d="M675.5 771.2 675.8 779.4 676.1 787.6 676.6 795.8 676.6 804.1 676.9 812.3" stroke="#249de6" stroke-width="1.10" fill="none" opacity="0.78"/><path d="M676.9 812.3 676.7 820.5 676.6 828.8 677 837" stroke="#347afd" stroke-width="0.93" fill="none" opacity="0.55"/><path d="M602.2 798.2 601.9 811.6" stroke="#4ecc81" stroke-width="1.0" fill="none"/><path d="M610.3 784.9 612 791.8" stroke="#02bac4" stroke-width="1.0" fill="none"/><path d="M419.1 778.5 418.9 792" stroke="#07bcc0" stroke-width="1.0" fill="none"/><path d="M633.4 786 633 803.1" stroke="#1dc0b3" stroke-width="1.0" fill="none"/><path d="M629.6 798.8 630.3 816.9" stroke="#2ac3a9" stroke-width="1.0" fill="none"/><path d="M467.3 806.3 467.7 818.7" stroke="#2ec5a4" stroke-width="1.0" fill="none"/><path d="M665.1 798.1 663.8 816.3" stroke="#0ebebb" stroke-width="1.0" fill="none"/><path d="M547.3 802.5 547.2 812" stroke="#05b6cd" stroke-width="1.0" fill="none"/><path d="M453.4 790.7 453 803.8" stroke="#3eca8f" stroke-width="1.0" fill="none"/><path d="M512.2 797.9 512.3 815.1" stroke="#21c1b0" stroke-width="1.0" fill="none"/><path d="M577.2 805.4 576.5 818.3" stroke="#51cc7f" stroke-width="1.0" fill="none"/><path d="M430.1 805 429.2 821.6" stroke="#30c5a1" stroke-width="1.0" fill="none"/><path d="M517.9 805.3 516.7 821.1" stroke="#06bcc0" stroke-width="1.0" fill="none"/><path d="M585.1 797.6 585.4 812.3" stroke="#2ec5a4" stroke-width="1.0" fill="none"/><path d="M477.1 788.8 476.6 797.5" stroke="#45cb89" stroke-width="1.0" fill="none"/><path d="M586.5 805.2 588.1 817.5" stroke="#0abdbd" stroke-width="1.0" fill="none"/><path d="M428.9 784.6 428.7 791.9" stroke="#26c2ad" stroke-width="1.0" fill="none"/><path d="M447.3 801.2 446.9 808.3" stroke="#55cc7c" stroke-width="1.0" fill="none"/><path d="M535.2 792.9 535.6 808.2" stroke="#36c898" stroke-width="1.0" fill="none"/><path d="M445.4 795.6 446.1 805.5" stroke="#43ca8a" stroke-width="1.0" fill="none"/><path d="M627.7 775.7 628.3 792.4" stroke="#2bc3a7" stroke-width="1.0" fill="none"/><path d="M528.3 806.3 529.2 823.2" stroke="#02bac5" stroke-width="1.0" fill="none"/><path d="M587.8 799.9 588.3 810" stroke="#47cb87" stroke-width="1.0" fill="none"/><path d="M580.4 804.5 580.2 814.9" stroke="#0fbeba" stroke-width="1.0" fill="none"/><path d="M536.6 793.1 538.3 803.7" stroke="#01b8c9" stroke-width="1.0" fill="none"/><path d="M498.9 796.1 500.8 810.1" stroke="#2bc3a8" stroke-width="1.0" fill="none"/><path d="M429.3 787.6 431.2 794.7" stroke="#2ec4a5" stroke-width="1.0" fill="none"/><path d="M597.8 775.5 598.2 787.1" stroke="#15bfb7" stroke-width="1.0" fill="none"/><path d="M479.6 777.7 479 784.8" stroke="#4ecc81" stroke-width="1.0" fill="none"/><path d="M569.5 802.4 568.7 811.8" stroke="#28c2ab" stroke-width="1.0" fill="none"/><path d="M566.3 781.8 567.2 791.8" stroke="#05b6cd" stroke-width="1.0" fill="none"/><path d="M571.5 777.3 571.6 795.3" stroke="#2ac3a9" stroke-width="1.0" fill="none"/><path d="M431.6 796.8 431.9 811.1" stroke="#2cc4a7" stroke-width="1.0" fill="none"/><path d="M447.9 797.6 448.6 807.5" stroke="#43ca8a" stroke-width="1.0" fill="none"/><path d="M451.9 792 451.2 803.9" stroke="#3eca8f" stroke-width="1.0" fill="none"/><path d="M459.2 777 459.1 793.2" stroke="#3bc992" stroke-width="1.0" fill="none"/><path d="M662.1 778.6 661.9 793.7" stroke="#31c6a0" stroke-width="1.0" fill="none"/><path d="M645.3 798.2 644.8 814.7" stroke="#29c3aa" stroke-width="1.0" fill="none"/><path d="M563.8 782.7 564.7 791.1" stroke="#02bac4" stroke-width="1.0" fill="none"/><path d="M529.7 785.9 529.6 797.9" stroke="#26c2ac" stroke-width="1.0" fill="none"/><path d="M641.9 781.2 643.1 791.2" stroke="#54cc7d" stroke-width="1.0" fill="none"/><path d="M529 800 529.5 807.3" stroke="#51cc7f" stroke-width="1.0" fill="none"/><path d="M559.9 797.4 559.2 804.6" stroke="#01b9c6" stroke-width="1.0" fill="none"/><path d="M466.5 786.6 466.8 802.3" stroke="#41ca8c" stroke-width="1.0" fill="none"/><path d="M646.6 790 646.4 802" stroke="#4acb84" stroke-width="1.0" fill="none"/><path d="M627.5 780.8 627.9 788.9" stroke="#3cc991" stroke-width="1.0" fill="none"/><path d="M578 777.7 577.6 786.4" stroke="#02bac5" stroke-width="1.0" fill="none"/><path d="M450.2 803.1 450.9 821.2" stroke="#41ca8c" stroke-width="1.0" fill="none"/><path d="M568.5 802.2 568 820.3" stroke="#06bcc0" stroke-width="1.0" fill="none"/><path d="M570.5 790.9 571.1 802.6" stroke="#19bfb5" stroke-width="1.0" fill="none"/><path d="M523.7 783.3 524.9 792.3" stroke="#46cb88" stroke-width="1.0" fill="none"/><path d="M452.8 789.2 451.8 801.2" stroke="#21c1b0" stroke-width="1.0" fill="none"/><path d="M437.5 784 438.3 791.6" stroke="#34c79c" stroke-width="1.0" fill="none"/><path d="M521.1 787.2 522.9 800.1" stroke="#01b8c9" stroke-width="1.0" fill="none"/><path d="M432.7 789.1 433.6 804.6" stroke="#4bcb83" stroke-width="1.0" fill="none"/><path d="M437.7 795.3 438 812" stroke="#02b7ca" stroke-width="1.0" fill="none"/><path d="M594.8 804.3 594.7 812.4" stroke="#54cc7d" stroke-width="1.0" fill="none"/><path d="M472.6 799.9 472.2 811.9" stroke="#20c1b1" stroke-width="1.0" fill="none"/><path d="M478 785.8 477.6 800.6" stroke="#3eca8f" stroke-width="1.0" fill="none"/><path d="M660.2 803.2 660 815.8" stroke="#0abdbe" stroke-width="1.0" fill="none"/><path d="M509.9 786.1 509.4 798.1" stroke="#2cc4a7" stroke-width="1.0" fill="none"/><path d="M652 777.2 652.6 793.7" stroke="#0abdbd" stroke-width="1.0" fill="none"/><path d="M657.1 801.8 657.5 810.9" stroke="#36c899" stroke-width="1.0" fill="none"/><path d="M647.8 797.9 649.3 812.4" stroke="#32c69e" stroke-width="1.0" fill="none"/><path d="M635.2 776.9 634.7 784.6" stroke="#0ebdbb" stroke-width="1.0" fill="none"/><path d="M419.4 779.6 419.7 789.5" stroke="#01b9c7" stroke-width="1.0" fill="none"/><path d="M665.3 791.9 664.6 809.7" stroke="#47cb87" stroke-width="1.0" fill="none"/><path d="M604.3 775.8 604.5 783" stroke="#04b6cd" stroke-width="1.0" fill="none"/><path d="M654.8 776.6 656 786.6" stroke="#1ec0b2" stroke-width="1.0" fill="none"/><path d="M519.5 775.6 517.9 788" stroke="#38c896" stroke-width="1.0" fill="none"/><path d="M640.1 783.2 641.5 788.5" stroke="#f7f41c" stroke-width="1.7" stroke-linecap="round" fill="none"/><path d="M619 797.9 619.4 800.3" stroke="#f5ed22" stroke-width="2.0" stroke-linecap="round" fill="none"/><path d="M446.7 781.5 447.4 785.3" stroke="#f8f818" stroke-width="1.9" stroke-linecap="round" fill="none"/><path d="M486 782.9 486.3 785.2" stroke="#f7f41c" stroke-width="1.9" stroke-linecap="round" fill="none"/><path d="M615.6 789.6 615.7 792.5" stroke="#f9fb15" stroke-width="2.0" stroke-linecap="round" fill="none"/><path d="M482.1 779.3 480.9 782.6" stroke="#f6f11e" stroke-width="2.0" stroke-linecap="round" fill="none"/><path d="M513 791.7 513.2 795.1" stroke="#f8f719" stroke-width="2.2" stroke-linecap="round" fill="none"/><path d="M516 782 515.7 785.9" stroke="#f5ee21" stroke-width="2.2" stroke-linecap="round" fill="none"/><path d="M663.2 790.7 664 793.5" stroke="#f8f719" stroke-width="1.8" stroke-linecap="round" fill="none"/><path d="M483 796 483.7 801" stroke="#f6f11e" stroke-width="1.7" stroke-linecap="round" fill="none"/><path d="M491 795.2 491 798.9" stroke="#f8f61a" stroke-width="2.0" stroke-linecap="round" fill="none"/><path d="M531.2 786.7 531.1 791.6" stroke="#f5ec22" stroke-width="1.7" stroke-linecap="round" fill="none"/><path d="M462 778.6 461.9 781.8" stroke="#f9fb15" stroke-width="1.7" stroke-linecap="round" fill="none"/><path d="M424.1 791.5 424.1 797.2" stroke="#f8f719" stroke-width="1.7" stroke-linecap="round" fill="none"/><path d="M603.8 788.4 605.4 793" stroke="#f6f11f" stroke-width="2.0" stroke-linecap="round" fill="none"/><path d="M601.3 820.3 601.1 826" stroke="#f7f41c" stroke-width="1.9" stroke-linecap="round" fill="none"/><path d="M629.5 783.7 629.7 789.6" stroke="#f7f31d" stroke-width="1.5" stroke-linecap="round" fill="none"/><path d="M469 789.9 469.4 793" stroke="#f5ea24" stroke-width="1.7" stroke-linecap="round" fill="none"/><path d="M466 781 465.7 786.2" stroke="#f8f917" stroke-width="1.9" stroke-linecap="round" fill="none"/><path d="M529.5 795.1 529.5 800.2" stroke="#f5ec22" stroke-width="1.6" stroke-linecap="round" fill="none"/><path d="M569.9 778.6 569.6 784" stroke="#f5ee21" stroke-width="2.0" stroke-linecap="round" fill="none"/><path d="M560.5 780.6 560.4 786.4" stroke="#f8f817" stroke-width="1.8" stroke-linecap="round" fill="none"/><path d="M469.4 794.1 469.9 798.5" stroke="#f6ef20" stroke-width="2.0" stroke-linecap="round" fill="none"/><path d="M505.1 805 506.6 807.7" stroke="#f6f11e" stroke-width="1.6" stroke-linecap="round" fill="none"/><path d="M495.7 781.5 494.6 786" stroke="#f6f01f" stroke-width="1.6" stroke-linecap="round" fill="none"/><path d="M524.1 801.6 524.5 804.1" stroke="#f5ea23" stroke-width="1.8" stroke-linecap="round" fill="none"/><path d="M615.5 782.5 615.3 787.3" stroke="#f8f818" stroke-width="2.1" stroke-linecap="round" fill="none"/><path d="M615.7 784.4 615.1 787.3" stroke="#f9fa15" stroke-width="1.5" stroke-linecap="round" fill="none"/><path d="M506.8 778.5 506.4 781.1" stroke="#f8f719" stroke-width="1.9" stroke-linecap="round" fill="none"/><path d="M434.8 797.7 436.5 800.3" stroke="#f6f01f" stroke-width="1.7" stroke-linecap="round" fill="none"/><path d="M575.3 781.1 575.4 785.7" stroke="#f7f41c" stroke-width="1.6" stroke-linecap="round" fill="none"/><path d="M651.6 821.8 651 824.3" stroke="#f8f818" stroke-width="1.8" stroke-linecap="round" fill="none"/><path d="M527.4 779.8 527 784.1" stroke="#f9fa15" stroke-width="1.9" stroke-linecap="round" fill="none"/><path d="M462 796.8 462 802.1" stroke="#f7f31d" stroke-width="1.7" stroke-linecap="round" fill="none"/><path d="M518.1 786.6 517 792.2" stroke="#f6f11e" stroke-width="2.0" stroke-linecap="round" fill="none"/><path d="M451.8 784.2 452.5 787.9" stroke="#f5ee21" stroke-width="1.6" stroke-linecap="round" fill="none"/><path d="M612.5 795.8 613.4 799.2" stroke="#f5ed22" stroke-width="1.6" stroke-linecap="round" fill="none"/><path d="M537.1 800.3 537.2 805.5" stroke="#f6f11e" stroke-width="1.6" stroke-linecap="round" fill="none"/><path d="M518.4 777.7 516.7 782.9" stroke="#f6ef20" stroke-width="1.8" stroke-linecap="round" fill="none"/><path d="M497.4 789.2 497.8 793.9" stroke="#f5ea23" stroke-width="2.1" stroke-linecap="round" fill="none"/><path d="M579.8 793.5 578.4 796.8" stroke="#f9fb15" stroke-width="1.6" stroke-linecap="round" fill="none"/><path d="M548.3 792.1 547.6 795" stroke="#f6f11f" stroke-width="2.0" stroke-linecap="round" fill="none"/><path d="M449.5 798.4 450.2 800.9" stroke="#f7f51b" stroke-width="1.9" stroke-linecap="round" fill="none"/><path d="M659.4 790 659.9 794.6" stroke="#f6f21d" stroke-width="2.1" stroke-linecap="round" fill="none"/><path d="M674.7 782.2 675.7 784.9" stroke="#f9fa15" stroke-width="2.1" stroke-linecap="round" fill="none"/><path d="M628.6 779.5 628.7 782.6" stroke="#f6f11e" stroke-width="1.5" stroke-linecap="round" fill="none"/><path d="M601.8 793.2 602.2 798.8" stroke="#f5ed21" stroke-width="2.2" stroke-linecap="round" fill="none"/><path d="M423.3 777.6 422.7 781.8" stroke="#f5ed22" stroke-width="2.1" stroke-linecap="round" fill="none"/><path d="M483 807.9 482.7 811.3" stroke="#f6f21d" stroke-width="1.7" stroke-linecap="round" fill="none"/><path d="M608.8 787.1 608.2 791.2" stroke="#f8f817" stroke-width="1.8" stroke-linecap="round" fill="none"/><path d="M457.1 788.8 457.1 794.6" stroke="#f8f718" stroke-width="2.0" stroke-linecap="round" fill="none"/><path d="M583.2 778.8 583.3 782.6" stroke="#f7f61b" stroke-width="1.9" stroke-linecap="round" fill="none"/><path d="M495.2 783.9 494.7 786.5" stroke="#f6f21e" stroke-width="1.6" stroke-linecap="round" fill="none"/><path d="M585.9 812 585.8 816.8" stroke="#f6f11e" stroke-width="1.6" stroke-linecap="round" fill="none"/><path d="M587.5 819.1 586.3 824.2" stroke="#f5ea24" stroke-width="1.9" stroke-linecap="round" fill="none"/><path d="M426.4 788.9 425.9 794.7" stroke="#f5e825" stroke-width="1.9" stroke-linecap="round" fill="none"/><path d="M656.8 783 657.9 786" stroke="#f5ec22" stroke-width="1.8" stroke-linecap="round" fill="none"/><path d="M544.6 779 544.4 782.6" stroke="#f7f41c" stroke-width="1.5" stroke-linecap="round" fill="none"/><path d="M596.6 810.3 595.9 816" stroke="#f6f21e" stroke-width="2.2" stroke-linecap="round" fill="none"/><path d="M437 780.4 437.9 785.8" stroke="#f5ee21" stroke-width="1.9" stroke-linecap="round" fill="none"/><path d="M637 786.7 638.7 792.4" stroke="#f6f21d" stroke-width="1.6" stroke-linecap="round" fill="none"/><path d="M578.1 784.2 578.3 788.4" stroke="#f6f11e" stroke-width="1.5" stroke-linecap="round" fill="none"/><path d="M444.9 818.5 443.6 822.5" stroke="#f6f21e" stroke-width="1.8" stroke-linecap="round" fill="none"/><path d="M592.4 788.2 592 793.8" stroke="#f5e924" stroke-width="1.8" stroke-linecap="round" fill="none"/><path d="M518.4 795.3 518.3 800.9" stroke="#f8f61a" stroke-width="1.8" stroke-linecap="round" fill="none"/><path d="M444.1 791.1 444.4 795.2" stroke="#f9fa16" stroke-width="1.7" stroke-linecap="round" fill="none"/><path d="M661.4 790.5 661.4 793.3" stroke="#f8f817" stroke-width="1.9" stroke-linecap="round" fill="none"/><path d="M419.7 794.8 420.3 799.7" stroke="#f7f61a" stroke-width="1.8" stroke-linecap="round" fill="none"/><path d="M674.5 799.1 674.2 801.7" stroke="#f5ee21" stroke-width="2.2" stroke-linecap="round" fill="none"/><path d="M442.8 797.9 441.6 800.8" stroke="#f6f01f" stroke-width="2.0" stroke-linecap="round" fill="none"/><path d="M462.8 803 463 805.6" stroke="#f7f31d" stroke-width="1.9" stroke-linecap="round" fill="none"/><path d="M468.5 793.9 469.1 799.1" stroke="#f7f51b" stroke-width="1.8" stroke-linecap="round" fill="none"/><path d="M540 791.8 539.4 796.2" stroke="#f5e924" stroke-width="1.9" stroke-linecap="round" fill="none"/><path d="M642.3 784.6 641.4 790.5" stroke="#f5ed21" stroke-width="2.1" stroke-linecap="round" fill="none"/><path d="M460.6 786.4 459.9 789.9" stroke="#f5ec22" stroke-width="1.5" stroke-linecap="round" fill="none"/><path d="M551.5 793.2 552.2 795.8" stroke="#f6f01f" stroke-width="2.2" stroke-linecap="round" fill="none"/><path d="M651.6 790.6 652.7 794.6" stroke="#f8f719" stroke-width="1.9" stroke-linecap="round" fill="none"/><path d="M487.6 797.2 487.8 799.6" stroke="#f5ee21" stroke-width="1.5" stroke-linecap="round" fill="none"/><path d="M627.3 790.8 626.2 794" stroke="#f7f51b" stroke-width="1.6" stroke-linecap="round" fill="none"/><path d="M669.5 795.6 670.4 801" stroke="#f5ed21" stroke-width="2.2" stroke-linecap="round" fill="none"/><path d="M571.1 818 571 825.9" stroke="#f8f719" stroke-width="1.5" stroke-linecap="round" fill="none"/><path d="M570.7 835.8 570.8 841.2" stroke="#f6de29" stroke-width="1.5" stroke-linecap="round" fill="none"/><path d="M579.8 810.4 579.6 816.4" stroke="#f5ea24" stroke-width="1.5" stroke-linecap="round" fill="none"/><path d="M574.1 812.1 573.4 816" stroke="#f9fb15" stroke-width="1.5" stroke-linecap="round" fill="none"/><path d="M571.7 811.1 572 818.8" stroke="#f5e526" stroke-width="1.5" stroke-linecap="round" fill="none"/><path d="M579.7 816 578.9 821.1" stroke="#f5e725" stroke-width="1.5" stroke-linecap="round" fill="none"/><path d="M567.8 823.6 567.8 831.2" stroke="#f8f917" stroke-width="1.5" stroke-linecap="round" fill="none"/><path d="M578.9 836 578.2 841.6" stroke="#f5e526" stroke-width="1.5" stroke-linecap="round" fill="none"/><path d="M574.4 826.1 575.5 833.3" stroke="#f6f020" stroke-width="1.5" stroke-linecap="round" fill="none"/><path d="M580.5 824.4 579.5 829" stroke="#f8f719" stroke-width="1.5" stroke-linecap="round" fill="none"/><path d="M579.2 826.5 579.6 834.1" stroke="#f7dd2a" stroke-width="1.5" stroke-linecap="round" fill="none"/><path d="M569.9 818.3 570.6 825.3" stroke="#f5ee21" stroke-width="1.5" stroke-linecap="round" fill="none"/><path d="M418.2 843.2 419.4 841.3 420.6 844.9 421.7 843.4 422.9 841.2 424.1 844.7 425.3 843.7 426.5 841.2 427.6 844.5 428.8 843.9 430 841.1 431.2 844.3 432.4 844.1 433.5 841.1 434.7 844.1 435.9 844.3 437.1 841.1 438.3 843.9 439.4 844.5 440.6 841.2 441.8 843.7 443 844.7 444.2 841.2 445.4 843.4" stroke="#12beb9" stroke-width="1.3" fill="none"/><path d="M429.8 842 432.4 839.7 434.2 842.7" stroke="#fec13a" stroke-width="1.8" fill="none"/></g></g><path d="M418.2 886.6v2.5M418.2 772.3v-2.5M469.9 886.6v2.5M469.9 772.3v-2.5M521.6 886.6v2.5M521.6 772.3v-2.5M573.4 886.6v2.5M573.4 772.3v-2.5M625.1 886.6v2.5M625.1 772.3v-2.5M418.2 886.6h-2.5M675.5 886.6h2.5M418.2 863.7h-2.5M675.5 863.7h2.5M418.2 840.9h-2.5M675.5 840.9h2.5M418.2 818h-2.5M675.5 818h2.5M418.2 795.2h-2.5M675.5 795.2h2.5M418.2 772.3h-2.5M675.5 772.3h2.5" stroke="#4d4d4d" stroke-width="0.9" fill="none"/><rect x="418.2" y="772.3" width="257.3" height="114.3" fill="none" stroke="#262626" stroke-opacity="0.55" stroke-width="0.6"/><g font-size="10" fill="#333333"><text x="418.2" y="903.6" text-anchor="middle">0</text><text x="469.9" y="903.6" text-anchor="middle">2</text><text x="521.6" y="903.6" text-anchor="middle">4</text><text x="573.4" y="903.6" text-anchor="middle">6</text><text x="625.1" y="903.6" text-anchor="middle">8</text><text x="412.4" y="890.1" text-anchor="end">0</text><text x="412.4" y="867.2" text-anchor="end">10</text><text x="412.4" y="844.4" text-anchor="end">20</text><text x="412.4" y="821.5" text-anchor="end">30</text><text x="412.4" y="798.7" text-anchor="end">40</text><text x="412.4" y="775.8" text-anchor="end">50</text></g><text x="546.9" y="916.8" text-anchor="middle" font-weight="bold" font-size="10.6" fill="#262626">Time (s)</text><text transform="translate(396.2 829.5) rotate(-90)" text-anchor="middle" font-weight="bold" font-size="10.6" fill="#262626">Frequency (Hz)</text><text x="633.6" y="797.5" font-family="Liberation Serif, serif" font-weight="bold" font-size="12.4" fill="#fff" text-anchor="middle">SS-CWT</text><path d="M89.7 936.5V1050.4M100 936.5V1050.4M110.3 936.5V1050.4M120.6 936.5V1050.4M130.9 936.5V1050.4M141.3 936.5V1050.4M151.6 936.5V1050.4M161.9 936.5V1050.4M172.2 936.5V1050.4M182.5 936.5V1050.4M192.8 936.5V1050.4M203.1 936.5V1050.4M213.4 936.5V1050.4M223.7 936.5V1050.4M234 936.5V1050.4M244.3 936.5V1050.4M254.6 936.5V1050.4M265 936.5V1050.4M275.3 936.5V1050.4M285.6 936.5V1050.4M295.9 936.5V1050.4M306.2 936.5V1050.4M316.5 936.5V1050.4M79.4 1044.7H336.6M79.4 1039H336.6M79.4 1033.3H336.6M79.4 1027.6H336.6M79.4 1021.9H336.6M79.4 1016.2H336.6M79.4 1010.5H336.6M79.4 1004.8H336.6M79.4 999.1H336.6M79.4 993.5H336.6M79.4 987.8H336.6M79.4 982.1H336.6M79.4 976.4H336.6M79.4 970.7H336.6M79.4 965H336.6M79.4 959.3H336.6M79.4 953.6H336.6M79.4 947.9H336.6M79.4 942.2H336.6" stroke="#f1f1f1" stroke-width="0.6" fill="none"/><path d="M130.9 936.5V1050.4M182.5 936.5V1050.4M234 936.5V1050.4M285.6 936.5V1050.4M79.4 1021.9H336.6M79.4 993.5H336.6M79.4 965H336.6" stroke="#e6e6e6" stroke-width="0.7" fill="none"/><clipPath id="c185"><rect x="79.4" y="935.5" width="257.2" height="115.9"/></clipPath><g clip-path="url(#c185)"><path d="M79.5 992.7V992.7V992.7L80.5 992.7V993.1L81.5 993.2V993.8L82.5 993.9V994.3L83.5 994.4V994.5V994.5L84.5 994.5V994.2L85.5 994.1V993.6L86.5 993.5V993.1L87.5 993.1V992.7L88.5 992.7V992.6V992.6L89.5 992.7V993L90.5 993V993.5L91.5 993.5V993.8L92.5 993.8V993.8V993.7L93.5 993.7V993.3L94.5 993.3V993.1V993.1L95.5 993.1V993.4L96.5 993.4V993.9L97.5 994V994.1V994L98.5 994V993.6L99.5 993.5V993.1L100.5 993.1V993V993.2L101.5 993.3V994.1L102.5 994.2V994.8L103.5 994.8V994.4L104.5 994.2V992.9L105.5 992.7V991.5L106.5 991.4V991.2V991.4L107.5 991.5V992.6L108.5 992.8V994.2L109.5 994.4V994.9L110.5 994.9V994.4L111.5 994.2V993.6L112.5 993.5V993.2L113.5 993.2V993.4L114.5 993.4V993.6L115.5 993.7V993.5L116.5 993.5V993.3L117.5 993.3V993.3V993.4L118.5 993.4V993.9L119.5 994V994.3L120.5 994.3V994.1L121.5 994V993.1L122.5 993V992.3L123.5 992.2V992V992.1L124.5 992.1V992.5L125.5 992.5V993.1L126.5 993.1V993.5L127.5 993.6V993.9L128.5 994V994.3L129.5 994.3V994.7L130.5 994.7V994.7V994.6L131.5 994.5V993.9L132.5 993.8V993.2L133.5 993.1V992.8L134.5 992.8V993.1L135.5 993.2V993.7L136.5 993.7V993.9V993.8L137.5 993.8V993.3L138.5 993.1V992.4L139.5 992.3V992V992L140.5 992V992.5L141.5 992.7V993.5L142.5 993.7V994.5L143.5 994.5V994.7V994.7L144.5 994.7V994.2L145.5 994.1V993.7L146.5 993.6V993.4L147.5 993.3V993.3V993.4L148.5 993.5V993.7L149.5 993.7V993.8V993.8L150.5 993.7V993.5L151.5 993.4V992.9L152.5 992.9V992.6L153.5 992.6V992.7L154.5 992.8V993.4L155.5 993.5V994.1L156.5 994.1V994.2V994.1L157.5 994V993.5L158.5 993.4V992.7L159.5 992.6V992.5V992.5L160.5 992.6V993.3L161.5 993.5V994.4L162.5 994.5V994.7V994.7L163.5 994.7V994.1L164.5 994V993.2L165.5 993.1V992.9V992.9L166.5 992.9V993.4L167.5 993.5V994L168.5 994V994V993.8L169.5 993.7V992.9L170.5 992.8V992.4L171.5 992.4V992.4V992.7L172.5 992.8V993.7L173.5 993.8V994.3L174.5 994.3V993.9L175.5 993.8V992.9L176.5 992.8V992.5V992.5L177.5 992.5V993.1L178.5 993.2V994L179.5 994.1V994.5L180.5 994.5V994.2L181.5 994.1V993.7L182.5 993.6V993.6V993.6L183.5 993.6V993.8L184.5 993.8V993.9V993.7L185.5 993.6V992.9L186.5 992.8V992.1L187.5 992.1V992V992.1L188.5 992.2V992.9L189.5 993V993.7L190.5 993.7V994V993.3L191.5 993V992.1L192.5 992.1V991.5V991.6L193.5 991.8V998.2L194.5 999.1V999.9V998.4L195.5 998.1V998V998.4V998.2L196.5 997.8V990.8L197.5 990.3V989.8V990.6L198.5 990.8V991.8L199.5 992.1V993.9L200.5 994V994V993L201.5 993V993.8L202.5 993.8V992.7L203.5 992.6V994L204.5 994.7V996V995.6L205.5 995.3V994.5L206.5 994.5V993.8L207.5 993.8V994.7L208.5 994.9V995V992.9L209.5 992.6V992.3V992.9L210.5 993.3V993.6V991.6L211.5 991.4V999.9L212.5 1001V991.2L213.5 989.9V989V999.7L214.5 1003.1V1006.2V990.2L215.5 987.3V982.4V989.1L216.5 992.2V1011.7V1010.7L217.5 1007.9V991.6V992.3L218.5 993.8V1002.4V993.6L219.5 990.7V982.1V986.5L220.5 989.8V1011.4L221.5 1009.5V991.3V991.3L222.5 992.1V1006.1V1005.4L223.5 1003.3V986.8L224.5 986.5V989.3L225.5 989.9V1004.9L226.5 1008.4V1012.5V991.7L227.5 987.2V974.8V981L228.5 986V1028.3L229.5 1027.1V986.1L230.5 985.7V1027.8L231.5 1031.4V976.2L232.5 968.2V952.4V963.9L233.5 971.3V1038.1L234.5 1045.2V1050.4V1034.6L235.5 1030.7V998L236.5 991.4V967.5L237.5 969.2V1002.1L238.5 1008.7V1013V988.9L239.5 985.5V980.9V987.4L240.5 990.1V1021.7L241.5 1027.3V1044.8V1042.3L242.5 1036.7V972.1L243.5 968.2V965.9V981.2L244.5 984.2V987.2V984.6L245.5 985.4V1023.2L246.5 1030.4V1036.8V1002.8L247.5 992.6V977.4V981.1L248.5 984.7V1024.3L249.5 1024.9V991.5L250.5 987.3V978V982.2L251.5 985.2V1003.7V1003.5L252.5 1002V992.2V993.1L253.5 995.5V1014L254.5 1012.6V982.8L255.5 981.5V981.3V996.5L256.5 1000V1001.8V990.2L257.5 989.3V989.1V1008.6L258.5 1012.1V1014V996.9L259.5 991.8V983.5V985.5L260.5 987.2V994.6V994.4L261.5 993.9V993.4V1000L262.5 1001.9V1004.2V999.1L263.5 996.3V989.2V989.5L264.5 990.1V994.4V994.4L265.5 994V992.1V992.2L266.5 992.3V993.3L267.5 993.5V1000.7L268.5 1001.9V1002.9V995.5L269.5 993.9V990.8V991.6L270.5 992.3V995.2V994.6L271.5 993.6V990.3V990.7L272.5 991.3V999.3V999.1L273.5 998.2V989.5L274.5 989.5V998.3L275.5 1000.2V1001.7V993.7L276.5 992.3V988.8V990.4L277.5 991.5V999.2V999L278.5 998.3V992.7L279.5 992.7V996.7L280.5 996.4V990.7L281.5 990.4V990.2V992.4L282.5 993.1V997.9L283.5 998.1V998.2V995.4L284.5 994.6V993V993.3L285.5 993.8V995.5V994L286.5 992.9V990.2V990.5L287.5 990.9V997.4L288.5 998V998.3V993.6L289.5 993.1V992.6V994.2L290.5 995.3V997.5V995.4L291.5 994.2V989.9L292.5 989.9V995.5L293.5 996.7V998.1V995.1L294.5 994V992.1V992.3L295.5 992.5V993.6L296.5 993.7V993.5V993.9L297.5 994.1V994.3V993.1L298.5 992.8V992.4V993.2L299.5 993.6V996.4L300.5 996.3V993.9L301.5 993.8V993.6L302.5 993.5V992.7L303.5 992.8V993.4V993.1L304.5 992.9V992.1V992.1L305.5 992.3V995L306.5 995.1V995.2V993.7L307.5 993.6V993.5V994.1L308.5 994.3V994.9V994.9L309.5 994.8V993.4L310.5 993.2V992.3L311.5 992.3V993.7L312.5 994.2V995.7V995.4L313.5 995V991.3L314.5 991.2V994.7L315.5 995.4V996V993.6L316.5 993.2V992.8V993.5L317.5 993.8V995.6V995.2L318.5 994.8V993.4L319.5 993.4V992.9L320.5 992.9V994.8L321.5 995.5V996.5V994.5L322.5 993.7V992.7V993.1L323.5 993.3V994V993.3L324.5 993V992.5V992.9L325.5 993.4V995.3V994.1L326.5 993.3V991.1V991.5L327.5 992V996.2V996.1L328.5 995.6V992.4L329.5 992.5V994.8L330.5 995V995.1V993.5L331.5 993.4V993.3V994.4L332.5 994.7V994.9V994.4L333.5 994.2V993.8L334.5 993.7V993.2L335.5 993.2V992.7L336.5 992.5V992" stroke="#0072bd" stroke-width="0.85" fill="none" stroke-linejoin="round"/></g><path d="M79.4 936.5H336.6V1050.4H79.4Z" stroke="#4d4d4d" stroke-width="0.9" fill="none"/><path d="M79.4 1050.4v3M79.4 936.5v-3M130.9 1050.4v3M130.9 936.5v-3M182.5 1050.4v3M182.5 936.5v-3M234 1050.4v3M234 936.5v-3M285.6 1050.4v3M285.6 936.5v-3M79.4 1050.4h-3M336.6 1050.4h3M79.4 1021.9h-3M336.6 1021.9h3M79.4 993.5h-3M336.6 993.5h3M79.4 965h-3M336.6 965h3M79.4 936.5h-3M336.6 936.5h3" stroke="#4d4d4d" stroke-width="0.9" fill="none"/><g font-size="10" fill="#333333"><text x="79.4" y="1067.4" text-anchor="middle">0</text><text x="130.9" y="1067.4" text-anchor="middle">2</text><text x="182.5" y="1067.4" text-anchor="middle">4</text><text x="234" y="1067.4" text-anchor="middle">6</text><text x="285.6" y="1067.4" text-anchor="middle">8</text><text x="73.6" y="1053.9" text-anchor="end">-1</text><text x="73.6" y="1025.4" text-anchor="end">-0.5</text><text x="73.6" y="997" text-anchor="end">0</text><text x="73.6" y="968.5" text-anchor="end">0.5</text><text x="73.6" y="940" text-anchor="end">1</text></g><text x="208" y="1080.6" text-anchor="middle" font-weight="bold" font-size="10.6" fill="#262626">Time (s)</text><text transform="translate(51.9 993.5) rotate(-90)" text-anchor="middle" font-weight="bold" font-size="10.6" fill="#262626">Normalized amplitude</text><rect x="87.4" y="928.5" width="99.3" height="37.7" fill="#fff"/><path d="M92.4 928.5V966.2M97.3 928.5V966.2M102.3 928.5V966.2M107.3 928.5V966.2M112.2 928.5V966.2M117.2 928.5V966.2M122.2 928.5V966.2M127.1 928.5V966.2M132.1 928.5V966.2M137.1 928.5V966.2M142 928.5V966.2M147 928.5V966.2M151.9 928.5V966.2M156.9 928.5V966.2M161.9 928.5V966.2M166.8 928.5V966.2M171.8 928.5V966.2M176.8 928.5V966.2M181.7 928.5V966.2M87.4 961.5H186.7M87.4 956.8H186.7M87.4 952.1H186.7M87.4 947.4H186.7M87.4 942.6H186.7M87.4 937.9H186.7M87.4 933.2H186.7" stroke="#f1f1f1" stroke-width="0.6" fill="none"/><path d="M112.2 928.5V966.2M137.1 928.5V966.2M161.9 928.5V966.2M87.4 947.4H186.7" stroke="#e6e6e6" stroke-width="0.7" fill="none"/><clipPath id="c197"><rect x="87.4" y="928.5" width="99.3" height="37.7"/></clipPath><g clip-path="url(#c197)"><path d="M87.5 947.4V947.4L88.5 947.4V947.5L89.5 947.5V947.4L90.5 947.4V947.1L91.5 947.1V946.9L92.5 946.9V946.9V947L93.5 947V947.3L94.5 947.3V947.5L95.5 947.5V947L96.5 947V946.8L97.5 946.8V946.7V947.3L98.5 947.6V949.5V949.5L99.5 949.4V948.9V948.9L100.5 949V949V947.3L101.5 947V946.1V946.2L102.5 946.2V946.6L103.5 946.7V947.3L104.5 947.4V947.5V947.3L105.5 947.2V947.2V947.4L106.5 947.4V947.5V947.2L107.5 947.1V947.1V947.4L108.5 947.5V948.2V948.1L109.5 948V947.7L110.5 947.7V947.5L111.5 947.5V947.8L112.5 947.9V947.1L113.5 947V947V947.3L114.5 947.4V947.4V946.7L115.5 946.7V949.9L116.5 949.8V945.9L117.5 945.9V951.3L118.5 951.6V944.5L119.5 943.9V943.7V948.8L120.5 950.6V953.4V949.4L121.5 948.1V946.7V949.4L122.5 950.1V950.3V944.5L123.5 943.9V943.6V949.2L124.5 951.2V953.3V948.5L125.5 947.4V946.6V949.6L126.5 950.6V951.5V946.4L127.5 945.8V945V945.6L128.5 945.8V948.7L129.5 949.9V953.7V951.2L130.5 949.1V941.2V941.3L131.5 942V958.2L132.5 958.9V945.6L133.5 944.9V944.8V956.5L134.5 958.7V959.9V944.5L135.5 941.6V933.8V935.6L136.5 937.6V962.1L137.5 964.5V966.2V961L138.5 959.7V948.9L139.5 946.7V938.8L140.5 939.3V952.4L141.5 953.6V953.8V944.7L142.5 943.9V943.2V946.2L143.5 947.1V958.6L144.5 960.4V964.3V955.2L145.5 950.9V938.2L146.5 938.7V945.3L147.5 945.3V944.4V946.4L148.5 948.2V961.7V961.2L149.5 959.6V942.7L150.5 942.1V942.1V950L151.5 952.7V957.8V953.9L152.5 951.5V942.2L153.5 942.4V949.4L154.5 950.3V950.8V947.1L155.5 946.9V953.2L156.5 954V954.2V945.7L157.5 944.6V943.3V946.1L158.5 947.1V950.1V947.4L159.5 946.8V945.9V949.1L160.5 950.8V954.2V950.5L161.5 948.5V944.1V944.7L162.5 945.3V947.7V947.7L163.5 947.5V947.3V949.5L164.5 950.1V950.9V948.3L165.5 947.3V945.9V946.2L166.5 946.5V947.7V947.5L167.5 947.3V946.9V947L168.5 947V947.5L169.5 947.6V950.4L170.5 950.5V947.1L171.5 946.8V946.5V947.2L172.5 947.4V947.9V946.8L173.5 946.6V946.3V947.5L174.5 948.1V949.3V947.8L175.5 947.1V946V946.5L176.5 946.9V950.1V950L177.5 949.6V945.9L178.5 945.8V948.2L179.5 948.8V949.3V947.4L180.5 947.2V947.1V948.2L181.5 948.4V948.4V946.8L182.5 946.6V946.3V946.6L183.5 946.8V948.5L184.5 948.7V948.9V948.3L185.5 948V947.2V947.2L186.5 947.3V948" stroke="#0072bd" stroke-width="1.0" fill="none" stroke-linejoin="round"/></g><path d="M87.4 928.5H186.7V966.2H87.4Z" stroke="#555555" stroke-width="1.0" fill="none"/><path d="M87.4 966.2v-1.5M87.4 928.5v1.5M112.2 966.2v-1.5M112.2 928.5v1.5M137.1 966.2v-1.5M137.1 928.5v1.5M161.9 966.2v-1.5M161.9 928.5v1.5M186.7 966.2v-1.5M186.7 928.5v1.5M87.4 966.2h1.5M186.7 966.2h-1.5M87.4 947.4h1.5M186.7 947.4h-1.5M87.4 928.5h1.5M186.7 928.5h-1.5" stroke="#555555" stroke-width="1.0" fill="none"/><g font-size="5.6" fill="#333333" font-weight="bold"><text x="87.4" y="972.5" text-anchor="middle">4</text><text x="112.2" y="972.5" text-anchor="middle">5</text><text x="137.1" y="972.5" text-anchor="middle">6</text><text x="161.9" y="972.5" text-anchor="middle">7</text><text x="186.7" y="972.5" text-anchor="middle">8</text><text x="85.8" y="968.2" text-anchor="end">-1</text><text x="85.8" y="949.3" text-anchor="end">0</text><text x="85.8" y="930.5" text-anchor="end">1</text></g><text x="90.5" y="1042.8" font-family="Liberation Serif, serif" font-weight="bold" font-size="14.6" fill="#0000f0">SNR = 15.4</text><text x="292" y="1036.3" font-family="Liberation Serif, serif" font-weight="bold" font-size="16" fill="#000" text-anchor="middle">Denoised</text><rect x="418.2" y="936.5" width="257.3" height="113.9" fill="#3e26a8"/><clipPath id="sc207"><rect x="418.2" y="936.5" width="257.3" height="113.9"/></clipPath><g clip-path="url(#sc207)"><defs><filter id="bl209" x="-5%" y="-5%" width="110%" height="110%"><feGaussianBlur stdDeviation="0.35"/></filter></defs><defs><radialGradient id="rg210"><stop offset="0" stop-color="#1caadf" stop-opacity="0.7"/><stop offset="1" stop-color="#2d8cf3" stop-opacity="0"/></radialGradient></defs><g filter="url(#bl209)"><ellipse cx="575.9" cy="1044.7" rx="36" ry="7" fill="url(#rg210)"/><path d="M418.2 1046.1 441.7 1046.4 465.2 1047.1 488.7 1047.4 512.2 1047.2 535.7 1046.5 559.3 1046.1 582.8 1046.3 606.3 1046.9 629.8 1047.4 653.3 1047.3 676.8 1046.7" stroke="#484aee" stroke-width="0.8" fill="none" opacity="0.3"/><path d="M418.2 1044.1 441.7 1044.8 465.2 1045.2 488.7 1044.9 512.2 1044.3 535.7 1043.8 559.3 1044 582.8 1044.6 606.3 1045.1 629.8 1045 653.3 1044.5 676.8 1043.9" stroke="#484aee" stroke-width="0.8" fill="none" opacity="0.3"/><path d="M418.2 1042.2 441.7 1042.4 465.2 1042.1 488.7 1041.4 512.2 1041.1 535.7 1041.3 559.3 1042 582.8 1042.4 606.3 1042.2 629.8 1041.6 653.3 1041.1 676.8 1041.2" stroke="#484aee" stroke-width="0.8" fill="none" opacity="0.3"/><path d="M567.7 1042.4 570.5 1039.8 573.3 1037.4 576.1 1035.1 578.8 1033.4 581.6 1035.1 584.4 1037.4 587.2 1039.8 589.9 1042.4" stroke="#2994ed" stroke-width="0.8" fill="none" opacity="0.75"/><path d="M576.1 1042.4 581 1037.3 585.8 1032.4 590.6 1028.1 595.4 1024.8 600.2 1028.1 605 1032.4 609.9 1037.3 614.7 1042.4" stroke="#259de7" stroke-width="0.8" fill="none" opacity="0.75"/><path d="M539.2 1042.4 542.9 1038.1 546.6 1034 550.3 1030.4 554 1027.5 557.7 1030.4 561.4 1034 565.1 1038.1 568.8 1042.4" stroke="#3c71ff" stroke-width="0.8" fill="none" opacity="0.75"/><path d="M577.8 1042.4 580.9 1039.4 584 1036.5 587.1 1034 590.2 1032 593.3 1034 596.5 1036.5 599.6 1039.4 602.7 1042.4" stroke="#259be8" stroke-width="0.8" fill="none" opacity="0.75"/><path d="M572.7 1042.4 575.2 1038.9 577.7 1035.6 580.2 1032.6 582.8 1030.3 585.3 1032.6 587.8 1035.6 590.4 1038.9 592.9 1042.4" stroke="#23a0e5" stroke-width="0.8" fill="none" opacity="0.75"/><path d="M569.8 1042.4 572.6 1039.9 575.3 1037.5 578.1 1035.3 580.8 1033.7 583.6 1035.3 586.3 1037.5 589.1 1039.9 591.8 1042.4" stroke="#2d8cf3" stroke-width="0.8" fill="none" opacity="0.75"/><path d="M595 1042.4 598.3 1037.3 601.6 1032.5 605 1028.1 608.3 1024.8 611.6 1028.1 615 1032.5 618.3 1037.3 621.6 1042.4" stroke="#2d8df2" stroke-width="0.8" fill="none" opacity="0.75"/><path d="M606.7 1042.4 610.5 1038.1 614.2 1034.1 617.9 1030.5 621.6 1027.7 625.4 1030.5 629.1 1034.1 632.8 1038.1 636.5 1042.4" stroke="#2e87f7" stroke-width="0.8" fill="none" opacity="0.75"/><path d="M544.5 1042.4 548.6 1037.2 552.7 1032.4 556.8 1028 560.8 1024.7 564.9 1028 569 1032.4 573.1 1037.2 577.2 1042.4" stroke="#2797ea" stroke-width="0.8" fill="none" opacity="0.75"/><path d="M572.5 1042.4 575 1039.5 577.5 1036.7 580 1034.2 582.5 1032.3 585 1034.2 587.5 1036.7 590 1039.5 592.4 1042.4" stroke="#2c8ef1" stroke-width="0.8" fill="none" opacity="0.75"/><path d="M594.2 1042.4 596.5 1037 598.9 1031.9 601.2 1027.3 603.5 1023.7 605.9 1027.3 608.2 1031.9 610.5 1037 612.8 1042.4" stroke="#2797eb" stroke-width="0.8" fill="none" opacity="0.75"/><path d="M555.3 1030.8 563 1029.4 570.8 1029.9 575.9 1030.8" stroke="#f6e028" stroke-width="1.5" fill="none"/><path d="M581.1 1030.8 594 1028.8 607 1031.7" stroke="#15afd9" stroke-width="1.1" fill="none"/><path d="M577.2 955.1 578.6 961.7 579 968.3 579.6 974.8 580 981.4 580.3 988 580.9 994.6 579.8 1001.2 579.6 1007.8 579.9 1014.3" stroke="#18aedb" stroke-width="0.9" fill="none" opacity="0.9"/><path d="M580 981.4 580.3 988" stroke="#f5e327" stroke-width="1.4" fill="none"/><path d="M561.8 976.8 561.6 981 561.2 985.3 561.3 989.5 562.3 993.8 562.6 998 563.6 1002.3 564.1 1006.6 564.6 1010.8 565 1015.1" stroke="#05b6ce" stroke-width="1.0" fill="none" opacity="0.9"/><path d="M565.9 965.3 565.5 971.6 563.8 977.9 564.7 984.2 564.7 990.5 563.3 996.8 563.7 1003.1 563.3 1009.4 563.7 1015.7 563.6 1022" stroke="#259ce7" stroke-width="1.0" fill="none" opacity="0.9"/><path d="M563.8 977.9 564.7 984.2 564.7 990.5" stroke="#f5ef20" stroke-width="1.4" fill="none"/><path d="M565.5 959.5 565.5 967.2 565.2 974.9 565.2 982.6 565.8 990.3 565.4 998 565.9 1005.7 566.5 1013.4 566.9 1021.1 567.9 1028.8" stroke="#07b5cf" stroke-width="1.0" fill="none" opacity="0.9"/><path d="M564.2 974.1 563.8 979.2 563.6 984.4 562.5 989.5 561.8 994.7 561.2 999.9 560.4 1005 560.1 1010.2 560.6 1015.3 560.3 1020.5" stroke="#1aacdd" stroke-width="0.7" fill="none" opacity="0.9"/><path d="M562.5 989.5 561.8 994.7 561.2 999.9" stroke="#f6e028" stroke-width="1.4" fill="none"/><path d="M569.9 965.3 569.4 972 569.2 978.7 569.3 985.4 570 992.1 570.7 998.8 570.1 1005.5 570.8 1012.2 571 1018.9 571.8 1025.6" stroke="#11beb9" stroke-width="0.8" fill="none" opacity="0.9"/><path d="M558.5 973.9 558 979.5 559.7 985.1 559 990.8 559 996.4 559 1002 558.2 1007.6 558.7 1013.2 559.4 1018.8 559.4 1024.4" stroke="#2c8ff1" stroke-width="0.9" fill="none" opacity="0.9"/><path d="M561.5 960 562.1 965.9 561.5 971.8 562.2 977.7 563.4 983.6 563.5 989.5 563.4 995.4 563.6 1001.3 563.3 1007.2 562.8 1013.1" stroke="#2d8df2" stroke-width="0.9" fill="none" opacity="0.9"/><path d="M561.5 971.8 562.2 977.7 563.4 983.6" stroke="#f6de29" stroke-width="1.4" fill="none"/><path d="M562.7 975.7 562.5 979.7 562.6 983.7 563.7 987.7 563.4 991.8 563.8 995.8 562.9 999.8 562.5 1003.8 563 1007.9 562.8 1011.9" stroke="#2994ed" stroke-width="1.0" fill="none" opacity="0.9"/><path d="M558.5 956.2 558.3 964.2 558.2 972.3 558.7 980.3 558.7 988.3 558.1 996.4 558.3 1004.4 558.1 1012.5 557.9 1020.5 558.3 1028.6" stroke="#1babde" stroke-width="0.7" fill="none" opacity="0.9"/><path d="M557.9 968.8 557.7 975 557.1 981.1 556.6 987.3 556.5 993.4 558 999.6 557.8 1005.7 558 1011.9 558 1018 557.9 1024.2" stroke="#2c8ef1" stroke-width="0.8" fill="none" opacity="0.9"/><path d="M565 960.4 564.8 967.1 564.1 973.8 564.8 980.6 565.1 987.3 565.4 994.1 564.7 1000.8 565 1007.6 564.7 1014.3 566.2 1021.1" stroke="#15afd9" stroke-width="0.7" fill="none" opacity="0.9"/><path d="M566.4 977.9 566 982.1 565.9 986.2 566.1 990.4 565.8 994.6 565 998.7 564.2 1002.9 563.9 1007.1 563.3 1011.2 563.9 1015.4" stroke="#2e85f8" stroke-width="1.0" fill="none" opacity="0.9"/><path d="M566 982.1 565.9 986.2 566.1 990.4" stroke="#f7f41c" stroke-width="1.4" fill="none"/><path d="M578.3 972.4 577.8 977.1 578.5 981.8 579 986.5 578.8 991.3 579.6 996 578.7 1000.7 578.4 1005.5 577.4 1010.2 578.2 1014.9" stroke="#07b5d0" stroke-width="0.7" fill="none" opacity="0.9"/><path d="M578.8 991.3 579.6 996" stroke="#f6f21e" stroke-width="1.4" fill="none"/><path d="M582.5 973.4 580.9 978.8 581.5 984.1 582 989.4 581.4 994.8 581.6 1000.1 582.3 1005.4 583 1010.7 581.9 1016.1 581.9 1021.4" stroke="#1babde" stroke-width="0.9" fill="none" opacity="0.9"/><path d="M581.4 994.8 581.6 1000.1" stroke="#f6f020" stroke-width="1.4" fill="none"/><path d="M580.2 983.9 580 987.4 579.5 990.9 578.3 994.4 577.2 997.9 577.1 1001.4 577.3 1004.9 576.7 1008.4 576.7 1011.9 577.8 1015.4" stroke="#1caadf" stroke-width="1.0" fill="none" opacity="0.9"/><path d="M558.3 986.3 558.5 990.7 558.7 995.1 558.5 999.6 559.2 1004 558.2 1008.4 558.6 1012.9 558.5 1017.3 559 1021.7 560.1 1026.2" stroke="#16afda" stroke-width="1.0" fill="none" opacity="0.9"/><path d="M558.7 995.1 558.5 999.6 559.2 1004" stroke="#f5eb23" stroke-width="1.4" fill="none"/><path d="M570.8 972.7 569.9 976.3 569.3 979.9 569 983.5 569.3 987.1 568.9 990.6 569.8 994.2 569.5 997.8 570.5 1001.4 570.1 1005" stroke="#19addc" stroke-width="0.9" fill="none" opacity="0.9"/><path d="M569.3 987.1 568.9 990.6 569.8 994.2" stroke="#f6df29" stroke-width="1.4" fill="none"/><path d="M576.2 977.8 574.2 983.4 575.2 989 576 994.7 576.7 1000.3 576 1005.9 577.8 1011.6 577.4 1017.2 578 1022.8 577 1028.4" stroke="#249ee6" stroke-width="0.9" fill="none" opacity="0.9"/><path d="M576.7 1000.3 576 1005.9 577.8 1011.6" stroke="#f7f31c" stroke-width="1.4" fill="none"/><path d="M566.9 986.5 567.5 988.9 566.5 991.3 567 993.7 566.8 996.1 567.5 998.5 567.2 1000.9 567 1003.3 566.8 1005.7 566.2 1008.1" stroke="#1da9e0" stroke-width="0.9" fill="none" opacity="0.9"/><path d="M566.5 991.3 567 993.7 566.8 996.1" stroke="#f5e128" stroke-width="1.4" fill="none"/><path d="M557.9 957.3 558.2 963.7 559.1 970.1 559.7 976.6 560.5 983 561.5 989.4 560.5 995.8 560.9 1002.3 561.3 1008.7 561.1 1015.1" stroke="#249de6" stroke-width="0.8" fill="none" opacity="0.9"/><path d="M565.6 964.7 565.1 969.8 565 974.9 564.6 980 565.9 985.1 565.1 990.2 565 995.2 565.1 1000.3 565.4 1005.4 564.8 1010.5" stroke="#05b6ce" stroke-width="0.8" fill="none" opacity="0.9"/><path d="M565.1 969.8 565 974.9" stroke="#f6dd29" stroke-width="1.4" fill="none"/><path d="M568.6 990.8 569.2 995.1" stroke="#f6f020" stroke-width="1.6" stroke-linecap="round" fill="none"/><path d="M569.4 982.9 570.5 987.1" stroke="#f6f020" stroke-width="1.6" stroke-linecap="round" fill="none"/><path d="M572.2 986.2 572.1 992.6" stroke="#f6f020" stroke-width="1.6" stroke-linecap="round" fill="none"/><path d="M569.9 989.7 570 994.2" stroke="#f6f020" stroke-width="1.6" stroke-linecap="round" fill="none"/><path d="M569.5 989.3 568.6 995.3" stroke="#f6f020" stroke-width="1.6" stroke-linecap="round" fill="none"/><path d="M574.1 987.4 574.1 991.8" stroke="#f6f020" stroke-width="1.6" stroke-linecap="round" fill="none"/><path d="M530.1 993.5 529.7 996.5 531 999.5 531.6 1002.6 531.8 1005.6 532.2 1008.6 532 1011.7" stroke="#05b6ce" stroke-width="1.0" fill="none"/><path d="M532.6 998 532.3 999.9 532.4 1001.8 531.2 1003.7 530.1 1005.6 528.8 1007.5 528.5 1009.4" stroke="#1caadf" stroke-width="1.0" fill="none"/><path d="M588.1 991.2 587.1 996.5 586.3 1001.8 585.1 1007.1 584.7 1012.4 583.8 1017.7 583.1 1023.1" stroke="#05b6ce" stroke-width="1.0" fill="none"/><path d="M591.9 995.7 593.7 999.5 593.6 1003.3 593.1 1007.1 592.7 1010.9 593.4 1014.7 594.2 1018.5" stroke="#1caadf" stroke-width="1.0" fill="none"/><path d="M598.1 993.5 596.6 996.1 597.4 998.8 598.2 1001.4 598.8 1004.1 599.2 1006.7 599.2 1009.4" stroke="#12beb9" stroke-width="1.0" fill="none"/><path d="M604 995.7 603.8 998 604.6 1000.3 604.2 1002.6 604 1004.8 603.6 1007.1 603.2 1009.4" stroke="#2fc5a2" stroke-width="1.0" fill="none"/><path d="M609.2 1000.3 609.8 1002.9 611 1005.6 610.5 1008.3 609.7 1010.9 610.6 1013.6 610.4 1016.2" stroke="#1caadf" stroke-width="1.0" fill="none"/><path d="M636.9 1007.1 637.1 1010.2 637.8 1013.2 637.1 1016.2 638 1019.3 638.6 1022.3 636.9 1025.3" stroke="#259ce7" stroke-width="1.0" fill="none"/><path d="M548.7 1009.4 548.4 1013.2 548.7 1017 548.6 1020.8 548.1 1024.6 547.8 1028.4 548.1 1032.2" stroke="#2d8cf3" stroke-width="1.0" fill="none"/><path d="M617.3 1014 617.2 1017 618.9 1020 619.3 1023.1 618.5 1026.1 618.6 1029.1 618.8 1032.2" stroke="#2d8cf3" stroke-width="1.0" fill="none"/><path d="M596.6 1007.9 597.9 1005.3 599.2 1007.8 600.5 1008.4 601.8 1005.4 603.1 1007.3 604.4 1008.7 605.7 1005.6 607 1006.8 608.3 1008.9 609.6 1006 610.9 1006.3" stroke="#58cc79" stroke-width="1.2" fill="none"/></g></g><path d="M418.2 1050.4v2.5M418.2 936.5v-2.5M469.9 1050.4v2.5M469.9 936.5v-2.5M521.6 1050.4v2.5M521.6 936.5v-2.5M573.4 1050.4v2.5M573.4 936.5v-2.5M625.1 1050.4v2.5M625.1 936.5v-2.5M418.2 1050.4h-2.5M675.5 1050.4h2.5M418.2 1027.6h-2.5M675.5 1027.6h2.5M418.2 1004.8h-2.5M675.5 1004.8h2.5M418.2 982.1h-2.5M675.5 982.1h2.5M418.2 959.3h-2.5M675.5 959.3h2.5M418.2 936.5h-2.5M675.5 936.5h2.5" stroke="#4d4d4d" stroke-width="0.9" fill="none"/><rect x="418.2" y="936.5" width="257.3" height="113.9" fill="none" stroke="#262626" stroke-opacity="0.55" stroke-width="0.6"/><g font-size="10" fill="#333333"><text x="418.2" y="1067.4" text-anchor="middle">0</text><text x="469.9" y="1067.4" text-anchor="middle">2</text><text x="521.6" y="1067.4" text-anchor="middle">4</text><text x="573.4" y="1067.4" text-anchor="middle">6</text><text x="625.1" y="1067.4" text-anchor="middle">8</text><text x="412.4" y="1053.9" text-anchor="end">0</text><text x="412.4" y="1031.1" text-anchor="end">10</text><text x="412.4" y="1008.3" text-anchor="end">20</text><text x="412.4" y="985.6" text-anchor="end">30</text><text x="412.4" y="962.8" text-anchor="end">40</text><text x="412.4" y="940" text-anchor="end">50</text></g><text x="546.9" y="1080.6" text-anchor="middle" font-weight="bold" font-size="10.6" fill="#262626">Time (s)</text><text transform="translate(396.2 993.5) rotate(-90)" text-anchor="middle" font-weight="bold" font-size="10.6" fill="#262626">Frequency (Hz)</text><text x="633.6" y="952.9" font-family="Liberation Serif, serif" font-weight="bold" font-size="12.4" fill="#fff" text-anchor="middle">SS-CWT</text></svg></body></html>
